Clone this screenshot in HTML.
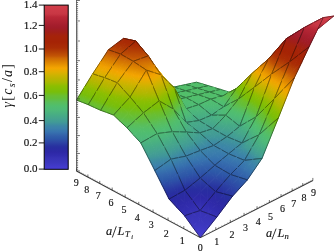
<!DOCTYPE html>
<html><head><meta charset="utf-8"><style>
html,body{margin:0;padding:0;background:#fff;}
body{width:335px;height:252px;overflow:hidden;position:relative;}
svg{position:absolute;left:0;top:0;}
.ax{stroke:#333;stroke-width:1.1;}
.zax{stroke:#444;stroke-width:0.75;}
.tk{stroke:#333;stroke-width:0.7;fill:none;}
.tk2{stroke:#888;stroke-width:0.5;fill:none;}
.m{stroke:#000;stroke-opacity:0.75;stroke-width:0.55;fill:none;}
#s path{stroke-width:1.0}
#s path.m{stroke-width:0.55}
text{font-family:"Liberation Serif",serif;fill:#111;}
.tx{opacity:0.999}
.tx text{stroke:#111;stroke-width:0.15}
.tl{font-size:10px;text-anchor:middle;}
.cl{font-size:11px;text-anchor:end;}
.it{font-style:italic;}
.ax1{font-size:12.3px}
.yl{font-size:14px;stroke:none!important}
</style></head><body>
<svg width="335" height="252" viewBox="0 0 335 252">
<defs><linearGradient id="cb" x1="0" y1="0" x2="0" y2="1"><stop offset="0.0024" stop-color="#d23e4a"/><stop offset="0.0542" stop-color="#c83744"/><stop offset="0.0725" stop-color="#b92837"/><stop offset="0.1212" stop-color="#a51e2d"/><stop offset="0.1395" stop-color="#a01c28"/><stop offset="0.1638" stop-color="#a01e19"/><stop offset="0.1882" stop-color="#a5230a"/><stop offset="0.2247" stop-color="#a52305"/><stop offset="0.2613" stop-color="#aa2d05"/><stop offset="0.2856" stop-color="#b44105"/><stop offset="0.3100" stop-color="#c35505"/><stop offset="0.3222" stop-color="#cd6905"/><stop offset="0.3465" stop-color="#dc8200"/><stop offset="0.3709" stop-color="#eb9b00"/><stop offset="0.3831" stop-color="#f5a500"/><stop offset="0.4074" stop-color="#e1af00"/><stop offset="0.4318" stop-color="#c8b400"/><stop offset="0.4440" stop-color="#beb400"/><stop offset="0.4683" stop-color="#aab900"/><stop offset="0.4927" stop-color="#8cbe00"/><stop offset="0.5292" stop-color="#78be0a"/><stop offset="0.5536" stop-color="#69be32"/><stop offset="0.5658" stop-color="#64be37"/><stop offset="0.5901" stop-color="#5abe5a"/><stop offset="0.6145" stop-color="#50be6e"/><stop offset="0.6389" stop-color="#4eb978"/><stop offset="0.6754" stop-color="#46aa87"/><stop offset="0.6876" stop-color="#46a58c"/><stop offset="0.7119" stop-color="#419b96"/><stop offset="0.7363" stop-color="#3c87a5"/><stop offset="0.7485" stop-color="#3c82aa"/><stop offset="0.7728" stop-color="#3773af"/><stop offset="0.7972" stop-color="#325faa"/><stop offset="0.8094" stop-color="#2d5aa8"/><stop offset="0.8337" stop-color="#2d46a5"/><stop offset="0.8581" stop-color="#2832a0"/><stop offset="0.8703" stop-color="#282da0"/><stop offset="0.8946" stop-color="#2d28a5"/><stop offset="0.9190" stop-color="#322daf"/><stop offset="0.9312" stop-color="#3732b4"/><stop offset="0.9616" stop-color="#3c37be"/><stop offset="0.9951" stop-color="#463cd2"/></linearGradient><linearGradient id="g0" gradientUnits="userSpaceOnUse" x1="233.1" y1="93.5" x2="232.9" y2="92.1"><stop offset="0" stop-color="#51be6c"/><stop offset="0.5" stop-color="#58be5e"/><stop offset="1" stop-color="#5fbe49"/></linearGradient>
<linearGradient id="g1" gradientUnits="userSpaceOnUse" x1="227.7" y1="94.8" x2="227.4" y2="93.7"><stop offset="0" stop-color="#51be6c"/><stop offset="0.5" stop-color="#58be5e"/><stop offset="1" stop-color="#5fbe49"/></linearGradient>
<linearGradient id="g2" gradientUnits="userSpaceOnUse" x1="240.0" y1="91.3" x2="239.8" y2="89.0"><stop offset="0" stop-color="#5dbe51"/><stop offset="0.333" stop-color="#62be3f"/><stop offset="0.667" stop-color="#67be34"/><stop offset="1" stop-color="#6ebe24"/></linearGradient>
<linearGradient id="g3" gradientUnits="userSpaceOnUse" x1="240.0" y1="91.3" x2="239.7" y2="89.2"><stop offset="0" stop-color="#5dbe51"/><stop offset="0.333" stop-color="#62be3f"/><stop offset="0.667" stop-color="#67be34"/><stop offset="1" stop-color="#6ebe24"/></linearGradient>
<linearGradient id="g4" gradientUnits="userSpaceOnUse" x1="222.2" y1="96.2" x2="221.7" y2="94.3"><stop offset="0" stop-color="#51be6c"/><stop offset="0.333" stop-color="#56be61"/><stop offset="0.667" stop-color="#5cbe54"/><stop offset="1" stop-color="#61be41"/></linearGradient>
<linearGradient id="g5" gradientUnits="userSpaceOnUse" x1="227.7" y1="94.8" x2="227.4" y2="92.7"><stop offset="0" stop-color="#51be6c"/><stop offset="0.333" stop-color="#56be61"/><stop offset="0.667" stop-color="#5cbe54"/><stop offset="1" stop-color="#61be41"/></linearGradient>
<linearGradient id="g6" gradientUnits="userSpaceOnUse" x1="216.5" y1="97.6" x2="216.9" y2="99.2"><stop offset="0" stop-color="#51be6c"/><stop offset="1" stop-color="#57be60"/></linearGradient>
<linearGradient id="g7" gradientUnits="userSpaceOnUse" x1="222.2" y1="96.2" x2="226.1" y2="98.3"><stop offset="0" stop-color="#51be6c"/><stop offset="0.333" stop-color="#56be61"/><stop offset="0.667" stop-color="#5cbe54"/><stop offset="1" stop-color="#61be41"/></linearGradient>
<linearGradient id="g8" gradientUnits="userSpaceOnUse" x1="247.0" y1="89.2" x2="246.0" y2="82.4"><stop offset="0" stop-color="#68be33"/><stop offset="0.25" stop-color="#72be1a"/><stop offset="0.5" stop-color="#7cbe08"/><stop offset="0.75" stop-color="#85be03"/><stop offset="1" stop-color="#92bd00"/></linearGradient>
<linearGradient id="g9" gradientUnits="userSpaceOnUse" x1="247.0" y1="89.2" x2="246.3" y2="82.3"><stop offset="0" stop-color="#68be33"/><stop offset="0.25" stop-color="#72be1a"/><stop offset="0.5" stop-color="#7cbe08"/><stop offset="0.75" stop-color="#85be03"/><stop offset="1" stop-color="#92bd00"/></linearGradient>
<linearGradient id="g10" gradientUnits="userSpaceOnUse" x1="234.7" y1="91.9" x2="234.4" y2="88.7"><stop offset="0" stop-color="#5fbe49"/><stop offset="0.333" stop-color="#65be36"/><stop offset="0.667" stop-color="#6cbe2a"/><stop offset="1" stop-color="#75be12"/></linearGradient>
<linearGradient id="g11" gradientUnits="userSpaceOnUse" x1="234.7" y1="91.9" x2="234.1" y2="88.9"><stop offset="0" stop-color="#5fbe49"/><stop offset="0.333" stop-color="#65be36"/><stop offset="0.667" stop-color="#6cbe2a"/><stop offset="1" stop-color="#75be12"/></linearGradient>
<linearGradient id="g12" gradientUnits="userSpaceOnUse" x1="198.3" y1="99.0" x2="199.1" y2="95.0"><stop offset="0" stop-color="#50be6e"/><stop offset="1" stop-color="#52be6a"/></linearGradient>
<linearGradient id="g13" gradientUnits="userSpaceOnUse" x1="198.3" y1="99.0" x2="197.3" y2="94.9"><stop offset="0" stop-color="#50be6e"/><stop offset="1" stop-color="#52be6a"/></linearGradient>
<linearGradient id="g14" gradientUnits="userSpaceOnUse" x1="149.1" y1="92.3" x2="152.4" y2="82.6"><stop offset="0" stop-color="#52be6a"/><stop offset="0.167" stop-color="#58be5d"/><stop offset="0.333" stop-color="#5fbe49"/><stop offset="0.5" stop-color="#65be36"/><stop offset="0.667" stop-color="#6dbe28"/><stop offset="0.833" stop-color="#76be0f"/><stop offset="1" stop-color="#7fbe07"/></linearGradient>
<linearGradient id="g15" gradientUnits="userSpaceOnUse" x1="149.1" y1="92.3" x2="152.3" y2="82.5"><stop offset="0" stop-color="#52be6a"/><stop offset="0.167" stop-color="#58be5d"/><stop offset="0.333" stop-color="#5fbe49"/><stop offset="0.5" stop-color="#65be36"/><stop offset="0.667" stop-color="#6dbe28"/><stop offset="0.833" stop-color="#76be0f"/><stop offset="1" stop-color="#7fbe07"/></linearGradient>
<linearGradient id="g16" gradientUnits="userSpaceOnUse" x1="217.2" y1="102.9" x2="222.4" y2="96.9"><stop offset="0" stop-color="#4fbc71"/><stop offset="0.5" stop-color="#52be6b"/><stop offset="1" stop-color="#57be60"/></linearGradient>
<linearGradient id="g17" gradientUnits="userSpaceOnUse" x1="217.2" y1="102.9" x2="215.9" y2="97.8"><stop offset="0" stop-color="#4fbc71"/><stop offset="1" stop-color="#51be6c"/></linearGradient>
<linearGradient id="g18" gradientUnits="userSpaceOnUse" x1="223.2" y1="97.6" x2="228.1" y2="91.5"><stop offset="0" stop-color="#57be60"/><stop offset="0.5" stop-color="#5cbe53"/><stop offset="1" stop-color="#61be41"/></linearGradient>
<linearGradient id="g19" gradientUnits="userSpaceOnUse" x1="204.7" y1="101.9" x2="205.9" y2="97.3"><stop offset="0" stop-color="#50bd70"/><stop offset="1" stop-color="#52be6b"/></linearGradient>
<linearGradient id="g20" gradientUnits="userSpaceOnUse" x1="230.1" y1="97.6" x2="238.5" y2="91.3"><stop offset="0" stop-color="#5dbe51"/><stop offset="0.333" stop-color="#63be39"/><stop offset="0.667" stop-color="#6bbe2d"/><stop offset="1" stop-color="#75be12"/></linearGradient>
<linearGradient id="g21" gradientUnits="userSpaceOnUse" x1="204.7" y1="101.9" x2="204.8" y2="96.9"><stop offset="0" stop-color="#50bd70"/><stop offset="1" stop-color="#52be6b"/></linearGradient>
<linearGradient id="g22" gradientUnits="userSpaceOnUse" x1="192.2" y1="101.1" x2="192.3" y2="96.1"><stop offset="0" stop-color="#50bd70"/><stop offset="1" stop-color="#52be6a"/></linearGradient>
<linearGradient id="g23" gradientUnits="userSpaceOnUse" x1="192.2" y1="101.1" x2="191.1" y2="96.3"><stop offset="0" stop-color="#50bd70"/><stop offset="1" stop-color="#52be6a"/></linearGradient>
<linearGradient id="g24" gradientUnits="userSpaceOnUse" x1="241.8" y1="88.8" x2="240.7" y2="81.6"><stop offset="0" stop-color="#6ebe24"/><stop offset="0.25" stop-color="#79be0a"/><stop offset="0.5" stop-color="#83be05"/><stop offset="0.75" stop-color="#8dbe00"/><stop offset="1" stop-color="#a3ba00"/></linearGradient>
<linearGradient id="g25" gradientUnits="userSpaceOnUse" x1="254.6" y1="82.7" x2="253.9" y2="75.1"><stop offset="0" stop-color="#87be02"/><stop offset="0.25" stop-color="#98bc00"/><stop offset="0.5" stop-color="#acb800"/><stop offset="0.75" stop-color="#bbb500"/><stop offset="1" stop-color="#cab400"/></linearGradient>
<linearGradient id="g26" gradientUnits="userSpaceOnUse" x1="241.8" y1="88.8" x2="240.9" y2="81.5"><stop offset="0" stop-color="#6ebe24"/><stop offset="0.25" stop-color="#79be0a"/><stop offset="0.5" stop-color="#83be05"/><stop offset="0.75" stop-color="#8dbe00"/><stop offset="1" stop-color="#a3ba00"/></linearGradient>
<linearGradient id="g27" gradientUnits="userSpaceOnUse" x1="254.6" y1="82.7" x2="253.7" y2="75.3"><stop offset="0" stop-color="#87be02"/><stop offset="0.25" stop-color="#98bc00"/><stop offset="0.5" stop-color="#acb800"/><stop offset="0.75" stop-color="#bbb500"/><stop offset="1" stop-color="#cab400"/></linearGradient>
<linearGradient id="g28" gradientUnits="userSpaceOnUse" x1="155.0" y1="94.3" x2="158.3" y2="84.5"><stop offset="0" stop-color="#52be6a"/><stop offset="0.167" stop-color="#58be5d"/><stop offset="0.333" stop-color="#5fbe49"/><stop offset="0.5" stop-color="#65be36"/><stop offset="0.667" stop-color="#6dbe28"/><stop offset="0.833" stop-color="#76be0f"/><stop offset="1" stop-color="#7fbe07"/></linearGradient>
<linearGradient id="g29" gradientUnits="userSpaceOnUse" x1="155.0" y1="94.3" x2="158.2" y2="84.4"><stop offset="0" stop-color="#52be6a"/><stop offset="0.167" stop-color="#58be5d"/><stop offset="0.333" stop-color="#5fbe49"/><stop offset="0.5" stop-color="#65be36"/><stop offset="0.667" stop-color="#6dbe28"/><stop offset="0.833" stop-color="#76be0f"/><stop offset="1" stop-color="#7fbe07"/></linearGradient>
<linearGradient id="g30" gradientUnits="userSpaceOnUse" x1="223.8" y1="106.8" x2="225.2" y2="97.9"><stop offset="0" stop-color="#4eba76"/><stop offset="0.5" stop-color="#50be6f"/><stop offset="1" stop-color="#57be60"/></linearGradient>
<linearGradient id="g31" gradientUnits="userSpaceOnUse" x1="223.8" y1="106.8" x2="228.6" y2="96.8"><stop offset="0" stop-color="#4eba76"/><stop offset="0.333" stop-color="#50bd6f"/><stop offset="0.667" stop-color="#56be63"/><stop offset="1" stop-color="#5dbe51"/></linearGradient>
<linearGradient id="g32" gradientUnits="userSpaceOnUse" x1="211.2" y1="106.4" x2="211.6" y2="99.2"><stop offset="0" stop-color="#4eba76"/><stop offset="0.5" stop-color="#4fbc72"/><stop offset="1" stop-color="#51be6c"/></linearGradient>
<linearGradient id="g33" gradientUnits="userSpaceOnUse" x1="211.2" y1="106.4" x2="210.9" y2="99.1"><stop offset="0" stop-color="#4eba76"/><stop offset="0.5" stop-color="#4fbc72"/><stop offset="1" stop-color="#51be6c"/></linearGradient>
<linearGradient id="g34" gradientUnits="userSpaceOnUse" x1="143.1" y1="79.5" x2="146.4" y2="69.2"><stop offset="0" stop-color="#7fbe07"/><stop offset="0.167" stop-color="#87be02"/><stop offset="0.333" stop-color="#95bd00"/><stop offset="0.5" stop-color="#a8b900"/><stop offset="0.667" stop-color="#b5b600"/><stop offset="0.833" stop-color="#c2b400"/><stop offset="1" stop-color="#d0b200"/></linearGradient>
<linearGradient id="g35" gradientUnits="userSpaceOnUse" x1="198.6" y1="104.7" x2="199.2" y2="99.1"><stop offset="0" stop-color="#4fbb74"/><stop offset="1" stop-color="#50be6e"/></linearGradient>
<linearGradient id="g36" gradientUnits="userSpaceOnUse" x1="198.6" y1="104.7" x2="198.2" y2="99.0"><stop offset="0" stop-color="#4fbb74"/><stop offset="1" stop-color="#50be6e"/></linearGradient>
<linearGradient id="g37" gradientUnits="userSpaceOnUse" x1="230.1" y1="97.6" x2="238.6" y2="94.4"><stop offset="0" stop-color="#5dbe51"/><stop offset="0.333" stop-color="#63be39"/><stop offset="0.667" stop-color="#6bbe2d"/><stop offset="1" stop-color="#75be12"/></linearGradient>
<linearGradient id="g38" gradientUnits="userSpaceOnUse" x1="186.0" y1="102.8" x2="185.1" y2="97.7"><stop offset="0" stop-color="#50bd70"/><stop offset="1" stop-color="#52be6a"/></linearGradient>
<linearGradient id="g39" gradientUnits="userSpaceOnUse" x1="143.1" y1="79.5" x2="146.2" y2="69.0"><stop offset="0" stop-color="#7fbe07"/><stop offset="0.167" stop-color="#87be02"/><stop offset="0.333" stop-color="#95bd00"/><stop offset="0.5" stop-color="#a8b900"/><stop offset="0.667" stop-color="#b5b600"/><stop offset="0.833" stop-color="#c2b400"/><stop offset="1" stop-color="#d0b200"/></linearGradient>
<linearGradient id="g40" gradientUnits="userSpaceOnUse" x1="186.0" y1="102.8" x2="184.8" y2="97.8"><stop offset="0" stop-color="#50bd70"/><stop offset="1" stop-color="#52be6a"/></linearGradient>
<linearGradient id="g41" gradientUnits="userSpaceOnUse" x1="237.6" y1="91.9" x2="246.8" y2="88.5"><stop offset="0" stop-color="#75be13"/><stop offset="0.25" stop-color="#7dbe07"/><stop offset="0.5" stop-color="#86be03"/><stop offset="0.75" stop-color="#90bd00"/><stop offset="1" stop-color="#a3ba00"/></linearGradient>
<linearGradient id="g42" gradientUnits="userSpaceOnUse" x1="262.4" y1="76.1" x2="261.8" y2="68.1"><stop offset="0" stop-color="#bdb400"/><stop offset="0.25" stop-color="#ccb300"/><stop offset="0.5" stop-color="#deb000"/><stop offset="0.75" stop-color="#eea900"/><stop offset="1" stop-color="#ee9e00"/></linearGradient>
<linearGradient id="g43" gradientUnits="userSpaceOnUse" x1="262.4" y1="76.1" x2="261.6" y2="68.2"><stop offset="0" stop-color="#bdb400"/><stop offset="0.25" stop-color="#ccb300"/><stop offset="0.5" stop-color="#deb000"/><stop offset="0.75" stop-color="#eea900"/><stop offset="1" stop-color="#ee9e00"/></linearGradient>
<linearGradient id="g44" gradientUnits="userSpaceOnUse" x1="161.0" y1="96.4" x2="164.1" y2="87.2"><stop offset="0" stop-color="#52be6a"/><stop offset="0.2" stop-color="#59be5c"/><stop offset="0.4" stop-color="#60be44"/><stop offset="0.6" stop-color="#68be33"/><stop offset="0.8" stop-color="#72be1b"/><stop offset="1" stop-color="#7cbe08"/></linearGradient>
<linearGradient id="g45" gradientUnits="userSpaceOnUse" x1="249.4" y1="81.9" x2="248.7" y2="73.8"><stop offset="0" stop-color="#92bd00"/><stop offset="0.2" stop-color="#a5ba00"/><stop offset="0.4" stop-color="#b3b700"/><stop offset="0.6" stop-color="#bfb400"/><stop offset="0.8" stop-color="#cbb300"/><stop offset="1" stop-color="#dbb000"/></linearGradient>
<linearGradient id="g46" gradientUnits="userSpaceOnUse" x1="249.4" y1="81.9" x2="248.4" y2="74.0"><stop offset="0" stop-color="#92bd00"/><stop offset="0.2" stop-color="#a5ba00"/><stop offset="0.4" stop-color="#b3b700"/><stop offset="0.6" stop-color="#bfb400"/><stop offset="0.8" stop-color="#cbb300"/><stop offset="1" stop-color="#dbb000"/></linearGradient>
<linearGradient id="g47" gradientUnits="userSpaceOnUse" x1="161.0" y1="96.4" x2="164.4" y2="86.7"><stop offset="0" stop-color="#52be6a"/><stop offset="0.167" stop-color="#58be5d"/><stop offset="0.333" stop-color="#5fbe49"/><stop offset="0.5" stop-color="#65be36"/><stop offset="0.667" stop-color="#6dbe28"/><stop offset="0.833" stop-color="#76be0f"/><stop offset="1" stop-color="#7fbe07"/></linearGradient>
<linearGradient id="g48" gradientUnits="userSpaceOnUse" x1="217.7" y1="110.9" x2="218.5" y2="103.0"><stop offset="0" stop-color="#4bb47d"/><stop offset="0.5" stop-color="#4eb977"/><stop offset="1" stop-color="#4fbc71"/></linearGradient>
<linearGradient id="g49" gradientUnits="userSpaceOnUse" x1="217.7" y1="110.9" x2="217.9" y2="102.9"><stop offset="0" stop-color="#4bb47d"/><stop offset="0.5" stop-color="#4eb977"/><stop offset="1" stop-color="#4fbc71"/></linearGradient>
<linearGradient id="g50" gradientUnits="userSpaceOnUse" x1="223.8" y1="106.8" x2="232.3" y2="100.6"><stop offset="0" stop-color="#4eba76"/><stop offset="0.333" stop-color="#50bd6f"/><stop offset="0.667" stop-color="#56be63"/><stop offset="1" stop-color="#5dbe51"/></linearGradient>
<linearGradient id="g51" gradientUnits="userSpaceOnUse" x1="205.0" y1="109.9" x2="205.1" y2="101.9"><stop offset="0" stop-color="#4cb57c"/><stop offset="0.5" stop-color="#4eba76"/><stop offset="1" stop-color="#50bd70"/></linearGradient>
<linearGradient id="g52" gradientUnits="userSpaceOnUse" x1="205.0" y1="109.9" x2="204.5" y2="101.9"><stop offset="0" stop-color="#4cb57c"/><stop offset="0.5" stop-color="#4eba76"/><stop offset="1" stop-color="#50bd70"/></linearGradient>
<linearGradient id="g53" gradientUnits="userSpaceOnUse" x1="231.1" y1="102.9" x2="240.7" y2="96.7"><stop offset="0" stop-color="#58be5e"/><stop offset="0.25" stop-color="#5ebe4b"/><stop offset="0.5" stop-color="#64be37"/><stop offset="0.75" stop-color="#6bbe2c"/><stop offset="1" stop-color="#75be13"/></linearGradient>
<linearGradient id="g54" gradientUnits="userSpaceOnUse" x1="192.4" y1="106.7" x2="191.7" y2="101.2"><stop offset="0" stop-color="#4fbb75"/><stop offset="1" stop-color="#50bd70"/></linearGradient>
<linearGradient id="g55" gradientUnits="userSpaceOnUse" x1="149.0" y1="81.4" x2="152.3" y2="70.9"><stop offset="0" stop-color="#7fbe07"/><stop offset="0.167" stop-color="#87be02"/><stop offset="0.333" stop-color="#95bd00"/><stop offset="0.5" stop-color="#a8b900"/><stop offset="0.667" stop-color="#b5b600"/><stop offset="0.833" stop-color="#c2b400"/><stop offset="1" stop-color="#d0b200"/></linearGradient>
<linearGradient id="g56" gradientUnits="userSpaceOnUse" x1="192.4" y1="106.7" x2="191.4" y2="101.2"><stop offset="0" stop-color="#4fbb75"/><stop offset="1" stop-color="#50bd70"/></linearGradient>
<linearGradient id="g57" gradientUnits="userSpaceOnUse" x1="179.6" y1="104.6" x2="178.6" y2="99.2"><stop offset="0" stop-color="#4fbd71"/><stop offset="1" stop-color="#52be6a"/></linearGradient>
<linearGradient id="g58" gradientUnits="userSpaceOnUse" x1="179.6" y1="104.6" x2="178.4" y2="99.4"><stop offset="0" stop-color="#4fbd71"/><stop offset="1" stop-color="#52be6a"/></linearGradient>
<linearGradient id="g59" gradientUnits="userSpaceOnUse" x1="149.0" y1="81.4" x2="152.2" y2="70.8"><stop offset="0" stop-color="#7fbe07"/><stop offset="0.167" stop-color="#87be02"/><stop offset="0.333" stop-color="#95bd00"/><stop offset="0.5" stop-color="#a8b900"/><stop offset="0.667" stop-color="#b5b600"/><stop offset="0.833" stop-color="#c2b400"/><stop offset="1" stop-color="#d0b200"/></linearGradient>
<linearGradient id="g60" gradientUnits="userSpaceOnUse" x1="237.6" y1="91.9" x2="246.8" y2="84.6"><stop offset="0" stop-color="#75be13"/><stop offset="0.25" stop-color="#7dbe07"/><stop offset="0.5" stop-color="#86be03"/><stop offset="0.75" stop-color="#90bd00"/><stop offset="1" stop-color="#a3ba00"/></linearGradient>
<linearGradient id="g61" gradientUnits="userSpaceOnUse" x1="167.1" y1="98.4" x2="170.0" y2="90.0"><stop offset="0" stop-color="#52be6a"/><stop offset="0.2" stop-color="#59be5c"/><stop offset="0.4" stop-color="#60be47"/><stop offset="0.6" stop-color="#66be35"/><stop offset="0.8" stop-color="#6fbe22"/><stop offset="1" stop-color="#79be0a"/></linearGradient>
<linearGradient id="g62" gradientUnits="userSpaceOnUse" x1="245.3" y1="86.2" x2="255.7" y2="78.5"><stop offset="0" stop-color="#95bc00"/><stop offset="0.25" stop-color="#abb900"/><stop offset="0.5" stop-color="#bab500"/><stop offset="0.75" stop-color="#c8b400"/><stop offset="1" stop-color="#dbb000"/></linearGradient>
<linearGradient id="g63" gradientUnits="userSpaceOnUse" x1="270.4" y1="69.3" x2="269.8" y2="60.9"><stop offset="0" stop-color="#efa800"/><stop offset="0.25" stop-color="#ec9c00"/><stop offset="0.5" stop-color="#e18a00"/><stop offset="0.75" stop-color="#d67802"/><stop offset="1" stop-color="#ca6305"/></linearGradient>
<linearGradient id="g64" gradientUnits="userSpaceOnUse" x1="136.8" y1="66.2" x2="140.1" y2="55.2"><stop offset="0" stop-color="#d0b200"/><stop offset="0.167" stop-color="#e0af00"/><stop offset="0.333" stop-color="#eda900"/><stop offset="0.5" stop-color="#f0a000"/><stop offset="0.667" stop-color="#e59200"/><stop offset="0.833" stop-color="#dc8200"/><stop offset="1" stop-color="#d27203"/></linearGradient>
<linearGradient id="g65" gradientUnits="userSpaceOnUse" x1="270.4" y1="69.3" x2="269.7" y2="61.0"><stop offset="0" stop-color="#efa800"/><stop offset="0.25" stop-color="#ec9c00"/><stop offset="0.5" stop-color="#e18a00"/><stop offset="0.75" stop-color="#d67802"/><stop offset="1" stop-color="#ca6305"/></linearGradient>
<linearGradient id="g66" gradientUnits="userSpaceOnUse" x1="211.5" y1="115.2" x2="212.0" y2="106.4"><stop offset="0" stop-color="#48ad84"/><stop offset="0.5" stop-color="#4bb47d"/><stop offset="1" stop-color="#4eba76"/></linearGradient>
<linearGradient id="g67" gradientUnits="userSpaceOnUse" x1="217.7" y1="110.9" x2="222.4" y2="113.5"><stop offset="0" stop-color="#4bb47d"/><stop offset="0.5" stop-color="#4eb977"/><stop offset="1" stop-color="#4fbc72"/></linearGradient>
<linearGradient id="g68" gradientUnits="userSpaceOnUse" x1="257.2" y1="74.8" x2="256.6" y2="66.6"><stop offset="0" stop-color="#cab400"/><stop offset="0.25" stop-color="#ddb000"/><stop offset="0.5" stop-color="#eca900"/><stop offset="0.75" stop-color="#ef9f00"/><stop offset="1" stop-color="#e38e00"/></linearGradient>
<linearGradient id="g69" gradientUnits="userSpaceOnUse" x1="167.1" y1="98.4" x2="170.3" y2="89.5"><stop offset="0" stop-color="#52be6a"/><stop offset="0.2" stop-color="#59be5c"/><stop offset="0.4" stop-color="#60be44"/><stop offset="0.6" stop-color="#68be33"/><stop offset="0.8" stop-color="#72be1b"/><stop offset="1" stop-color="#7cbe08"/></linearGradient>
<linearGradient id="g70" gradientUnits="userSpaceOnUse" x1="257.2" y1="74.8" x2="256.5" y2="66.7"><stop offset="0" stop-color="#cab400"/><stop offset="0.25" stop-color="#ddb000"/><stop offset="0.5" stop-color="#eca900"/><stop offset="0.75" stop-color="#ef9f00"/><stop offset="1" stop-color="#e38e00"/></linearGradient>
<linearGradient id="g71" gradientUnits="userSpaceOnUse" x1="136.8" y1="66.2" x2="139.9" y2="55.1"><stop offset="0" stop-color="#d0b200"/><stop offset="0.167" stop-color="#e0af00"/><stop offset="0.333" stop-color="#eda900"/><stop offset="0.5" stop-color="#f0a000"/><stop offset="0.667" stop-color="#e59200"/><stop offset="0.833" stop-color="#dc8200"/><stop offset="1" stop-color="#d27203"/></linearGradient>
<linearGradient id="g72" gradientUnits="userSpaceOnUse" x1="211.5" y1="115.2" x2="211.4" y2="106.4"><stop offset="0" stop-color="#48ad84"/><stop offset="0.5" stop-color="#4bb47d"/><stop offset="1" stop-color="#4eba76"/></linearGradient>
<linearGradient id="g73" gradientUnits="userSpaceOnUse" x1="223.8" y1="106.8" x2="229.7" y2="108.3"><stop offset="0" stop-color="#4eba76"/><stop offset="0.333" stop-color="#4fbd71"/><stop offset="0.667" stop-color="#53be69"/><stop offset="1" stop-color="#58be5e"/></linearGradient>
<linearGradient id="g74" gradientUnits="userSpaceOnUse" x1="198.8" y1="112.2" x2="197.6" y2="104.8"><stop offset="0" stop-color="#4bb47d"/><stop offset="0.5" stop-color="#4eb978"/><stop offset="1" stop-color="#4fbb74"/></linearGradient>
<linearGradient id="g75" gradientUnits="userSpaceOnUse" x1="198.8" y1="112.2" x2="197.4" y2="104.9"><stop offset="0" stop-color="#4bb47d"/><stop offset="0.5" stop-color="#4eb978"/><stop offset="1" stop-color="#4fbb74"/></linearGradient>
<linearGradient id="g76" gradientUnits="userSpaceOnUse" x1="231.1" y1="102.9" x2="239.5" y2="93.7"><stop offset="0" stop-color="#58be5e"/><stop offset="0.25" stop-color="#5ebe4b"/><stop offset="0.5" stop-color="#64be37"/><stop offset="0.75" stop-color="#6bbe2c"/><stop offset="1" stop-color="#75be13"/></linearGradient>
<linearGradient id="g77" gradientUnits="userSpaceOnUse" x1="186.0" y1="108.8" x2="185.2" y2="102.9"><stop offset="0" stop-color="#4eba76"/><stop offset="1" stop-color="#50bd70"/></linearGradient>
<linearGradient id="g78" gradientUnits="userSpaceOnUse" x1="161.2" y1="86.2" x2="164.5" y2="76.9"><stop offset="0" stop-color="#7cbe08"/><stop offset="0.2" stop-color="#85be03"/><stop offset="0.4" stop-color="#93bd00"/><stop offset="0.6" stop-color="#a8b900"/><stop offset="0.8" stop-color="#b7b600"/><stop offset="1" stop-color="#c6b400"/></linearGradient>
<linearGradient id="g79" gradientUnits="userSpaceOnUse" x1="186.0" y1="108.8" x2="184.9" y2="103.0"><stop offset="0" stop-color="#4eba76"/><stop offset="1" stop-color="#50bd70"/></linearGradient>
<linearGradient id="g80" gradientUnits="userSpaceOnUse" x1="238.6" y1="99.0" x2="248.4" y2="89.3"><stop offset="0" stop-color="#68be33"/><stop offset="0.25" stop-color="#72be19"/><stop offset="0.5" stop-color="#7dbe08"/><stop offset="0.75" stop-color="#86be03"/><stop offset="1" stop-color="#95bc00"/></linearGradient>
<linearGradient id="g81" gradientUnits="userSpaceOnUse" x1="155.0" y1="83.3" x2="158.8" y2="73.6"><stop offset="0" stop-color="#7fbe07"/><stop offset="0.167" stop-color="#87be02"/><stop offset="0.333" stop-color="#95bd00"/><stop offset="0.5" stop-color="#a8b900"/><stop offset="0.667" stop-color="#b5b600"/><stop offset="0.833" stop-color="#c2b400"/><stop offset="1" stop-color="#d0b200"/></linearGradient>
<linearGradient id="g82" gradientUnits="userSpaceOnUse" x1="179.6" y1="104.6" x2="182.7" y2="97.7"><stop offset="0" stop-color="#4fbd71"/><stop offset="0.2" stop-color="#54be67"/><stop offset="0.4" stop-color="#5abe5a"/><stop offset="0.6" stop-color="#60be44"/><stop offset="0.8" stop-color="#67be34"/><stop offset="1" stop-color="#6fbe21"/></linearGradient>
<linearGradient id="g83" gradientUnits="userSpaceOnUse" x1="245.3" y1="86.2" x2="254.8" y2="76.1"><stop offset="0" stop-color="#95bc00"/><stop offset="0.25" stop-color="#abb900"/><stop offset="0.5" stop-color="#bab500"/><stop offset="0.75" stop-color="#c8b400"/><stop offset="1" stop-color="#dbb000"/></linearGradient>
<linearGradient id="g84" gradientUnits="userSpaceOnUse" x1="211.5" y1="115.2" x2="218.3" y2="112.6"><stop offset="0" stop-color="#48ad84"/><stop offset="1" stop-color="#4bb47d"/></linearGradient>
<linearGradient id="g85" gradientUnits="userSpaceOnUse" x1="173.3" y1="100.6" x2="176.7" y2="93.4"><stop offset="0" stop-color="#52be6a"/><stop offset="0.2" stop-color="#59be5c"/><stop offset="0.4" stop-color="#60be47"/><stop offset="0.6" stop-color="#66be35"/><stop offset="0.8" stop-color="#6fbe22"/><stop offset="1" stop-color="#79be0a"/></linearGradient>
<linearGradient id="g86" gradientUnits="userSpaceOnUse" x1="205.3" y1="117.8" x2="204.2" y2="110.0"><stop offset="0" stop-color="#47ab86"/><stop offset="0.5" stop-color="#49b081"/><stop offset="1" stop-color="#4cb57c"/></linearGradient>
<linearGradient id="g87" gradientUnits="userSpaceOnUse" x1="218.5" y1="115.2" x2="226.1" y2="112.9"><stop offset="0" stop-color="#4bb47d"/><stop offset="0.5" stop-color="#4eb978"/><stop offset="1" stop-color="#4fbc72"/></linearGradient>
<linearGradient id="g88" gradientUnits="userSpaceOnUse" x1="142.8" y1="68.0" x2="146.1" y2="56.8"><stop offset="0" stop-color="#d0b200"/><stop offset="0.167" stop-color="#e0af00"/><stop offset="0.333" stop-color="#eda900"/><stop offset="0.5" stop-color="#f0a000"/><stop offset="0.667" stop-color="#e59100"/><stop offset="0.833" stop-color="#dc8100"/><stop offset="1" stop-color="#d27103"/></linearGradient>
<linearGradient id="g89" gradientUnits="userSpaceOnUse" x1="278.7" y1="62.3" x2="278.0" y2="51.4"><stop offset="0" stop-color="#d57602"/><stop offset="0.2" stop-color="#ca6205"/><stop offset="0.4" stop-color="#be4e05"/><stop offset="0.6" stop-color="#b34005"/><stop offset="0.8" stop-color="#ac3205"/><stop offset="1" stop-color="#a82a05"/></linearGradient>
<linearGradient id="g90" gradientUnits="userSpaceOnUse" x1="205.3" y1="117.8" x2="204.1" y2="110.1"><stop offset="0" stop-color="#47ab86"/><stop offset="0.5" stop-color="#49b081"/><stop offset="1" stop-color="#4cb57c"/></linearGradient>
<linearGradient id="g91" gradientUnits="userSpaceOnUse" x1="253.3" y1="79.7" x2="263.1" y2="69.3"><stop offset="0" stop-color="#c8b400"/><stop offset="0.2" stop-color="#d7b100"/><stop offset="0.4" stop-color="#e5ad00"/><stop offset="0.6" stop-color="#f1a700"/><stop offset="0.8" stop-color="#ec9c00"/><stop offset="1" stop-color="#e38e00"/></linearGradient>
<linearGradient id="g92" gradientUnits="userSpaceOnUse" x1="278.7" y1="62.3" x2="277.6" y2="51.6"><stop offset="0" stop-color="#d57602"/><stop offset="0.2" stop-color="#ca6205"/><stop offset="0.4" stop-color="#be4e05"/><stop offset="0.6" stop-color="#b34005"/><stop offset="0.8" stop-color="#ac3205"/><stop offset="1" stop-color="#a82a05"/></linearGradient>
<linearGradient id="g93" gradientUnits="userSpaceOnUse" x1="142.8" y1="68.0" x2="145.9" y2="56.6"><stop offset="0" stop-color="#d0b200"/><stop offset="0.167" stop-color="#e0af00"/><stop offset="0.333" stop-color="#eda900"/><stop offset="0.5" stop-color="#f0a000"/><stop offset="0.667" stop-color="#e59100"/><stop offset="0.833" stop-color="#dc8100"/><stop offset="1" stop-color="#d27103"/></linearGradient>
<linearGradient id="g94" gradientUnits="userSpaceOnUse" x1="224.9" y1="109.0" x2="232.3" y2="106.0"><stop offset="0" stop-color="#4fbc72"/><stop offset="0.5" stop-color="#52be6a"/><stop offset="1" stop-color="#58be5e"/></linearGradient>
<linearGradient id="g95" gradientUnits="userSpaceOnUse" x1="265.3" y1="67.9" x2="264.7" y2="59.3"><stop offset="0" stop-color="#ee9e00"/><stop offset="0.25" stop-color="#e28c00"/><stop offset="0.5" stop-color="#d77902"/><stop offset="0.75" stop-color="#cb6505"/><stop offset="1" stop-color="#be4e05"/></linearGradient>
<linearGradient id="g96" gradientUnits="userSpaceOnUse" x1="265.3" y1="67.9" x2="264.5" y2="59.4"><stop offset="0" stop-color="#ee9e00"/><stop offset="0.25" stop-color="#e28c00"/><stop offset="0.5" stop-color="#d77902"/><stop offset="0.75" stop-color="#cb6505"/><stop offset="1" stop-color="#be4e05"/></linearGradient>
<linearGradient id="g97" gradientUnits="userSpaceOnUse" x1="192.4" y1="114.6" x2="191.2" y2="106.9"><stop offset="0" stop-color="#4ab27f"/><stop offset="0.5" stop-color="#4db77a"/><stop offset="1" stop-color="#4fbb75"/></linearGradient>
<linearGradient id="g98" gradientUnits="userSpaceOnUse" x1="232.2" y1="107.0" x2="240.5" y2="103.9"><stop offset="0" stop-color="#57be5f"/><stop offset="0.333" stop-color="#5dbe50"/><stop offset="0.667" stop-color="#62be3d"/><stop offset="1" stop-color="#68be33"/></linearGradient>
<linearGradient id="g99" gradientUnits="userSpaceOnUse" x1="192.4" y1="114.6" x2="191.0" y2="107.0"><stop offset="0" stop-color="#4ab27f"/><stop offset="0.5" stop-color="#4db77a"/><stop offset="1" stop-color="#4fbb75"/></linearGradient>
<linearGradient id="g100" gradientUnits="userSpaceOnUse" x1="130.3" y1="52.5" x2="133.5" y2="40.7"><stop offset="0" stop-color="#d37303"/><stop offset="0.167" stop-color="#c85f05"/><stop offset="0.333" stop-color="#bd4d05"/><stop offset="0.5" stop-color="#b44105"/><stop offset="0.667" stop-color="#ad3405"/><stop offset="0.833" stop-color="#a92b05"/><stop offset="1" stop-color="#a72705"/></linearGradient>
<linearGradient id="g101" gradientUnits="userSpaceOnUse" x1="167.4" y1="89.1" x2="170.5" y2="80.6"><stop offset="0" stop-color="#79be0a"/><stop offset="0.2" stop-color="#82be05"/><stop offset="0.4" stop-color="#8bbe01"/><stop offset="0.6" stop-color="#9dbb00"/><stop offset="0.8" stop-color="#afb800"/><stop offset="1" stop-color="#bdb400"/></linearGradient>
<linearGradient id="g102" gradientUnits="userSpaceOnUse" x1="130.3" y1="52.5" x2="133.3" y2="40.6"><stop offset="0" stop-color="#d37303"/><stop offset="0.167" stop-color="#c85f05"/><stop offset="0.333" stop-color="#bd4d05"/><stop offset="0.5" stop-color="#b44105"/><stop offset="0.667" stop-color="#ad3405"/><stop offset="0.833" stop-color="#a92b05"/><stop offset="1" stop-color="#a72705"/></linearGradient>
<linearGradient id="g103" gradientUnits="userSpaceOnUse" x1="238.6" y1="99.0" x2="248.3" y2="89.0"><stop offset="0" stop-color="#68be33"/><stop offset="0.25" stop-color="#72be19"/><stop offset="0.5" stop-color="#7dbe08"/><stop offset="0.75" stop-color="#86be03"/><stop offset="1" stop-color="#95bc00"/></linearGradient>
<linearGradient id="g104" gradientUnits="userSpaceOnUse" x1="161.2" y1="86.2" x2="164.7" y2="77.3"><stop offset="0" stop-color="#7cbe08"/><stop offset="0.2" stop-color="#85be03"/><stop offset="0.4" stop-color="#93bd00"/><stop offset="0.6" stop-color="#a8b900"/><stop offset="0.8" stop-color="#b7b600"/><stop offset="1" stop-color="#c6b400"/></linearGradient>
<linearGradient id="g105" gradientUnits="userSpaceOnUse" x1="186.0" y1="108.8" x2="188.9" y2="102.4"><stop offset="0" stop-color="#4eba76"/><stop offset="0.2" stop-color="#50bd70"/><stop offset="0.4" stop-color="#54be65"/><stop offset="0.6" stop-color="#5abe58"/><stop offset="0.8" stop-color="#61be43"/><stop offset="1" stop-color="#67be34"/></linearGradient>
<linearGradient id="g106" gradientUnits="userSpaceOnUse" x1="246.5" y1="93.1" x2="256.6" y2="82.8"><stop offset="0" stop-color="#84be04"/><stop offset="0.2" stop-color="#8dbe00"/><stop offset="0.4" stop-color="#a0bb00"/><stop offset="0.6" stop-color="#afb800"/><stop offset="0.8" stop-color="#bbb500"/><stop offset="1" stop-color="#c8b400"/></linearGradient>
<linearGradient id="g107" gradientUnits="userSpaceOnUse" x1="179.6" y1="104.6" x2="182.8" y2="98.1"><stop offset="0" stop-color="#4fbd71"/><stop offset="0.2" stop-color="#54be67"/><stop offset="0.4" stop-color="#5abe5a"/><stop offset="0.6" stop-color="#60be44"/><stop offset="0.8" stop-color="#67be34"/><stop offset="1" stop-color="#6fbe21"/></linearGradient>
<linearGradient id="g108" gradientUnits="userSpaceOnUse" x1="205.3" y1="117.8" x2="208.9" y2="113.2"><stop offset="0" stop-color="#47ab86"/><stop offset="1" stop-color="#48ad84"/></linearGradient>
<linearGradient id="g109" gradientUnits="userSpaceOnUse" x1="212.2" y1="119.8" x2="219.2" y2="116.6"><stop offset="0" stop-color="#47ac85"/><stop offset="1" stop-color="#4bb47d"/></linearGradient>
<linearGradient id="g110" gradientUnits="userSpaceOnUse" x1="218.5" y1="115.2" x2="224.2" y2="108.4"><stop offset="0" stop-color="#4bb47d"/><stop offset="0.5" stop-color="#4eb978"/><stop offset="1" stop-color="#4fbc72"/></linearGradient>
<linearGradient id="g111" gradientUnits="userSpaceOnUse" x1="155.0" y1="73.5" x2="158.3" y2="64.9"><stop offset="0" stop-color="#c6b400"/><stop offset="0.2" stop-color="#d6b100"/><stop offset="0.4" stop-color="#e6ad00"/><stop offset="0.6" stop-color="#f3a600"/><stop offset="0.8" stop-color="#ea9900"/><stop offset="1" stop-color="#e08800"/></linearGradient>
<linearGradient id="g112" gradientUnits="userSpaceOnUse" x1="199.0" y1="120.5" x2="197.8" y2="112.4"><stop offset="0" stop-color="#46a988"/><stop offset="0.5" stop-color="#48ae83"/><stop offset="1" stop-color="#4bb47d"/></linearGradient>
<linearGradient id="g113" gradientUnits="userSpaceOnUse" x1="225.7" y1="115.2" x2="233.4" y2="108.4"><stop offset="0" stop-color="#4eb977"/><stop offset="0.333" stop-color="#4fbc72"/><stop offset="0.667" stop-color="#52be6a"/><stop offset="1" stop-color="#57be5f"/></linearGradient>
<linearGradient id="g114" gradientUnits="userSpaceOnUse" x1="199.0" y1="120.5" x2="197.6" y2="112.4"><stop offset="0" stop-color="#46a988"/><stop offset="0.5" stop-color="#48ae83"/><stop offset="1" stop-color="#4bb47d"/></linearGradient>
<linearGradient id="g115" gradientUnits="userSpaceOnUse" x1="253.3" y1="79.7" x2="262.4" y2="68.3"><stop offset="0" stop-color="#c8b400"/><stop offset="0.2" stop-color="#d7b100"/><stop offset="0.4" stop-color="#e5ad00"/><stop offset="0.6" stop-color="#f1a700"/><stop offset="0.8" stop-color="#ec9c00"/><stop offset="1" stop-color="#e38e00"/></linearGradient>
<linearGradient id="g116" gradientUnits="userSpaceOnUse" x1="148.9" y1="69.8" x2="153.1" y2="60.6"><stop offset="0" stop-color="#d0b200"/><stop offset="0.167" stop-color="#e0af00"/><stop offset="0.333" stop-color="#eda900"/><stop offset="0.5" stop-color="#f0a000"/><stop offset="0.667" stop-color="#e59100"/><stop offset="0.833" stop-color="#dc8100"/><stop offset="1" stop-color="#d27103"/></linearGradient>
<linearGradient id="g117" gradientUnits="userSpaceOnUse" x1="287.4" y1="53.2" x2="286.9" y2="41.5"><stop offset="0" stop-color="#ad3305"/><stop offset="0.2" stop-color="#a92a05"/><stop offset="0.4" stop-color="#a62605"/><stop offset="0.6" stop-color="#a52306"/><stop offset="0.8" stop-color="#a52308"/><stop offset="1" stop-color="#a4220e"/></linearGradient>
<linearGradient id="g118" gradientUnits="userSpaceOnUse" x1="232.2" y1="107.0" x2="237.3" y2="98.2"><stop offset="0" stop-color="#57be5f"/><stop offset="0.333" stop-color="#5dbe50"/><stop offset="0.667" stop-color="#62be3d"/><stop offset="1" stop-color="#68be33"/></linearGradient>
<linearGradient id="g119" gradientUnits="userSpaceOnUse" x1="287.4" y1="53.2" x2="286.4" y2="41.7"><stop offset="0" stop-color="#ad3305"/><stop offset="0.2" stop-color="#a92a05"/><stop offset="0.4" stop-color="#a62605"/><stop offset="0.6" stop-color="#a52306"/><stop offset="0.8" stop-color="#a52308"/><stop offset="1" stop-color="#a4220e"/></linearGradient>
<linearGradient id="g120" gradientUnits="userSpaceOnUse" x1="261.5" y1="73.0" x2="271.0" y2="61.2"><stop offset="0" stop-color="#f2a200"/><stop offset="0.2" stop-color="#e79400"/><stop offset="0.4" stop-color="#dd8400"/><stop offset="0.6" stop-color="#d47403"/><stop offset="0.8" stop-color="#c96105"/><stop offset="1" stop-color="#be4e05"/></linearGradient>
<linearGradient id="g121" gradientUnits="userSpaceOnUse" x1="173.7" y1="93.7" x2="177.0" y2="86.8"><stop offset="0" stop-color="#6fbe21"/><stop offset="0.2" stop-color="#79be0a"/><stop offset="0.4" stop-color="#81be05"/><stop offset="0.6" stop-color="#8abe01"/><stop offset="0.8" stop-color="#9bbc00"/><stop offset="1" stop-color="#adb800"/></linearGradient>
<linearGradient id="g122" gradientUnits="userSpaceOnUse" x1="273.6" y1="60.7" x2="272.9" y2="49.3"><stop offset="0" stop-color="#ca6305"/><stop offset="0.2" stop-color="#be4e05"/><stop offset="0.4" stop-color="#b34005"/><stop offset="0.6" stop-color="#ac3105"/><stop offset="0.8" stop-color="#a82a05"/><stop offset="1" stop-color="#a62505"/></linearGradient>
<linearGradient id="g123" gradientUnits="userSpaceOnUse" x1="192.4" y1="114.6" x2="191.6" y2="115.4"><stop offset="0" stop-color="#4ab27f"/><stop offset="0.333" stop-color="#4db77a"/><stop offset="0.667" stop-color="#4fbb74"/><stop offset="1" stop-color="#50be6f"/></linearGradient>
<linearGradient id="g124" gradientUnits="userSpaceOnUse" x1="239.6" y1="106.9" x2="249.9" y2="96.5"><stop offset="0" stop-color="#5ebe4e"/><stop offset="0.2" stop-color="#64be38"/><stop offset="0.4" stop-color="#6abe2f"/><stop offset="0.6" stop-color="#73be16"/><stop offset="0.8" stop-color="#7cbe08"/><stop offset="1" stop-color="#84be04"/></linearGradient>
<linearGradient id="g125" gradientUnits="userSpaceOnUse" x1="273.6" y1="60.7" x2="272.5" y2="49.5"><stop offset="0" stop-color="#ca6305"/><stop offset="0.2" stop-color="#be4e05"/><stop offset="0.4" stop-color="#b34005"/><stop offset="0.6" stop-color="#ac3105"/><stop offset="0.8" stop-color="#a82a05"/><stop offset="1" stop-color="#a62505"/></linearGradient>
<linearGradient id="g126" gradientUnits="userSpaceOnUse" x1="122.1" y1="45.7" x2="124.0" y2="38.5"><stop offset="0" stop-color="#ad3305"/><stop offset="0.5" stop-color="#a92b05"/><stop offset="1" stop-color="#a72705"/></linearGradient>
<linearGradient id="g127" gradientUnits="userSpaceOnUse" x1="136.3" y1="54.1" x2="139.6" y2="42.0"><stop offset="0" stop-color="#d27203"/><stop offset="0.167" stop-color="#c75e05"/><stop offset="0.333" stop-color="#bd4c05"/><stop offset="0.5" stop-color="#b34005"/><stop offset="0.667" stop-color="#ad3305"/><stop offset="0.833" stop-color="#a92b05"/><stop offset="1" stop-color="#a72605"/></linearGradient>
<linearGradient id="g128" gradientUnits="userSpaceOnUse" x1="167.4" y1="89.1" x2="170.9" y2="81.9"><stop offset="0" stop-color="#79be0a"/><stop offset="0.2" stop-color="#82be05"/><stop offset="0.4" stop-color="#8bbe01"/><stop offset="0.6" stop-color="#9dbb00"/><stop offset="0.8" stop-color="#afb800"/><stop offset="1" stop-color="#bdb400"/></linearGradient>
<linearGradient id="g129" gradientUnits="userSpaceOnUse" x1="122.1" y1="45.7" x2="124.3" y2="38.1"><stop offset="0" stop-color="#ad3305"/><stop offset="0.5" stop-color="#a92b05"/><stop offset="1" stop-color="#a72705"/></linearGradient>
<linearGradient id="g130" gradientUnits="userSpaceOnUse" x1="136.3" y1="54.1" x2="139.4" y2="41.9"><stop offset="0" stop-color="#d27203"/><stop offset="0.167" stop-color="#c75e05"/><stop offset="0.333" stop-color="#bd4c05"/><stop offset="0.5" stop-color="#b34005"/><stop offset="0.667" stop-color="#ad3305"/><stop offset="0.833" stop-color="#a92b05"/><stop offset="1" stop-color="#a72605"/></linearGradient>
<linearGradient id="g131" gradientUnits="userSpaceOnUse" x1="186.0" y1="108.8" x2="185.3" y2="109.1"><stop offset="0" stop-color="#4eba76"/><stop offset="0.2" stop-color="#50bd70"/><stop offset="0.4" stop-color="#54be65"/><stop offset="0.6" stop-color="#5abe58"/><stop offset="0.8" stop-color="#61be43"/><stop offset="1" stop-color="#67be34"/></linearGradient>
<linearGradient id="g132" gradientUnits="userSpaceOnUse" x1="246.5" y1="93.1" x2="255.9" y2="81.9"><stop offset="0" stop-color="#84be04"/><stop offset="0.2" stop-color="#8dbe00"/><stop offset="0.4" stop-color="#a0bb00"/><stop offset="0.6" stop-color="#afb800"/><stop offset="0.8" stop-color="#bbb500"/><stop offset="1" stop-color="#c8b400"/></linearGradient>
<linearGradient id="g133" gradientUnits="userSpaceOnUse" x1="205.7" y1="124.6" x2="208.5" y2="118.2"><stop offset="0" stop-color="#46a58c"/><stop offset="1" stop-color="#47ac85"/></linearGradient>
<linearGradient id="g134" gradientUnits="userSpaceOnUse" x1="212.2" y1="119.8" x2="214.9" y2="113.6"><stop offset="0" stop-color="#47ac85"/><stop offset="1" stop-color="#4bb47d"/></linearGradient>
<linearGradient id="g135" gradientUnits="userSpaceOnUse" x1="205.7" y1="124.6" x2="205.4" y2="117.8"><stop offset="0" stop-color="#46a58c"/><stop offset="1" stop-color="#47ab86"/></linearGradient>
<linearGradient id="g136" gradientUnits="userSpaceOnUse" x1="219.3" y1="121.9" x2="225.1" y2="114.7"><stop offset="0" stop-color="#48ad84"/><stop offset="0.5" stop-color="#4bb37e"/><stop offset="1" stop-color="#4eb977"/></linearGradient>
<linearGradient id="g137" gradientUnits="userSpaceOnUse" x1="232.7" y1="120.7" x2="234.8" y2="107.4"><stop offset="0" stop-color="#4ab27f"/><stop offset="0.25" stop-color="#4db879"/><stop offset="0.5" stop-color="#4fbc73"/><stop offset="0.75" stop-color="#51be6c"/><stop offset="1" stop-color="#57be5f"/></linearGradient>
<linearGradient id="g138" gradientUnits="userSpaceOnUse" x1="161.3" y1="77.3" x2="164.0" y2="70.5"><stop offset="0" stop-color="#bdb400"/><stop offset="0.25" stop-color="#ccb300"/><stop offset="0.5" stop-color="#deb000"/><stop offset="0.75" stop-color="#eda900"/><stop offset="1" stop-color="#ee9e00"/></linearGradient>
<linearGradient id="g139" gradientUnits="userSpaceOnUse" x1="254.6" y1="87.1" x2="264.5" y2="75.5"><stop offset="0" stop-color="#b3b700"/><stop offset="0.2" stop-color="#c0b400"/><stop offset="0.4" stop-color="#ceb300"/><stop offset="0.6" stop-color="#deb000"/><stop offset="0.8" stop-color="#ebaa00"/><stop offset="1" stop-color="#f2a200"/></linearGradient>
<linearGradient id="g140" gradientUnits="userSpaceOnUse" x1="232.7" y1="120.7" x2="238.9" y2="106.5"><stop offset="0" stop-color="#4ab27f"/><stop offset="0.2" stop-color="#4db879"/><stop offset="0.4" stop-color="#4fbc73"/><stop offset="0.6" stop-color="#51be6c"/><stop offset="0.8" stop-color="#57be5f"/><stop offset="1" stop-color="#5ebe4e"/></linearGradient>
<linearGradient id="g141" gradientUnits="userSpaceOnUse" x1="199.0" y1="120.5" x2="195.2" y2="113.2"><stop offset="0" stop-color="#46a988"/><stop offset="0.5" stop-color="#48ad84"/><stop offset="1" stop-color="#4ab27f"/></linearGradient>
<linearGradient id="g142" gradientUnits="userSpaceOnUse" x1="155.0" y1="73.5" x2="158.7" y2="66.2"><stop offset="0" stop-color="#c6b400"/><stop offset="0.2" stop-color="#d6b100"/><stop offset="0.4" stop-color="#e6ad00"/><stop offset="0.6" stop-color="#f3a600"/><stop offset="0.8" stop-color="#ea9900"/><stop offset="1" stop-color="#e08800"/></linearGradient>
<linearGradient id="g143" gradientUnits="userSpaceOnUse" x1="296.3" y1="43.9" x2="296.2" y2="35.7"><stop offset="0" stop-color="#a52308"/><stop offset="0.25" stop-color="#a5230b"/><stop offset="0.5" stop-color="#a11f15"/><stop offset="0.75" stop-color="#a01d1e"/><stop offset="1" stop-color="#a01c28"/></linearGradient>
<linearGradient id="g144" gradientUnits="userSpaceOnUse" x1="180.2" y1="98.4" x2="183.2" y2="92.1"><stop offset="0" stop-color="#67be34"/><stop offset="0.2" stop-color="#6fbe23"/><stop offset="0.4" stop-color="#78be0a"/><stop offset="0.6" stop-color="#80be06"/><stop offset="0.8" stop-color="#88be02"/><stop offset="1" stop-color="#96bc00"/></linearGradient>
<linearGradient id="g145" gradientUnits="userSpaceOnUse" x1="192.6" y1="121.5" x2="183.0" y2="116.8"><stop offset="0" stop-color="#47ab86"/><stop offset="0.25" stop-color="#4ab180"/><stop offset="0.5" stop-color="#4db77a"/><stop offset="0.75" stop-color="#4fbb74"/><stop offset="1" stop-color="#50be6f"/></linearGradient>
<linearGradient id="g146" gradientUnits="userSpaceOnUse" x1="114.5" y1="51.9" x2="116.4" y2="44.1"><stop offset="0" stop-color="#bd4d05"/><stop offset="0.5" stop-color="#b34005"/><stop offset="1" stop-color="#ad3305"/></linearGradient>
<linearGradient id="g147" gradientUnits="userSpaceOnUse" x1="261.5" y1="73.0" x2="271.3" y2="61.5"><stop offset="0" stop-color="#f2a200"/><stop offset="0.2" stop-color="#e79400"/><stop offset="0.4" stop-color="#dd8400"/><stop offset="0.6" stop-color="#d47403"/><stop offset="0.8" stop-color="#c96105"/><stop offset="1" stop-color="#be4e05"/></linearGradient>
<linearGradient id="g148" gradientUnits="userSpaceOnUse" x1="239.6" y1="106.9" x2="245.6" y2="92.8"><stop offset="0" stop-color="#5ebe4e"/><stop offset="0.2" stop-color="#64be38"/><stop offset="0.4" stop-color="#6abe2f"/><stop offset="0.6" stop-color="#73be16"/><stop offset="0.8" stop-color="#7cbe08"/><stop offset="1" stop-color="#84be04"/></linearGradient>
<linearGradient id="g149" gradientUnits="userSpaceOnUse" x1="296.3" y1="43.9" x2="296.2" y2="35.7"><stop offset="0" stop-color="#a52308"/><stop offset="0.25" stop-color="#a5230b"/><stop offset="0.5" stop-color="#a11f15"/><stop offset="0.75" stop-color="#a01d1e"/><stop offset="1" stop-color="#a01c28"/></linearGradient>
<linearGradient id="g150" gradientUnits="userSpaceOnUse" x1="114.5" y1="51.9" x2="116.5" y2="44.2"><stop offset="0" stop-color="#bd4d05"/><stop offset="0.5" stop-color="#b34005"/><stop offset="1" stop-color="#ad3305"/></linearGradient>
<linearGradient id="g151" gradientUnits="userSpaceOnUse" x1="173.7" y1="93.7" x2="177.0" y2="87.2"><stop offset="0" stop-color="#6fbe21"/><stop offset="0.2" stop-color="#79be0a"/><stop offset="0.4" stop-color="#81be05"/><stop offset="0.6" stop-color="#8abe01"/><stop offset="0.8" stop-color="#9bbc00"/><stop offset="1" stop-color="#adb800"/></linearGradient>
<linearGradient id="g152" gradientUnits="userSpaceOnUse" x1="270.2" y1="64.8" x2="281.0" y2="52.4"><stop offset="0" stop-color="#ca6305"/><stop offset="0.2" stop-color="#be4e05"/><stop offset="0.4" stop-color="#b34005"/><stop offset="0.6" stop-color="#ac3105"/><stop offset="0.8" stop-color="#a82a05"/><stop offset="1" stop-color="#a62505"/></linearGradient>
<linearGradient id="g153" gradientUnits="userSpaceOnUse" x1="148.6" y1="61.2" x2="152.3" y2="53.2"><stop offset="0" stop-color="#e08800"/><stop offset="0.2" stop-color="#d67702"/><stop offset="0.4" stop-color="#cb6505"/><stop offset="0.6" stop-color="#bf4f05"/><stop offset="0.8" stop-color="#b54205"/><stop offset="1" stop-color="#ae3505"/></linearGradient>
<linearGradient id="g154" gradientUnits="userSpaceOnUse" x1="282.4" y1="51.2" x2="281.8" y2="38.9"><stop offset="0" stop-color="#a82a05"/><stop offset="0.2" stop-color="#a62505"/><stop offset="0.4" stop-color="#a52306"/><stop offset="0.6" stop-color="#a52309"/><stop offset="0.8" stop-color="#a32110"/><stop offset="1" stop-color="#a01e1a"/></linearGradient>
<linearGradient id="g155" gradientUnits="userSpaceOnUse" x1="247.2" y1="106.7" x2="257.9" y2="89.1"><stop offset="0" stop-color="#64be38"/><stop offset="0.167" stop-color="#6cbe29"/><stop offset="0.333" stop-color="#78be0b"/><stop offset="0.5" stop-color="#82be05"/><stop offset="0.667" stop-color="#8cbe00"/><stop offset="0.833" stop-color="#a2ba00"/><stop offset="1" stop-color="#b3b700"/></linearGradient>
<linearGradient id="g156" gradientUnits="userSpaceOnUse" x1="282.4" y1="51.2" x2="281.4" y2="39.1"><stop offset="0" stop-color="#a82a05"/><stop offset="0.2" stop-color="#a62505"/><stop offset="0.4" stop-color="#a52306"/><stop offset="0.6" stop-color="#a52309"/><stop offset="0.8" stop-color="#a32110"/><stop offset="1" stop-color="#a01e1a"/></linearGradient>
<linearGradient id="g157" gradientUnits="userSpaceOnUse" x1="128.3" y1="47.5" x2="130.3" y2="39.9"><stop offset="0" stop-color="#ad3405"/><stop offset="0.5" stop-color="#a92b05"/><stop offset="1" stop-color="#a72705"/></linearGradient>
<linearGradient id="g158" gradientUnits="userSpaceOnUse" x1="142.5" y1="55.7" x2="147.1" y2="47.4"><stop offset="0" stop-color="#d27103"/><stop offset="0.167" stop-color="#c75d05"/><stop offset="0.333" stop-color="#bc4c05"/><stop offset="0.5" stop-color="#b33f05"/><stop offset="0.667" stop-color="#ad3205"/><stop offset="0.833" stop-color="#a92b05"/><stop offset="1" stop-color="#a72605"/></linearGradient>
<linearGradient id="g159" gradientUnits="userSpaceOnUse" x1="128.3" y1="47.5" x2="130.5" y2="39.5"><stop offset="0" stop-color="#ad3405"/><stop offset="0.5" stop-color="#a92b05"/><stop offset="1" stop-color="#a72605"/></linearGradient>
<linearGradient id="g160" gradientUnits="userSpaceOnUse" x1="226.3" y1="126.6" x2="227.1" y2="115.3"><stop offset="0" stop-color="#46a889"/><stop offset="0.333" stop-color="#48ae83"/><stop offset="0.667" stop-color="#4bb47d"/><stop offset="1" stop-color="#4eb977"/></linearGradient>
<linearGradient id="g161" gradientUnits="userSpaceOnUse" x1="212.6" y1="128.7" x2="213.9" y2="120.1"><stop offset="0" stop-color="#44a190"/><stop offset="0.5" stop-color="#46a68b"/><stop offset="1" stop-color="#47ac85"/></linearGradient>
<linearGradient id="g162" gradientUnits="userSpaceOnUse" x1="239.7" y1="126.3" x2="244.0" y2="107.9"><stop offset="0" stop-color="#46aa87"/><stop offset="0.167" stop-color="#49b081"/><stop offset="0.333" stop-color="#4db77a"/><stop offset="0.5" stop-color="#4fbb74"/><stop offset="0.667" stop-color="#51be6d"/><stop offset="0.833" stop-color="#57be60"/><stop offset="1" stop-color="#5ebe4e"/></linearGradient>
<linearGradient id="g163" gradientUnits="userSpaceOnUse" x1="212.6" y1="128.7" x2="215.9" y2="120.5"><stop offset="0" stop-color="#44a190"/><stop offset="0.5" stop-color="#46a78a"/><stop offset="1" stop-color="#48ad84"/></linearGradient>
<linearGradient id="g164" gradientUnits="userSpaceOnUse" x1="226.3" y1="126.6" x2="228.1" y2="115.6"><stop offset="0" stop-color="#46a889"/><stop offset="0.333" stop-color="#48ae83"/><stop offset="0.667" stop-color="#4bb47d"/><stop offset="1" stop-color="#4eb977"/></linearGradient>
<linearGradient id="g165" gradientUnits="userSpaceOnUse" x1="186.3" y1="109.9" x2="176.7" y2="104.2"><stop offset="0" stop-color="#50be6f"/><stop offset="0.25" stop-color="#55be63"/><stop offset="0.5" stop-color="#5bbe56"/><stop offset="0.75" stop-color="#61be42"/><stop offset="1" stop-color="#67be34"/></linearGradient>
<linearGradient id="g166" gradientUnits="userSpaceOnUse" x1="205.7" y1="124.6" x2="202.5" y2="118.6"><stop offset="0" stop-color="#46a58c"/><stop offset="1" stop-color="#46a988"/></linearGradient>
<linearGradient id="g167" gradientUnits="userSpaceOnUse" x1="167.6" y1="82.4" x2="169.7" y2="78.9"><stop offset="0" stop-color="#adb800"/><stop offset="0.25" stop-color="#b9b500"/><stop offset="0.5" stop-color="#c5b400"/><stop offset="0.75" stop-color="#d3b200"/><stop offset="1" stop-color="#e2af00"/></linearGradient>
<linearGradient id="g168" gradientUnits="userSpaceOnUse" x1="106.6" y1="63.8" x2="110.7" y2="50.5"><stop offset="0" stop-color="#e69200"/><stop offset="0.25" stop-color="#dc8200"/><stop offset="0.5" stop-color="#d27103"/><stop offset="0.75" stop-color="#c65b05"/><stop offset="1" stop-color="#bb4b05"/></linearGradient>
<linearGradient id="g169" gradientUnits="userSpaceOnUse" x1="239.7" y1="126.3" x2="247.4" y2="106.8"><stop offset="0" stop-color="#46aa87"/><stop offset="0.167" stop-color="#4ab180"/><stop offset="0.333" stop-color="#4eb978"/><stop offset="0.5" stop-color="#4fbd71"/><stop offset="0.667" stop-color="#55be64"/><stop offset="0.833" stop-color="#5cbe52"/><stop offset="1" stop-color="#64be38"/></linearGradient>
<linearGradient id="g170" gradientUnits="userSpaceOnUse" x1="199.3" y1="126.1" x2="194.3" y2="120.0"><stop offset="0" stop-color="#46a68b"/><stop offset="1" stop-color="#47ab86"/></linearGradient>
<linearGradient id="g171" gradientUnits="userSpaceOnUse" x1="254.6" y1="87.1" x2="264.0" y2="74.9"><stop offset="0" stop-color="#b3b700"/><stop offset="0.2" stop-color="#c0b400"/><stop offset="0.4" stop-color="#ceb300"/><stop offset="0.6" stop-color="#deb000"/><stop offset="0.8" stop-color="#ebaa00"/><stop offset="1" stop-color="#f2a200"/></linearGradient>
<linearGradient id="g172" gradientUnits="userSpaceOnUse" x1="161.3" y1="77.3" x2="164.0" y2="73.6"><stop offset="0" stop-color="#bdb400"/><stop offset="0.25" stop-color="#ccb300"/><stop offset="0.5" stop-color="#deb000"/><stop offset="0.75" stop-color="#eda900"/><stop offset="1" stop-color="#ee9e00"/></linearGradient>
<linearGradient id="g173" gradientUnits="userSpaceOnUse" x1="106.6" y1="63.8" x2="110.2" y2="50.3"><stop offset="0" stop-color="#e69200"/><stop offset="0.25" stop-color="#dc8200"/><stop offset="0.5" stop-color="#d27103"/><stop offset="0.75" stop-color="#c65b05"/><stop offset="1" stop-color="#bb4b05"/></linearGradient>
<linearGradient id="g174" gradientUnits="userSpaceOnUse" x1="180.0" y1="105.0" x2="169.3" y2="101.3"><stop offset="0" stop-color="#60be45"/><stop offset="0.2" stop-color="#67be34"/><stop offset="0.4" stop-color="#72be1a"/><stop offset="0.6" stop-color="#7dbe08"/><stop offset="0.8" stop-color="#87be03"/><stop offset="1" stop-color="#96bc00"/></linearGradient>
<linearGradient id="g175" gradientUnits="userSpaceOnUse" x1="263.0" y1="80.7" x2="273.6" y2="67.5"><stop offset="0" stop-color="#e3ae00"/><stop offset="0.2" stop-color="#f1a700"/><stop offset="0.4" stop-color="#eb9b00"/><stop offset="0.6" stop-color="#e08900"/><stop offset="0.8" stop-color="#d57702"/><stop offset="1" stop-color="#ca6305"/></linearGradient>
<linearGradient id="g176" gradientUnits="userSpaceOnUse" x1="305.2" y1="38.0" x2="305.1" y2="29.8"><stop offset="0" stop-color="#a01e1c"/><stop offset="0.25" stop-color="#a01c26"/><stop offset="0.5" stop-color="#a31d2b"/><stop offset="0.75" stop-color="#a9202f"/><stop offset="1" stop-color="#af2332"/></linearGradient>
<linearGradient id="g177" gradientUnits="userSpaceOnUse" x1="192.6" y1="121.5" x2="188.2" y2="109.2"><stop offset="0" stop-color="#47ab86"/><stop offset="0.25" stop-color="#4ab180"/><stop offset="0.5" stop-color="#4db77a"/><stop offset="0.75" stop-color="#4fbb74"/><stop offset="1" stop-color="#50be6f"/></linearGradient>
<linearGradient id="g178" gradientUnits="userSpaceOnUse" x1="305.2" y1="38.0" x2="305.0" y2="29.9"><stop offset="0" stop-color="#a01e1c"/><stop offset="0.25" stop-color="#a01c26"/><stop offset="0.5" stop-color="#a31d2b"/><stop offset="0.75" stop-color="#a9202f"/><stop offset="1" stop-color="#af2332"/></linearGradient>
<linearGradient id="g179" gradientUnits="userSpaceOnUse" x1="92.7" y1="73.8" x2="97.3" y2="60.6"><stop offset="0" stop-color="#ceb300"/><stop offset="0.25" stop-color="#dfaf00"/><stop offset="0.5" stop-color="#eca900"/><stop offset="0.75" stop-color="#f1a100"/><stop offset="1" stop-color="#e59200"/></linearGradient>
<linearGradient id="g180" gradientUnits="userSpaceOnUse" x1="120.6" y1="54.1" x2="122.7" y2="45.9"><stop offset="0" stop-color="#be4e05"/><stop offset="0.5" stop-color="#b44105"/><stop offset="1" stop-color="#ad3305"/></linearGradient>
<linearGradient id="g181" gradientUnits="userSpaceOnUse" x1="154.9" y1="66.8" x2="157.9" y2="61.0"><stop offset="0" stop-color="#ee9e00"/><stop offset="0.25" stop-color="#e38d00"/><stop offset="0.5" stop-color="#d87b01"/><stop offset="0.75" stop-color="#cd6905"/><stop offset="1" stop-color="#bf5005"/></linearGradient>
<linearGradient id="g182" gradientUnits="userSpaceOnUse" x1="247.2" y1="106.7" x2="257.7" y2="88.9"><stop offset="0" stop-color="#64be38"/><stop offset="0.167" stop-color="#6cbe29"/><stop offset="0.333" stop-color="#78be0b"/><stop offset="0.5" stop-color="#82be05"/><stop offset="0.667" stop-color="#8cbe00"/><stop offset="0.833" stop-color="#a2ba00"/><stop offset="1" stop-color="#b3b700"/></linearGradient>
<linearGradient id="g183" gradientUnits="userSpaceOnUse" x1="233.4" y1="131.5" x2="233.8" y2="120.8"><stop offset="0" stop-color="#44a28f"/><stop offset="0.333" stop-color="#46a78a"/><stop offset="0.667" stop-color="#47ac85"/><stop offset="1" stop-color="#4ab27f"/></linearGradient>
<linearGradient id="g184" gradientUnits="userSpaceOnUse" x1="270.2" y1="64.8" x2="279.3" y2="50.4"><stop offset="0" stop-color="#ca6305"/><stop offset="0.2" stop-color="#be4e05"/><stop offset="0.4" stop-color="#b34005"/><stop offset="0.6" stop-color="#ac3105"/><stop offset="0.8" stop-color="#a82a05"/><stop offset="1" stop-color="#a62505"/></linearGradient>
<linearGradient id="g185" gradientUnits="userSpaceOnUse" x1="120.6" y1="54.1" x2="122.8" y2="45.9"><stop offset="0" stop-color="#be4e05"/><stop offset="0.5" stop-color="#b44105"/><stop offset="1" stop-color="#ad3305"/></linearGradient>
<linearGradient id="g186" gradientUnits="userSpaceOnUse" x1="186.0" y1="122.4" x2="175.4" y2="108.5"><stop offset="0" stop-color="#48ad84"/><stop offset="0.2" stop-color="#4cb57c"/><stop offset="0.4" stop-color="#4fbb75"/><stop offset="0.6" stop-color="#51be6c"/><stop offset="0.8" stop-color="#58be5d"/><stop offset="1" stop-color="#60be45"/></linearGradient>
<linearGradient id="g187" gradientUnits="userSpaceOnUse" x1="233.4" y1="131.5" x2="234.9" y2="121.0"><stop offset="0" stop-color="#44a28f"/><stop offset="0.333" stop-color="#46a78a"/><stop offset="0.667" stop-color="#47ac85"/><stop offset="1" stop-color="#4ab27f"/></linearGradient>
<linearGradient id="g188" gradientUnits="userSpaceOnUse" x1="291.4" y1="41.3" x2="291.4" y2="33.2"><stop offset="0" stop-color="#a4220e"/><stop offset="0.25" stop-color="#a11f17"/><stop offset="0.5" stop-color="#a01d21"/><stop offset="0.75" stop-color="#a11c29"/><stop offset="1" stop-color="#a51e2d"/></linearGradient>
<linearGradient id="g189" gradientUnits="userSpaceOnUse" x1="148.6" y1="61.2" x2="152.5" y2="55.2"><stop offset="0" stop-color="#e08800"/><stop offset="0.2" stop-color="#d67702"/><stop offset="0.4" stop-color="#cb6505"/><stop offset="0.6" stop-color="#bf4f05"/><stop offset="0.8" stop-color="#b54205"/><stop offset="1" stop-color="#ae3505"/></linearGradient>
<linearGradient id="g190" gradientUnits="userSpaceOnUse" x1="98.6" y1="75.8" x2="102.7" y2="62.4"><stop offset="0" stop-color="#cfb300"/><stop offset="0.25" stop-color="#dfaf00"/><stop offset="0.5" stop-color="#eca900"/><stop offset="0.75" stop-color="#f0a000"/><stop offset="1" stop-color="#e59200"/></linearGradient>
<linearGradient id="g191" gradientUnits="userSpaceOnUse" x1="219.7" y1="132.7" x2="221.1" y2="122.1"><stop offset="0" stop-color="#429d94"/><stop offset="0.333" stop-color="#45a38e"/><stop offset="0.667" stop-color="#46a889"/><stop offset="1" stop-color="#48ad84"/></linearGradient>
<linearGradient id="g192" gradientUnits="userSpaceOnUse" x1="219.7" y1="132.7" x2="222.1" y2="122.6"><stop offset="0" stop-color="#429d94"/><stop offset="0.333" stop-color="#45a38e"/><stop offset="0.667" stop-color="#46a889"/><stop offset="1" stop-color="#48ad84"/></linearGradient>
<linearGradient id="g193" gradientUnits="userSpaceOnUse" x1="279.1" y1="56.3" x2="289.3" y2="40.6"><stop offset="0" stop-color="#aa2c05"/><stop offset="0.167" stop-color="#a72805"/><stop offset="0.333" stop-color="#a52305"/><stop offset="0.5" stop-color="#a52307"/><stop offset="0.667" stop-color="#a52309"/><stop offset="0.833" stop-color="#a32111"/><stop offset="1" stop-color="#a01e1a"/></linearGradient>
<linearGradient id="g194" gradientUnits="userSpaceOnUse" x1="291.4" y1="41.3" x2="291.3" y2="33.3"><stop offset="0" stop-color="#a4220e"/><stop offset="0.25" stop-color="#a11f17"/><stop offset="0.5" stop-color="#a01d21"/><stop offset="0.75" stop-color="#a11c29"/><stop offset="1" stop-color="#a51e2d"/></linearGradient>
<linearGradient id="g195" gradientUnits="userSpaceOnUse" x1="206.2" y1="130.8" x2="204.6" y2="124.9"><stop offset="0" stop-color="#44a190"/><stop offset="1" stop-color="#46a58c"/></linearGradient>
<linearGradient id="g196" gradientUnits="userSpaceOnUse" x1="134.5" y1="53.0" x2="135.7" y2="41.0"><stop offset="0" stop-color="#b74605"/><stop offset="0.333" stop-color="#af3705"/><stop offset="0.667" stop-color="#a92b05"/><stop offset="1" stop-color="#a72605"/></linearGradient>
<linearGradient id="g197" gradientUnits="userSpaceOnUse" x1="239.7" y1="126.3" x2="250.8" y2="108.9"><stop offset="0" stop-color="#46aa87"/><stop offset="0.167" stop-color="#4ab180"/><stop offset="0.333" stop-color="#4eb978"/><stop offset="0.5" stop-color="#4fbd71"/><stop offset="0.667" stop-color="#55be64"/><stop offset="0.833" stop-color="#5cbe52"/><stop offset="1" stop-color="#64be38"/></linearGradient>
<linearGradient id="g198" gradientUnits="userSpaceOnUse" x1="174.1" y1="87.7" x2="174.9" y2="86.6"><stop offset="0" stop-color="#96bc00"/><stop offset="0.333" stop-color="#a9b900"/><stop offset="0.667" stop-color="#b6b600"/><stop offset="1" stop-color="#c3b400"/></linearGradient>
<linearGradient id="g199" gradientUnits="userSpaceOnUse" x1="255.5" y1="101.1" x2="266.1" y2="82.4"><stop offset="0" stop-color="#7ebe07"/><stop offset="0.143" stop-color="#87be03"/><stop offset="0.286" stop-color="#94bd00"/><stop offset="0.429" stop-color="#a8b900"/><stop offset="0.571" stop-color="#b6b600"/><stop offset="0.714" stop-color="#c3b400"/><stop offset="0.857" stop-color="#d3b200"/><stop offset="1" stop-color="#e3ae00"/></linearGradient>
<linearGradient id="g200" gradientUnits="userSpaceOnUse" x1="134.5" y1="53.0" x2="134.5" y2="41.0"><stop offset="0" stop-color="#b74605"/><stop offset="0.333" stop-color="#af3705"/><stop offset="0.667" stop-color="#a92b05"/><stop offset="1" stop-color="#a72605"/></linearGradient>
<linearGradient id="g201" gradientUnits="userSpaceOnUse" x1="206.2" y1="130.8" x2="203.1" y2="124.3"><stop offset="0" stop-color="#44a190"/><stop offset="1" stop-color="#46a68b"/></linearGradient>
<linearGradient id="g202" gradientUnits="userSpaceOnUse" x1="84.7" y1="86.8" x2="89.9" y2="72.8"><stop offset="0" stop-color="#8bbe00"/><stop offset="0.25" stop-color="#9fbb00"/><stop offset="0.5" stop-color="#b1b700"/><stop offset="0.75" stop-color="#bfb400"/><stop offset="1" stop-color="#ceb300"/></linearGradient>
<linearGradient id="g203" gradientUnits="userSpaceOnUse" x1="167.6" y1="82.4" x2="168.7" y2="81.3"><stop offset="0" stop-color="#adb800"/><stop offset="0.25" stop-color="#b9b500"/><stop offset="0.5" stop-color="#c5b400"/><stop offset="0.75" stop-color="#d3b200"/><stop offset="1" stop-color="#e2af00"/></linearGradient>
<linearGradient id="g204" gradientUnits="userSpaceOnUse" x1="199.3" y1="126.1" x2="196.4" y2="119.7"><stop offset="0" stop-color="#46a68b"/><stop offset="1" stop-color="#47ab86"/></linearGradient>
<linearGradient id="g205" gradientUnits="userSpaceOnUse" x1="112.7" y1="65.8" x2="116.8" y2="52.7"><stop offset="0" stop-color="#e69300"/><stop offset="0.25" stop-color="#dd8300"/><stop offset="0.5" stop-color="#d37303"/><stop offset="0.75" stop-color="#c85e05"/><stop offset="1" stop-color="#bd4d05"/></linearGradient>
<linearGradient id="g206" gradientUnits="userSpaceOnUse" x1="192.8" y1="127.6" x2="188.4" y2="120.9"><stop offset="0" stop-color="#46a78a"/><stop offset="1" stop-color="#48ad84"/></linearGradient>
<linearGradient id="g207" gradientUnits="userSpaceOnUse" x1="90.5" y1="89.0" x2="95.5" y2="74.7"><stop offset="0" stop-color="#8bbe00"/><stop offset="0.25" stop-color="#9fbb00"/><stop offset="0.5" stop-color="#b1b700"/><stop offset="0.75" stop-color="#bfb400"/><stop offset="1" stop-color="#cfb300"/></linearGradient>
<linearGradient id="g208" gradientUnits="userSpaceOnUse" x1="247.8" y1="121.6" x2="259.1" y2="103.3"><stop offset="0" stop-color="#4fba75"/><stop offset="0.143" stop-color="#50be6e"/><stop offset="0.286" stop-color="#56be61"/><stop offset="0.429" stop-color="#5dbe50"/><stop offset="0.571" stop-color="#64be39"/><stop offset="0.714" stop-color="#6bbe2d"/><stop offset="0.857" stop-color="#75be13"/><stop offset="1" stop-color="#7ebe07"/></linearGradient>
<linearGradient id="g209" gradientUnits="userSpaceOnUse" x1="82.4" y1="102.3" x2="88.0" y2="88.2"><stop offset="0" stop-color="#65be36"/><stop offset="0.25" stop-color="#6ebe25"/><stop offset="0.5" stop-color="#78be0a"/><stop offset="0.75" stop-color="#82be05"/><stop offset="1" stop-color="#8bbe00"/></linearGradient>
<linearGradient id="g210" gradientUnits="userSpaceOnUse" x1="314.3" y1="32.0" x2="313.7" y2="23.7"><stop offset="0" stop-color="#a81f2e"/><stop offset="0.25" stop-color="#ae2332"/><stop offset="0.5" stop-color="#b52635"/><stop offset="0.75" stop-color="#bd2c3a"/><stop offset="1" stop-color="#c83744"/></linearGradient>
<linearGradient id="g211" gradientUnits="userSpaceOnUse" x1="263.0" y1="80.7" x2="272.1" y2="66.0"><stop offset="0" stop-color="#e3ae00"/><stop offset="0.2" stop-color="#f1a700"/><stop offset="0.4" stop-color="#eb9b00"/><stop offset="0.6" stop-color="#e08900"/><stop offset="0.8" stop-color="#d57702"/><stop offset="1" stop-color="#ca6305"/></linearGradient>
<linearGradient id="g212" gradientUnits="userSpaceOnUse" x1="112.7" y1="65.8" x2="116.3" y2="52.5"><stop offset="0" stop-color="#e69300"/><stop offset="0.25" stop-color="#dd8300"/><stop offset="0.5" stop-color="#d37303"/><stop offset="0.75" stop-color="#c85e05"/><stop offset="1" stop-color="#bd4d05"/></linearGradient>
<linearGradient id="g213" gradientUnits="userSpaceOnUse" x1="314.3" y1="32.0" x2="314.1" y2="23.5"><stop offset="0" stop-color="#a81f2e"/><stop offset="0.25" stop-color="#ae2332"/><stop offset="0.5" stop-color="#b52635"/><stop offset="0.75" stop-color="#bd2c3a"/><stop offset="1" stop-color="#c83744"/></linearGradient>
<linearGradient id="g214" gradientUnits="userSpaceOnUse" x1="180.0" y1="105.0" x2="169.0" y2="92.2"><stop offset="0" stop-color="#60be45"/><stop offset="0.2" stop-color="#67be34"/><stop offset="0.4" stop-color="#72be1a"/><stop offset="0.6" stop-color="#7dbe08"/><stop offset="0.8" stop-color="#87be03"/><stop offset="1" stop-color="#96bc00"/></linearGradient>
<linearGradient id="g215" gradientUnits="userSpaceOnUse" x1="161.2" y1="74.0" x2="162.4" y2="72.8"><stop offset="0" stop-color="#e2af00"/><stop offset="0.25" stop-color="#eea900"/><stop offset="0.5" stop-color="#f0a000"/><stop offset="0.75" stop-color="#e69200"/><stop offset="1" stop-color="#dd8300"/></linearGradient>
<linearGradient id="g216" gradientUnits="userSpaceOnUse" x1="271.7" y1="74.0" x2="281.8" y2="58.1"><stop offset="0" stop-color="#e18a00"/><stop offset="0.167" stop-color="#d77902"/><stop offset="0.333" stop-color="#cd6905"/><stop offset="0.5" stop-color="#c05205"/><stop offset="0.667" stop-color="#b74405"/><stop offset="0.833" stop-color="#af3705"/><stop offset="1" stop-color="#aa2c05"/></linearGradient>
<linearGradient id="g217" gradientUnits="userSpaceOnUse" x1="233.4" y1="131.5" x2="241.0" y2="130.0"><stop offset="0" stop-color="#44a28f"/><stop offset="0.5" stop-color="#46a68b"/><stop offset="1" stop-color="#46ab86"/></linearGradient>
<linearGradient id="g218" gradientUnits="userSpaceOnUse" x1="226.9" y1="136.7" x2="227.9" y2="126.8"><stop offset="0" stop-color="#409998"/><stop offset="0.5" stop-color="#44a190"/><stop offset="1" stop-color="#46a889"/></linearGradient>
<linearGradient id="g219" gradientUnits="userSpaceOnUse" x1="82.4" y1="102.3" x2="87.7" y2="87.9"><stop offset="0" stop-color="#65be36"/><stop offset="0.25" stop-color="#6ebe25"/><stop offset="0.5" stop-color="#78be0a"/><stop offset="0.75" stop-color="#82be05"/><stop offset="1" stop-color="#8bbe00"/></linearGradient>
<linearGradient id="g220" gradientUnits="userSpaceOnUse" x1="226.9" y1="136.7" x2="229.0" y2="127.2"><stop offset="0" stop-color="#409998"/><stop offset="0.5" stop-color="#44a190"/><stop offset="1" stop-color="#46a889"/></linearGradient>
<linearGradient id="g221" gradientUnits="userSpaceOnUse" x1="239.7" y1="126.3" x2="248.5" y2="124.1"><stop offset="0" stop-color="#46aa87"/><stop offset="0.333" stop-color="#49b081"/><stop offset="0.667" stop-color="#4cb67b"/><stop offset="1" stop-color="#4fba75"/></linearGradient>
<linearGradient id="g222" gradientUnits="userSpaceOnUse" x1="154.9" y1="66.8" x2="156.1" y2="65.8"><stop offset="0" stop-color="#ee9e00"/><stop offset="0.25" stop-color="#e38d00"/><stop offset="0.5" stop-color="#d87b01"/><stop offset="0.75" stop-color="#cd6905"/><stop offset="1" stop-color="#bf5005"/></linearGradient>
<linearGradient id="g223" gradientUnits="userSpaceOnUse" x1="126.9" y1="57.7" x2="128.7" y2="47.5"><stop offset="0" stop-color="#c55805"/><stop offset="0.333" stop-color="#bb4b05"/><stop offset="0.667" stop-color="#b33f05"/><stop offset="1" stop-color="#ad3405"/></linearGradient>
<linearGradient id="g224" gradientUnits="userSpaceOnUse" x1="213.2" y1="135.9" x2="213.3" y2="128.7"><stop offset="0" stop-color="#419a97"/><stop offset="1" stop-color="#44a190"/></linearGradient>
<linearGradient id="g225" gradientUnits="userSpaceOnUse" x1="98.6" y1="75.8" x2="103.2" y2="62.6"><stop offset="0" stop-color="#cfb300"/><stop offset="0.25" stop-color="#dfaf00"/><stop offset="0.5" stop-color="#eca900"/><stop offset="0.75" stop-color="#f1a100"/><stop offset="1" stop-color="#e69200"/></linearGradient>
<linearGradient id="g226" gradientUnits="userSpaceOnUse" x1="300.3" y1="35.6" x2="300.2" y2="27.5"><stop offset="0" stop-color="#a01c28"/><stop offset="0.25" stop-color="#a41e2c"/><stop offset="0.5" stop-color="#aa202f"/><stop offset="0.75" stop-color="#b02332"/><stop offset="1" stop-color="#b62736"/></linearGradient>
<linearGradient id="g227" gradientUnits="userSpaceOnUse" x1="186.0" y1="122.4" x2="174.1" y2="111.4"><stop offset="0" stop-color="#48ad84"/><stop offset="0.2" stop-color="#4cb57c"/><stop offset="0.4" stop-color="#4fbb75"/><stop offset="0.6" stop-color="#51be6c"/><stop offset="0.8" stop-color="#58be5d"/><stop offset="1" stop-color="#60be45"/></linearGradient>
<linearGradient id="g228" gradientUnits="userSpaceOnUse" x1="126.9" y1="57.7" x2="127.3" y2="47.4"><stop offset="0" stop-color="#c55805"/><stop offset="0.333" stop-color="#bb4b05"/><stop offset="0.667" stop-color="#b33f05"/><stop offset="1" stop-color="#ad3405"/></linearGradient>
<linearGradient id="g229" gradientUnits="userSpaceOnUse" x1="213.2" y1="135.9" x2="211.3" y2="129.1"><stop offset="0" stop-color="#419a97"/><stop offset="1" stop-color="#44a190"/></linearGradient>
<linearGradient id="g230" gradientUnits="userSpaceOnUse" x1="173.6" y1="98.5" x2="163.0" y2="85.0"><stop offset="0" stop-color="#79be09"/><stop offset="0.2" stop-color="#83be04"/><stop offset="0.4" stop-color="#8ebe00"/><stop offset="0.6" stop-color="#a4ba00"/><stop offset="0.8" stop-color="#b4b600"/><stop offset="1" stop-color="#c3b400"/></linearGradient>
<linearGradient id="g231" gradientUnits="userSpaceOnUse" x1="279.1" y1="56.3" x2="286.1" y2="38.6"><stop offset="0" stop-color="#aa2c05"/><stop offset="0.167" stop-color="#a72805"/><stop offset="0.333" stop-color="#a52305"/><stop offset="0.5" stop-color="#a52307"/><stop offset="0.667" stop-color="#a52309"/><stop offset="0.833" stop-color="#a32111"/><stop offset="1" stop-color="#a01e1a"/></linearGradient>
<linearGradient id="g232" gradientUnits="userSpaceOnUse" x1="300.3" y1="35.6" x2="300.1" y2="27.6"><stop offset="0" stop-color="#a01c28"/><stop offset="0.25" stop-color="#a41e2c"/><stop offset="0.5" stop-color="#aa202f"/><stop offset="0.75" stop-color="#b02332"/><stop offset="1" stop-color="#b62736"/></linearGradient>
<linearGradient id="g233" gradientUnits="userSpaceOnUse" x1="140.8" y1="58.6" x2="141.4" y2="48.4"><stop offset="0" stop-color="#c55a05"/><stop offset="0.333" stop-color="#bc4c05"/><stop offset="0.667" stop-color="#b44005"/><stop offset="1" stop-color="#ae3505"/></linearGradient>
<linearGradient id="g234" gradientUnits="userSpaceOnUse" x1="255.5" y1="101.1" x2="265.8" y2="82.1"><stop offset="0" stop-color="#7ebe07"/><stop offset="0.143" stop-color="#87be03"/><stop offset="0.286" stop-color="#94bd00"/><stop offset="0.429" stop-color="#a8b900"/><stop offset="0.571" stop-color="#b6b600"/><stop offset="0.714" stop-color="#c3b400"/><stop offset="0.857" stop-color="#d3b200"/><stop offset="1" stop-color="#e3ae00"/></linearGradient>
<linearGradient id="g235" gradientUnits="userSpaceOnUse" x1="140.8" y1="58.6" x2="140.1" y2="48.5"><stop offset="0" stop-color="#c55a05"/><stop offset="0.333" stop-color="#bc4c05"/><stop offset="0.667" stop-color="#b44005"/><stop offset="1" stop-color="#ae3505"/></linearGradient>
<linearGradient id="g236" gradientUnits="userSpaceOnUse" x1="287.9" y1="50.5" x2="294.3" y2="32.9"><stop offset="0" stop-color="#a52306"/><stop offset="0.167" stop-color="#a52309"/><stop offset="0.333" stop-color="#a4220d"/><stop offset="0.5" stop-color="#a11f17"/><stop offset="0.667" stop-color="#a01d20"/><stop offset="0.833" stop-color="#a11c29"/><stop offset="1" stop-color="#a51e2d"/></linearGradient>
<linearGradient id="g237" gradientUnits="userSpaceOnUse" x1="104.7" y1="77.7" x2="108.8" y2="64.4"><stop offset="0" stop-color="#cfb300"/><stop offset="0.25" stop-color="#dfaf00"/><stop offset="0.5" stop-color="#eca900"/><stop offset="0.75" stop-color="#f1a100"/><stop offset="1" stop-color="#e69200"/></linearGradient>
<linearGradient id="g238" gradientUnits="userSpaceOnUse" x1="199.7" y1="132.9" x2="197.9" y2="126.5"><stop offset="0" stop-color="#44a091"/><stop offset="1" stop-color="#46a68b"/></linearGradient>
<linearGradient id="g239" gradientUnits="userSpaceOnUse" x1="199.7" y1="132.9" x2="196.7" y2="125.9"><stop offset="0" stop-color="#44a091"/><stop offset="1" stop-color="#46a78a"/></linearGradient>
<linearGradient id="g240" gradientUnits="userSpaceOnUse" x1="179.7" y1="115.8" x2="168.1" y2="104.0"><stop offset="0" stop-color="#50be6e"/><stop offset="0.2" stop-color="#57be60"/><stop offset="0.4" stop-color="#5ebe4b"/><stop offset="0.6" stop-color="#65be36"/><stop offset="0.8" stop-color="#6fbe23"/><stop offset="1" stop-color="#79be09"/></linearGradient>
<linearGradient id="g241" gradientUnits="userSpaceOnUse" x1="264.0" y1="95.3" x2="274.4" y2="75.4"><stop offset="0" stop-color="#a7b900"/><stop offset="0.143" stop-color="#b6b600"/><stop offset="0.286" stop-color="#c3b400"/><stop offset="0.429" stop-color="#d3b200"/><stop offset="0.571" stop-color="#e4ae00"/><stop offset="0.714" stop-color="#f2a700"/><stop offset="0.857" stop-color="#eb9b00"/><stop offset="1" stop-color="#e18a00"/></linearGradient>
<linearGradient id="g242" gradientUnits="userSpaceOnUse" x1="90.5" y1="89.0" x2="95.9" y2="74.7"><stop offset="0" stop-color="#8bbe00"/><stop offset="0.25" stop-color="#9fbb00"/><stop offset="0.5" stop-color="#b1b700"/><stop offset="0.75" stop-color="#bfb400"/><stop offset="1" stop-color="#cfb300"/></linearGradient>
<linearGradient id="g243" gradientUnits="userSpaceOnUse" x1="247.8" y1="121.6" x2="258.8" y2="103.1"><stop offset="0" stop-color="#4fba75"/><stop offset="0.143" stop-color="#50be6e"/><stop offset="0.286" stop-color="#56be61"/><stop offset="0.429" stop-color="#5dbe50"/><stop offset="0.571" stop-color="#64be39"/><stop offset="0.714" stop-color="#6bbe2d"/><stop offset="0.857" stop-color="#75be13"/><stop offset="1" stop-color="#7ebe07"/></linearGradient>
<linearGradient id="g244" gradientUnits="userSpaceOnUse" x1="323.9" y1="24.1" x2="323.0" y2="17.4"><stop offset="0" stop-color="#c33240"/><stop offset="0.333" stop-color="#ca3945"/><stop offset="0.667" stop-color="#ce3b47"/><stop offset="1" stop-color="#d13d4a"/></linearGradient>
<linearGradient id="g245" gradientUnits="userSpaceOnUse" x1="167.6" y1="81.4" x2="165.7" y2="82.5"><stop offset="0" stop-color="#c3b400"/><stop offset="0.333" stop-color="#d2b200"/><stop offset="0.667" stop-color="#e1af00"/><stop offset="1" stop-color="#eea800"/></linearGradient>
<linearGradient id="g246" gradientUnits="userSpaceOnUse" x1="192.8" y1="127.6" x2="191.5" y2="129.0"><stop offset="0" stop-color="#46a78a"/><stop offset="0.5" stop-color="#48ae83"/><stop offset="1" stop-color="#4cb57c"/></linearGradient>
<linearGradient id="g247" gradientUnits="userSpaceOnUse" x1="118.9" y1="68.9" x2="122.7" y2="54.7"><stop offset="0" stop-color="#ea9a00"/><stop offset="0.25" stop-color="#e08800"/><stop offset="0.5" stop-color="#d57702"/><stop offset="0.75" stop-color="#ca6405"/><stop offset="1" stop-color="#be4e05"/></linearGradient>
<linearGradient id="g248" gradientUnits="userSpaceOnUse" x1="323.9" y1="24.1" x2="323.4" y2="17.1"><stop offset="0" stop-color="#c33240"/><stop offset="0.333" stop-color="#ca3945"/><stop offset="0.667" stop-color="#ce3b47"/><stop offset="1" stop-color="#d13d49"/></linearGradient>
<linearGradient id="g249" gradientUnits="userSpaceOnUse" x1="96.6" y1="91.1" x2="101.6" y2="76.6"><stop offset="0" stop-color="#8bbe00"/><stop offset="0.25" stop-color="#a0bb00"/><stop offset="0.5" stop-color="#b1b700"/><stop offset="0.75" stop-color="#c0b400"/><stop offset="1" stop-color="#cfb300"/></linearGradient>
<linearGradient id="g250" gradientUnits="userSpaceOnUse" x1="234.4" y1="139.8" x2="236.6" y2="132.5"><stop offset="0" stop-color="#409799"/><stop offset="0.5" stop-color="#429d94"/><stop offset="1" stop-color="#44a28f"/></linearGradient>
<linearGradient id="g251" gradientUnits="userSpaceOnUse" x1="88.3" y1="104.7" x2="94.1" y2="90.4"><stop offset="0" stop-color="#65be36"/><stop offset="0.25" stop-color="#6ebe25"/><stop offset="0.5" stop-color="#78be0a"/><stop offset="0.75" stop-color="#82be05"/><stop offset="1" stop-color="#8bbe00"/></linearGradient>
<linearGradient id="g252" gradientUnits="userSpaceOnUse" x1="256.2" y1="116.8" x2="267.3" y2="97.2"><stop offset="0" stop-color="#5bbe56"/><stop offset="0.143" stop-color="#62be3e"/><stop offset="0.286" stop-color="#69be32"/><stop offset="0.429" stop-color="#73be17"/><stop offset="0.571" stop-color="#7dbe08"/><stop offset="0.714" stop-color="#86be03"/><stop offset="0.857" stop-color="#93bd00"/><stop offset="1" stop-color="#a7b900"/></linearGradient>
<linearGradient id="g253" gradientUnits="userSpaceOnUse" x1="234.4" y1="139.8" x2="241.7" y2="131.1"><stop offset="0" stop-color="#409799"/><stop offset="0.333" stop-color="#439f92"/><stop offset="0.667" stop-color="#46a58c"/><stop offset="1" stop-color="#46ab86"/></linearGradient>
<linearGradient id="g254" gradientUnits="userSpaceOnUse" x1="161.2" y1="74.0" x2="158.9" y2="75.0"><stop offset="0" stop-color="#e2af00"/><stop offset="0.25" stop-color="#eea900"/><stop offset="0.5" stop-color="#f0a000"/><stop offset="0.75" stop-color="#e69200"/><stop offset="1" stop-color="#dd8300"/></linearGradient>
<linearGradient id="g255" gradientUnits="userSpaceOnUse" x1="118.9" y1="68.9" x2="122.0" y2="54.4"><stop offset="0" stop-color="#ea9a00"/><stop offset="0.25" stop-color="#e08800"/><stop offset="0.5" stop-color="#d57702"/><stop offset="0.75" stop-color="#ca6405"/><stop offset="1" stop-color="#be4e05"/></linearGradient>
<linearGradient id="g256" gradientUnits="userSpaceOnUse" x1="220.4" y1="141.0" x2="221.4" y2="132.9"><stop offset="0" stop-color="#3e8ea0"/><stop offset="0.5" stop-color="#409799"/><stop offset="1" stop-color="#429d94"/></linearGradient>
<linearGradient id="g257" gradientUnits="userSpaceOnUse" x1="186.0" y1="122.4" x2="184.5" y2="123.4"><stop offset="0" stop-color="#48ad84"/><stop offset="0.333" stop-color="#4cb57c"/><stop offset="0.667" stop-color="#4fba75"/><stop offset="1" stop-color="#50be6e"/></linearGradient>
<linearGradient id="g258" gradientUnits="userSpaceOnUse" x1="271.7" y1="74.0" x2="280.0" y2="56.7"><stop offset="0" stop-color="#e18a00"/><stop offset="0.167" stop-color="#d77902"/><stop offset="0.333" stop-color="#cd6905"/><stop offset="0.5" stop-color="#c05205"/><stop offset="0.667" stop-color="#b74405"/><stop offset="0.833" stop-color="#af3705"/><stop offset="1" stop-color="#aa2c05"/></linearGradient>
<linearGradient id="g259" gradientUnits="userSpaceOnUse" x1="220.4" y1="141.0" x2="219.8" y2="132.7"><stop offset="0" stop-color="#3e8ea0"/><stop offset="0.5" stop-color="#409799"/><stop offset="1" stop-color="#429d94"/></linearGradient>
<linearGradient id="g260" gradientUnits="userSpaceOnUse" x1="309.4" y1="29.8" x2="309.0" y2="22.9"><stop offset="0" stop-color="#af2332"/><stop offset="0.333" stop-color="#b62736"/><stop offset="0.667" stop-color="#c2313f"/><stop offset="1" stop-color="#ca3845"/></linearGradient>
<linearGradient id="g261" gradientUnits="userSpaceOnUse" x1="280.5" y1="68.0" x2="288.2" y2="50.6"><stop offset="0" stop-color="#c15305"/><stop offset="0.167" stop-color="#b84605"/><stop offset="0.333" stop-color="#b03905"/><stop offset="0.5" stop-color="#aa2d05"/><stop offset="0.667" stop-color="#a82905"/><stop offset="0.833" stop-color="#a62405"/><stop offset="1" stop-color="#a52306"/></linearGradient>
<linearGradient id="g262" gradientUnits="userSpaceOnUse" x1="241.2" y1="130.6" x2="248.0" y2="121.8"><stop offset="0" stop-color="#46ab86"/><stop offset="0.333" stop-color="#49b081"/><stop offset="0.667" stop-color="#4cb67b"/><stop offset="1" stop-color="#4fba75"/></linearGradient>
<linearGradient id="g263" gradientUnits="userSpaceOnUse" x1="133.2" y1="61.3" x2="134.4" y2="53.0"><stop offset="0" stop-color="#cd6905"/><stop offset="0.5" stop-color="#c15205"/><stop offset="1" stop-color="#b74605"/></linearGradient>
<linearGradient id="g264" gradientUnits="userSpaceOnUse" x1="206.6" y1="139.1" x2="205.9" y2="130.8"><stop offset="0" stop-color="#3f949b"/><stop offset="0.5" stop-color="#429c95"/><stop offset="1" stop-color="#44a190"/></linearGradient>
<linearGradient id="g265" gradientUnits="userSpaceOnUse" x1="154.5" y1="65.3" x2="152.1" y2="55.0"><stop offset="0" stop-color="#dd8300"/><stop offset="0.333" stop-color="#d47403"/><stop offset="0.667" stop-color="#ca6305"/><stop offset="1" stop-color="#bf5005"/></linearGradient>
<linearGradient id="g266" gradientUnits="userSpaceOnUse" x1="88.3" y1="104.7" x2="93.8" y2="90.1"><stop offset="0" stop-color="#65be36"/><stop offset="0.25" stop-color="#6ebe25"/><stop offset="0.5" stop-color="#78be0a"/><stop offset="0.75" stop-color="#82be05"/><stop offset="1" stop-color="#8bbe00"/></linearGradient>
<linearGradient id="g267" gradientUnits="userSpaceOnUse" x1="133.2" y1="61.3" x2="132.9" y2="53.0"><stop offset="0" stop-color="#cd6905"/><stop offset="0.5" stop-color="#c15205"/><stop offset="1" stop-color="#b74605"/></linearGradient>
<linearGradient id="g268" gradientUnits="userSpaceOnUse" x1="309.4" y1="29.8" x2="309.4" y2="22.7"><stop offset="0" stop-color="#af2332"/><stop offset="0.333" stop-color="#b62736"/><stop offset="0.667" stop-color="#c2313f"/><stop offset="1" stop-color="#ca3845"/></linearGradient>
<linearGradient id="g269" gradientUnits="userSpaceOnUse" x1="147.2" y1="65.5" x2="146.7" y2="56.0"><stop offset="0" stop-color="#d97d01"/><stop offset="0.333" stop-color="#d17004"/><stop offset="0.667" stop-color="#c96005"/><stop offset="1" stop-color="#bf5005"/></linearGradient>
<linearGradient id="g270" gradientUnits="userSpaceOnUse" x1="206.6" y1="139.1" x2="204.4" y2="131.3"><stop offset="0" stop-color="#3f949b"/><stop offset="0.5" stop-color="#429c95"/><stop offset="1" stop-color="#44a190"/></linearGradient>
<linearGradient id="g271" gradientUnits="userSpaceOnUse" x1="249.1" y1="129.8" x2="259.4" y2="120.3"><stop offset="0" stop-color="#4bb37e"/><stop offset="0.25" stop-color="#4eb977"/><stop offset="0.5" stop-color="#50bd70"/><stop offset="0.75" stop-color="#54be65"/><stop offset="1" stop-color="#5bbe56"/></linearGradient>
<linearGradient id="g272" gradientUnits="userSpaceOnUse" x1="173.6" y1="98.5" x2="162.7" y2="85.4"><stop offset="0" stop-color="#79be09"/><stop offset="0.2" stop-color="#83be04"/><stop offset="0.4" stop-color="#8ebe00"/><stop offset="0.6" stop-color="#a4ba00"/><stop offset="0.8" stop-color="#b4b600"/><stop offset="1" stop-color="#c3b400"/></linearGradient>
<linearGradient id="g273" gradientUnits="userSpaceOnUse" x1="287.9" y1="50.5" x2="294.5" y2="32.9"><stop offset="0" stop-color="#a52306"/><stop offset="0.167" stop-color="#a52309"/><stop offset="0.333" stop-color="#a4220d"/><stop offset="0.5" stop-color="#a11f17"/><stop offset="0.667" stop-color="#a01d20"/><stop offset="0.833" stop-color="#a11c29"/><stop offset="1" stop-color="#a51e2d"/></linearGradient>
<linearGradient id="g274" gradientUnits="userSpaceOnUse" x1="110.9" y1="80.2" x2="115.2" y2="66.6"><stop offset="0" stop-color="#cdb300"/><stop offset="0.25" stop-color="#ddb000"/><stop offset="0.5" stop-color="#ebaa00"/><stop offset="0.75" stop-color="#f2a200"/><stop offset="1" stop-color="#e69300"/></linearGradient>
<linearGradient id="g275" gradientUnits="userSpaceOnUse" x1="297.1" y1="44.6" x2="303.1" y2="27.0"><stop offset="0" stop-color="#a11f15"/><stop offset="0.2" stop-color="#a01d20"/><stop offset="0.4" stop-color="#a11d29"/><stop offset="0.6" stop-color="#a71f2e"/><stop offset="0.8" stop-color="#af2332"/><stop offset="1" stop-color="#b62736"/></linearGradient>
<linearGradient id="g276" gradientUnits="userSpaceOnUse" x1="110.9" y1="80.2" x2="114.5" y2="66.3"><stop offset="0" stop-color="#cdb300"/><stop offset="0.25" stop-color="#ddb000"/><stop offset="0.5" stop-color="#ebaa00"/><stop offset="0.75" stop-color="#f2a200"/><stop offset="1" stop-color="#e69300"/></linearGradient>
<linearGradient id="g277" gradientUnits="userSpaceOnUse" x1="199.7" y1="132.9" x2="192.6" y2="132.7"><stop offset="0" stop-color="#44a091"/><stop offset="1" stop-color="#46a78a"/></linearGradient>
<linearGradient id="g278" gradientUnits="userSpaceOnUse" x1="264.0" y1="95.3" x2="274.9" y2="75.8"><stop offset="0" stop-color="#a7b900"/><stop offset="0.143" stop-color="#b6b600"/><stop offset="0.286" stop-color="#c3b400"/><stop offset="0.429" stop-color="#d3b200"/><stop offset="0.571" stop-color="#e4ae00"/><stop offset="0.714" stop-color="#f2a700"/><stop offset="0.857" stop-color="#eb9b00"/><stop offset="1" stop-color="#e18a00"/></linearGradient>
<linearGradient id="g279" gradientUnits="userSpaceOnUse" x1="167.0" y1="91.8" x2="156.6" y2="78.0"><stop offset="0" stop-color="#9ebb00"/><stop offset="0.2" stop-color="#b0b700"/><stop offset="0.4" stop-color="#bfb400"/><stop offset="0.6" stop-color="#ceb300"/><stop offset="0.8" stop-color="#e0af00"/><stop offset="1" stop-color="#eea800"/></linearGradient>
<linearGradient id="g280" gradientUnits="userSpaceOnUse" x1="179.7" y1="115.8" x2="167.9" y2="104.5"><stop offset="0" stop-color="#50be6e"/><stop offset="0.2" stop-color="#57be60"/><stop offset="0.4" stop-color="#5ebe4b"/><stop offset="0.6" stop-color="#65be36"/><stop offset="0.8" stop-color="#6fbe23"/><stop offset="1" stop-color="#79be09"/></linearGradient>
<linearGradient id="g281" gradientUnits="userSpaceOnUse" x1="193.1" y1="132.5" x2="186.5" y2="132.6"><stop offset="0" stop-color="#46a68b"/><stop offset="0.5" stop-color="#48ad84"/><stop offset="1" stop-color="#4cb57c"/></linearGradient>
<linearGradient id="g282" gradientUnits="userSpaceOnUse" x1="102.7" y1="93.8" x2="107.9" y2="78.9"><stop offset="0" stop-color="#8abe01"/><stop offset="0.25" stop-color="#9ebb00"/><stop offset="0.5" stop-color="#b1b700"/><stop offset="0.75" stop-color="#bfb400"/><stop offset="1" stop-color="#cfb300"/></linearGradient>
<linearGradient id="g283" gradientUnits="userSpaceOnUse" x1="272.9" y1="87.8" x2="282.1" y2="68.8"><stop offset="0" stop-color="#dbb000"/><stop offset="0.167" stop-color="#eaaa00"/><stop offset="0.333" stop-color="#f1a100"/><stop offset="0.5" stop-color="#e59000"/><stop offset="0.667" stop-color="#da7e01"/><stop offset="0.833" stop-color="#cf6c04"/><stop offset="1" stop-color="#c15305"/></linearGradient>
<linearGradient id="g284" gradientUnits="userSpaceOnUse" x1="227.8" y1="144.7" x2="229.9" y2="137.6"><stop offset="0" stop-color="#3d8aa3"/><stop offset="1" stop-color="#409998"/></linearGradient>
<linearGradient id="g285" gradientUnits="userSpaceOnUse" x1="242.0" y1="143.0" x2="245.7" y2="132.2"><stop offset="0" stop-color="#40959a"/><stop offset="0.333" stop-color="#439e93"/><stop offset="0.667" stop-color="#46a48d"/><stop offset="1" stop-color="#46ab86"/></linearGradient>
<linearGradient id="g286" gradientUnits="userSpaceOnUse" x1="227.8" y1="144.7" x2="229.4" y2="137.2"><stop offset="0" stop-color="#3d8aa3"/><stop offset="1" stop-color="#409998"/></linearGradient>
<linearGradient id="g287" gradientUnits="userSpaceOnUse" x1="125.3" y1="71.9" x2="128.9" y2="58.2"><stop offset="0" stop-color="#ef9f00"/><stop offset="0.25" stop-color="#e48f00"/><stop offset="0.5" stop-color="#da7f01"/><stop offset="0.75" stop-color="#d06f04"/><stop offset="1" stop-color="#c55805"/></linearGradient>
<linearGradient id="g288" gradientUnits="userSpaceOnUse" x1="256.2" y1="116.8" x2="269.3" y2="99.4"><stop offset="0" stop-color="#5bbe56"/><stop offset="0.143" stop-color="#62be3e"/><stop offset="0.286" stop-color="#69be32"/><stop offset="0.429" stop-color="#73be17"/><stop offset="0.571" stop-color="#7dbe08"/><stop offset="0.714" stop-color="#86be03"/><stop offset="0.857" stop-color="#93bd00"/><stop offset="1" stop-color="#a7b900"/></linearGradient>
<linearGradient id="g289" gradientUnits="userSpaceOnUse" x1="242.0" y1="143.0" x2="249.6" y2="130.1"><stop offset="0" stop-color="#40959a"/><stop offset="0.25" stop-color="#439f92"/><stop offset="0.5" stop-color="#46a68b"/><stop offset="0.75" stop-color="#47ac85"/><stop offset="1" stop-color="#4bb37e"/></linearGradient>
<linearGradient id="g290" gradientUnits="userSpaceOnUse" x1="213.7" y1="145.5" x2="213.9" y2="135.9"><stop offset="0" stop-color="#3c85a7"/><stop offset="0.5" stop-color="#3e8f9f"/><stop offset="1" stop-color="#419a97"/></linearGradient>
<linearGradient id="g291" gradientUnits="userSpaceOnUse" x1="102.7" y1="93.8" x2="107.5" y2="78.6"><stop offset="0" stop-color="#8abe01"/><stop offset="0.25" stop-color="#9ebb00"/><stop offset="0.5" stop-color="#b1b700"/><stop offset="0.75" stop-color="#bfb400"/><stop offset="1" stop-color="#cfb300"/></linearGradient>
<linearGradient id="g292" gradientUnits="userSpaceOnUse" x1="173.2" y1="108.9" x2="161.7" y2="96.9"><stop offset="0" stop-color="#65be36"/><stop offset="0.2" stop-color="#6dbe27"/><stop offset="0.4" stop-color="#78be0b"/><stop offset="0.6" stop-color="#81be05"/><stop offset="0.8" stop-color="#8bbe01"/><stop offset="1" stop-color="#9ebb00"/></linearGradient>
<linearGradient id="g293" gradientUnits="userSpaceOnUse" x1="318.9" y1="23.4" x2="318.2" y2="18.2"><stop offset="0" stop-color="#c83744"/><stop offset="0.333" stop-color="#cb3946"/><stop offset="0.667" stop-color="#ce3b48"/><stop offset="1" stop-color="#d13d49"/></linearGradient>
<linearGradient id="g294" gradientUnits="userSpaceOnUse" x1="125.3" y1="71.9" x2="128.2" y2="57.9"><stop offset="0" stop-color="#ef9f00"/><stop offset="0.25" stop-color="#e48f00"/><stop offset="0.5" stop-color="#da7f01"/><stop offset="0.75" stop-color="#d06f04"/><stop offset="1" stop-color="#c55805"/></linearGradient>
<linearGradient id="g295" gradientUnits="userSpaceOnUse" x1="213.7" y1="145.5" x2="212.5" y2="136.0"><stop offset="0" stop-color="#3c85a7"/><stop offset="0.5" stop-color="#3e8f9f"/><stop offset="1" stop-color="#419a97"/></linearGradient>
<linearGradient id="g296" gradientUnits="userSpaceOnUse" x1="160.9" y1="74.8" x2="155.3" y2="64.9"><stop offset="0" stop-color="#eea800"/><stop offset="0.333" stop-color="#f0a000"/><stop offset="0.667" stop-color="#e69200"/><stop offset="1" stop-color="#dd8300"/></linearGradient>
<linearGradient id="g297" gradientUnits="userSpaceOnUse" x1="280.5" y1="68.0" x2="288.4" y2="50.7"><stop offset="0" stop-color="#c15305"/><stop offset="0.167" stop-color="#b84605"/><stop offset="0.333" stop-color="#b03905"/><stop offset="0.5" stop-color="#aa2d05"/><stop offset="0.667" stop-color="#a82905"/><stop offset="0.833" stop-color="#a62405"/><stop offset="1" stop-color="#a52306"/></linearGradient>
<linearGradient id="g298" gradientUnits="userSpaceOnUse" x1="94.4" y1="107.5" x2="100.1" y2="92.5"><stop offset="0" stop-color="#64be37"/><stop offset="0.25" stop-color="#6dbe27"/><stop offset="0.5" stop-color="#78be0a"/><stop offset="0.75" stop-color="#82be05"/><stop offset="1" stop-color="#8bbe00"/></linearGradient>
<linearGradient id="g299" gradientUnits="userSpaceOnUse" x1="153.7" y1="72.5" x2="151.4" y2="64.3"><stop offset="0" stop-color="#eb9b00"/><stop offset="0.5" stop-color="#e28c00"/><stop offset="1" stop-color="#d97d01"/></linearGradient>
<linearGradient id="g300" gradientUnits="userSpaceOnUse" x1="186.3" y1="124.1" x2="179.3" y2="123.7"><stop offset="0" stop-color="#4cb57c"/><stop offset="0.5" stop-color="#4fba75"/><stop offset="1" stop-color="#50be6e"/></linearGradient>
<linearGradient id="g301" gradientUnits="userSpaceOnUse" x1="318.9" y1="23.4" x2="318.6" y2="17.9"><stop offset="0" stop-color="#c83744"/><stop offset="0.333" stop-color="#cb3946"/><stop offset="0.667" stop-color="#ce3b48"/><stop offset="1" stop-color="#d13d49"/></linearGradient>
<linearGradient id="g302" gradientUnits="userSpaceOnUse" x1="289.7" y1="61.8" x2="296.9" y2="44.5"><stop offset="0" stop-color="#aa2d05"/><stop offset="0.2" stop-color="#a72805"/><stop offset="0.4" stop-color="#a52305"/><stop offset="0.6" stop-color="#a52307"/><stop offset="0.8" stop-color="#a5230a"/><stop offset="1" stop-color="#a11f15"/></linearGradient>
<linearGradient id="g303" gradientUnits="userSpaceOnUse" x1="265.2" y1="107.8" x2="276.8" y2="90.4"><stop offset="0" stop-color="#7dbe07"/><stop offset="0.167" stop-color="#87be03"/><stop offset="0.333" stop-color="#96bc00"/><stop offset="0.5" stop-color="#abb900"/><stop offset="0.667" stop-color="#bab500"/><stop offset="0.833" stop-color="#c8b400"/><stop offset="1" stop-color="#dbb000"/></linearGradient>
<linearGradient id="g304" gradientUnits="userSpaceOnUse" x1="139.7" y1="65.7" x2="139.8" y2="58.6"><stop offset="0" stop-color="#d57702"/><stop offset="0.5" stop-color="#ce6b05"/><stop offset="1" stop-color="#c55a05"/></linearGradient>
<linearGradient id="g305" gradientUnits="userSpaceOnUse" x1="147.2" y1="65.5" x2="145.1" y2="57.4"><stop offset="0" stop-color="#d97d01"/><stop offset="0.5" stop-color="#d06e04"/><stop offset="1" stop-color="#c55a05"/></linearGradient>
<linearGradient id="g306" gradientUnits="userSpaceOnUse" x1="206.6" y1="139.1" x2="201.4" y2="131.7"><stop offset="0" stop-color="#3f949b"/><stop offset="0.5" stop-color="#419c95"/><stop offset="1" stop-color="#44a091"/></linearGradient>
<linearGradient id="g307" gradientUnits="userSpaceOnUse" x1="297.1" y1="44.6" x2="303.2" y2="27.1"><stop offset="0" stop-color="#a11f15"/><stop offset="0.2" stop-color="#a01d20"/><stop offset="0.4" stop-color="#a11d29"/><stop offset="0.6" stop-color="#a71f2e"/><stop offset="0.8" stop-color="#af2332"/><stop offset="1" stop-color="#b62736"/></linearGradient>
<linearGradient id="g308" gradientUnits="userSpaceOnUse" x1="306.5" y1="38.5" x2="311.6" y2="22.0"><stop offset="0" stop-color="#a31d2b"/><stop offset="0.2" stop-color="#a9202f"/><stop offset="0.4" stop-color="#b02433"/><stop offset="0.6" stop-color="#b72736"/><stop offset="0.8" stop-color="#c3323f"/><stop offset="1" stop-color="#ca3845"/></linearGradient>
<linearGradient id="g309" gradientUnits="userSpaceOnUse" x1="249.1" y1="129.8" x2="260.0" y2="122.2"><stop offset="0" stop-color="#4bb37e"/><stop offset="0.25" stop-color="#4eb977"/><stop offset="0.5" stop-color="#50bd70"/><stop offset="0.75" stop-color="#54be65"/><stop offset="1" stop-color="#5bbe56"/></linearGradient>
<linearGradient id="g310" gradientUnits="userSpaceOnUse" x1="94.4" y1="107.5" x2="99.7" y2="92.2"><stop offset="0" stop-color="#64be37"/><stop offset="0.25" stop-color="#6dbe27"/><stop offset="0.5" stop-color="#78be0a"/><stop offset="0.75" stop-color="#82be05"/><stop offset="1" stop-color="#8bbe00"/></linearGradient>
<linearGradient id="g311" gradientUnits="userSpaceOnUse" x1="179.7" y1="120.4" x2="172.8" y2="120.2"><stop offset="0" stop-color="#50be6f"/><stop offset="0.333" stop-color="#56be61"/><stop offset="0.667" stop-color="#5dbe4e"/><stop offset="1" stop-color="#65be36"/></linearGradient>
<linearGradient id="g312" gradientUnits="userSpaceOnUse" x1="200.0" y1="140.2" x2="192.2" y2="133.5"><stop offset="0" stop-color="#419a97"/><stop offset="0.5" stop-color="#44a091"/><stop offset="1" stop-color="#46a68b"/></linearGradient>
<linearGradient id="g313" gradientUnits="userSpaceOnUse" x1="117.3" y1="82.8" x2="121.4" y2="69.6"><stop offset="0" stop-color="#cbb300"/><stop offset="0.25" stop-color="#dab000"/><stop offset="0.5" stop-color="#e8ac00"/><stop offset="0.75" stop-color="#f4a600"/><stop offset="1" stop-color="#ea9a00"/></linearGradient>
<linearGradient id="g314" gradientUnits="userSpaceOnUse" x1="257.9" y1="123.2" x2="270.1" y2="115.3"><stop offset="0" stop-color="#56be61"/><stop offset="0.2" stop-color="#5dbe50"/><stop offset="0.4" stop-color="#63be39"/><stop offset="0.6" stop-color="#6abe2f"/><stop offset="0.8" stop-color="#74be15"/><stop offset="1" stop-color="#7dbe07"/></linearGradient>
<linearGradient id="g315" gradientUnits="userSpaceOnUse" x1="117.3" y1="82.8" x2="120.7" y2="69.3"><stop offset="0" stop-color="#cbb300"/><stop offset="0.25" stop-color="#dab000"/><stop offset="0.5" stop-color="#e8ac00"/><stop offset="0.75" stop-color="#f4a600"/><stop offset="1" stop-color="#ea9a00"/></linearGradient>
<linearGradient id="g316" gradientUnits="userSpaceOnUse" x1="167.0" y1="91.8" x2="159.8" y2="75.3"><stop offset="0" stop-color="#9ebb00"/><stop offset="0.2" stop-color="#b0b700"/><stop offset="0.4" stop-color="#bfb400"/><stop offset="0.6" stop-color="#ceb300"/><stop offset="0.8" stop-color="#e0af00"/><stop offset="1" stop-color="#eea800"/></linearGradient>
<linearGradient id="g317" gradientUnits="userSpaceOnUse" x1="235.4" y1="148.3" x2="237.7" y2="140.8"><stop offset="0" stop-color="#3c87a5"/><stop offset="0.5" stop-color="#3e8f9f"/><stop offset="1" stop-color="#409799"/></linearGradient>
<linearGradient id="g318" gradientUnits="userSpaceOnUse" x1="235.4" y1="148.3" x2="237.3" y2="140.5"><stop offset="0" stop-color="#3c87a5"/><stop offset="0.5" stop-color="#3e8f9f"/><stop offset="1" stop-color="#409799"/></linearGradient>
<linearGradient id="g319" gradientUnits="userSpaceOnUse" x1="272.9" y1="87.8" x2="283.2" y2="69.5"><stop offset="0" stop-color="#dbb000"/><stop offset="0.167" stop-color="#eaaa00"/><stop offset="0.333" stop-color="#f1a100"/><stop offset="0.5" stop-color="#e59000"/><stop offset="0.667" stop-color="#da7e01"/><stop offset="0.833" stop-color="#cf6c04"/><stop offset="1" stop-color="#c15305"/></linearGradient>
<linearGradient id="g320" gradientUnits="userSpaceOnUse" x1="193.1" y1="132.5" x2="186.1" y2="124.2"><stop offset="0" stop-color="#46a68b"/><stop offset="0.5" stop-color="#48ad84"/><stop offset="1" stop-color="#4cb57c"/></linearGradient>
<linearGradient id="g321" gradientUnits="userSpaceOnUse" x1="221.1" y1="149.6" x2="222.9" y2="141.6"><stop offset="0" stop-color="#3c82aa"/><stop offset="0.5" stop-color="#3c86a6"/><stop offset="1" stop-color="#3e8ea0"/></linearGradient>
<linearGradient id="g322" gradientUnits="userSpaceOnUse" x1="221.1" y1="149.6" x2="222.4" y2="141.4"><stop offset="0" stop-color="#3c82aa"/><stop offset="0.5" stop-color="#3c86a6"/><stop offset="1" stop-color="#3e8ea0"/></linearGradient>
<linearGradient id="g323" gradientUnits="userSpaceOnUse" x1="242.0" y1="143.0" x2="252.2" y2="133.0"><stop offset="0" stop-color="#40959a"/><stop offset="0.25" stop-color="#439f92"/><stop offset="0.5" stop-color="#46a68b"/><stop offset="0.75" stop-color="#47ac85"/><stop offset="1" stop-color="#4bb37e"/></linearGradient>
<linearGradient id="g324" gradientUnits="userSpaceOnUse" x1="160.0" y1="88.7" x2="154.2" y2="72.3"><stop offset="0" stop-color="#b8b500"/><stop offset="0.2" stop-color="#c6b400"/><stop offset="0.4" stop-color="#d5b100"/><stop offset="0.6" stop-color="#e5ad00"/><stop offset="0.8" stop-color="#f2a600"/><stop offset="1" stop-color="#eb9b00"/></linearGradient>
<linearGradient id="g325" gradientUnits="userSpaceOnUse" x1="109.0" y1="96.4" x2="114.3" y2="81.4"><stop offset="0" stop-color="#89be01"/><stop offset="0.25" stop-color="#9cbb00"/><stop offset="0.5" stop-color="#afb800"/><stop offset="0.75" stop-color="#bdb400"/><stop offset="1" stop-color="#cdb300"/></linearGradient>
<linearGradient id="g326" gradientUnits="userSpaceOnUse" x1="282.1" y1="80.1" x2="290.8" y2="62.3"><stop offset="0" stop-color="#e28c00"/><stop offset="0.167" stop-color="#d87c01"/><stop offset="0.333" stop-color="#cf6c04"/><stop offset="0.5" stop-color="#c25405"/><stop offset="0.667" stop-color="#b84705"/><stop offset="0.833" stop-color="#b03a05"/><stop offset="1" stop-color="#aa2d05"/></linearGradient>
<linearGradient id="g327" gradientUnits="userSpaceOnUse" x1="131.7" y1="77.6" x2="134.5" y2="61.5"><stop offset="0" stop-color="#eaaa00"/><stop offset="0.2" stop-color="#f3a300"/><stop offset="0.4" stop-color="#e89600"/><stop offset="0.6" stop-color="#df8700"/><stop offset="0.8" stop-color="#d67802"/><stop offset="1" stop-color="#cd6905"/></linearGradient>
<linearGradient id="g328" gradientUnits="userSpaceOnUse" x1="207.0" y1="148.0" x2="204.5" y2="139.8"><stop offset="0" stop-color="#3c85a7"/><stop offset="0.5" stop-color="#3d8ba2"/><stop offset="1" stop-color="#3f949b"/></linearGradient>
<linearGradient id="g329" gradientUnits="userSpaceOnUse" x1="186.3" y1="132.1" x2="176.4" y2="125.4"><stop offset="0" stop-color="#47ad84"/><stop offset="0.333" stop-color="#4bb47d"/><stop offset="0.667" stop-color="#4eba76"/><stop offset="1" stop-color="#50be6f"/></linearGradient>
<linearGradient id="g330" gradientUnits="userSpaceOnUse" x1="173.2" y1="108.9" x2="164.2" y2="93.5"><stop offset="0" stop-color="#65be36"/><stop offset="0.2" stop-color="#6dbe27"/><stop offset="0.4" stop-color="#78be0b"/><stop offset="0.6" stop-color="#81be05"/><stop offset="0.8" stop-color="#8bbe01"/><stop offset="1" stop-color="#9ebb00"/></linearGradient>
<linearGradient id="g331" gradientUnits="userSpaceOnUse" x1="131.7" y1="77.6" x2="134.9" y2="61.6"><stop offset="0" stop-color="#eaaa00"/><stop offset="0.2" stop-color="#f3a300"/><stop offset="0.4" stop-color="#e89600"/><stop offset="0.6" stop-color="#df8700"/><stop offset="0.8" stop-color="#d67802"/><stop offset="1" stop-color="#cd6905"/></linearGradient>
<linearGradient id="g332" gradientUnits="userSpaceOnUse" x1="207.0" y1="148.0" x2="201.9" y2="139.1"><stop offset="0" stop-color="#3c85a7"/><stop offset="0.5" stop-color="#3e8ea0"/><stop offset="1" stop-color="#419a97"/></linearGradient>
<linearGradient id="g333" gradientUnits="userSpaceOnUse" x1="109.0" y1="96.4" x2="113.9" y2="81.2"><stop offset="0" stop-color="#89be01"/><stop offset="0.25" stop-color="#9cbb00"/><stop offset="0.5" stop-color="#afb800"/><stop offset="0.75" stop-color="#bdb400"/><stop offset="1" stop-color="#cdb300"/></linearGradient>
<linearGradient id="g334" gradientUnits="userSpaceOnUse" x1="250.4" y1="138.9" x2="262.4" y2="128.5"><stop offset="0" stop-color="#46a988"/><stop offset="0.2" stop-color="#49af82"/><stop offset="0.4" stop-color="#4cb67b"/><stop offset="0.6" stop-color="#4fbb75"/><stop offset="0.8" stop-color="#50be6e"/><stop offset="1" stop-color="#56be61"/></linearGradient>
<linearGradient id="g335" gradientUnits="userSpaceOnUse" x1="289.7" y1="61.8" x2="297.6" y2="44.8"><stop offset="0" stop-color="#aa2d05"/><stop offset="0.2" stop-color="#a72805"/><stop offset="0.4" stop-color="#a52305"/><stop offset="0.6" stop-color="#a52307"/><stop offset="0.8" stop-color="#a5230a"/><stop offset="1" stop-color="#a11f15"/></linearGradient>
<linearGradient id="g336" gradientUnits="userSpaceOnUse" x1="153.7" y1="72.5" x2="146.8" y2="66.0"><stop offset="0" stop-color="#eb9b00"/><stop offset="0.5" stop-color="#e28c00"/><stop offset="1" stop-color="#d97d01"/></linearGradient>
<linearGradient id="g337" gradientUnits="userSpaceOnUse" x1="146.4" y1="70.1" x2="143.4" y2="63.9"><stop offset="0" stop-color="#de8500"/><stop offset="1" stop-color="#d57702"/></linearGradient>
<linearGradient id="g338" gradientUnits="userSpaceOnUse" x1="265.2" y1="107.8" x2="277.7" y2="91.5"><stop offset="0" stop-color="#7dbe07"/><stop offset="0.167" stop-color="#87be03"/><stop offset="0.333" stop-color="#96bc00"/><stop offset="0.5" stop-color="#abb900"/><stop offset="0.667" stop-color="#bab500"/><stop offset="0.833" stop-color="#c8b400"/><stop offset="1" stop-color="#dbb000"/></linearGradient>
<linearGradient id="g339" gradientUnits="userSpaceOnUse" x1="299.2" y1="54.5" x2="305.9" y2="38.2"><stop offset="0" stop-color="#a52307"/><stop offset="0.2" stop-color="#a52309"/><stop offset="0.4" stop-color="#a32111"/><stop offset="0.6" stop-color="#a01e1b"/><stop offset="0.8" stop-color="#a01c26"/><stop offset="1" stop-color="#a31d2b"/></linearGradient>
<linearGradient id="g340" gradientUnits="userSpaceOnUse" x1="100.7" y1="110.3" x2="106.4" y2="95.2"><stop offset="0" stop-color="#64be38"/><stop offset="0.25" stop-color="#6cbe2a"/><stop offset="0.5" stop-color="#77be0d"/><stop offset="0.75" stop-color="#81be06"/><stop offset="1" stop-color="#8abe01"/></linearGradient>
<linearGradient id="g341" gradientUnits="userSpaceOnUse" x1="316.2" y1="32.2" x2="320.9" y2="16.9"><stop offset="0" stop-color="#b42635"/><stop offset="0.2" stop-color="#bc2b3a"/><stop offset="0.4" stop-color="#c83744"/><stop offset="0.6" stop-color="#cb3946"/><stop offset="0.8" stop-color="#ce3b48"/><stop offset="1" stop-color="#d13d49"/></linearGradient>
<linearGradient id="g342" gradientUnits="userSpaceOnUse" x1="306.5" y1="38.5" x2="312.1" y2="22.1"><stop offset="0" stop-color="#a31d2b"/><stop offset="0.2" stop-color="#a9202f"/><stop offset="0.4" stop-color="#b02433"/><stop offset="0.6" stop-color="#b72736"/><stop offset="0.8" stop-color="#c3323f"/><stop offset="1" stop-color="#ca3845"/></linearGradient>
<linearGradient id="g343" gradientUnits="userSpaceOnUse" x1="166.3" y1="105.0" x2="158.7" y2="89.3"><stop offset="0" stop-color="#77be0d"/><stop offset="0.2" stop-color="#80be06"/><stop offset="0.4" stop-color="#89be02"/><stop offset="0.6" stop-color="#98bc00"/><stop offset="0.8" stop-color="#abb900"/><stop offset="1" stop-color="#b8b500"/></linearGradient>
<linearGradient id="g344" gradientUnits="userSpaceOnUse" x1="200.0" y1="140.2" x2="195.1" y2="131.4"><stop offset="0" stop-color="#419a97"/><stop offset="0.5" stop-color="#44a091"/><stop offset="1" stop-color="#46a68b"/></linearGradient>
<linearGradient id="g345" gradientUnits="userSpaceOnUse" x1="274.5" y1="98.5" x2="285.5" y2="82.4"><stop offset="0" stop-color="#b7b600"/><stop offset="0.167" stop-color="#c4b400"/><stop offset="0.333" stop-color="#d4b200"/><stop offset="0.5" stop-color="#e3ae00"/><stop offset="0.667" stop-color="#f0a700"/><stop offset="0.833" stop-color="#ec9c00"/><stop offset="1" stop-color="#e28c00"/></linearGradient>
<linearGradient id="g346" gradientUnits="userSpaceOnUse" x1="123.6" y1="89.8" x2="126.3" y2="72.1"><stop offset="0" stop-color="#b4b700"/><stop offset="0.2" stop-color="#c1b400"/><stop offset="0.4" stop-color="#d0b200"/><stop offset="0.6" stop-color="#e1af00"/><stop offset="0.8" stop-color="#eea900"/><stop offset="1" stop-color="#ef9f00"/></linearGradient>
<linearGradient id="g347" gradientUnits="userSpaceOnUse" x1="179.7" y1="120.4" x2="171.8" y2="109.9"><stop offset="0" stop-color="#50be6f"/><stop offset="0.333" stop-color="#56be61"/><stop offset="0.667" stop-color="#5dbe4e"/><stop offset="1" stop-color="#65be36"/></linearGradient>
<linearGradient id="g348" gradientUnits="userSpaceOnUse" x1="100.7" y1="110.3" x2="106.0" y2="94.9"><stop offset="0" stop-color="#64be38"/><stop offset="0.25" stop-color="#6cbe2a"/><stop offset="0.5" stop-color="#77be0d"/><stop offset="0.75" stop-color="#81be06"/><stop offset="1" stop-color="#8abe01"/></linearGradient>
<linearGradient id="g349" gradientUnits="userSpaceOnUse" x1="193.2" y1="141.2" x2="186.0" y2="132.3"><stop offset="0" stop-color="#429d94"/><stop offset="0.333" stop-color="#45a28f"/><stop offset="0.667" stop-color="#46a78a"/><stop offset="1" stop-color="#47ad84"/></linearGradient>
<linearGradient id="g350" gradientUnits="userSpaceOnUse" x1="228.7" y1="153.8" x2="230.8" y2="145.4"><stop offset="0" stop-color="#3b7eab"/><stop offset="0.5" stop-color="#3c84a8"/><stop offset="1" stop-color="#3d8aa3"/></linearGradient>
<linearGradient id="g351" gradientUnits="userSpaceOnUse" x1="235.4" y1="148.3" x2="243.4" y2="146.9"><stop offset="0" stop-color="#3c87a5"/><stop offset="0.5" stop-color="#3e8e9f"/><stop offset="1" stop-color="#409799"/></linearGradient>
<linearGradient id="g352" gradientUnits="userSpaceOnUse" x1="123.6" y1="89.8" x2="126.6" y2="72.2"><stop offset="0" stop-color="#b4b700"/><stop offset="0.2" stop-color="#c1b400"/><stop offset="0.4" stop-color="#d0b200"/><stop offset="0.6" stop-color="#e1af00"/><stop offset="0.8" stop-color="#eea900"/><stop offset="1" stop-color="#ef9f00"/></linearGradient>
<linearGradient id="g353" gradientUnits="userSpaceOnUse" x1="228.7" y1="153.8" x2="230.3" y2="145.1"><stop offset="0" stop-color="#3b7eab"/><stop offset="0.5" stop-color="#3c84a8"/><stop offset="1" stop-color="#3d8aa3"/></linearGradient>
<linearGradient id="g354" gradientUnits="userSpaceOnUse" x1="257.9" y1="123.2" x2="269.1" y2="111.5"><stop offset="0" stop-color="#56be61"/><stop offset="0.2" stop-color="#5dbe50"/><stop offset="0.4" stop-color="#63be39"/><stop offset="0.6" stop-color="#6abe2f"/><stop offset="0.8" stop-color="#74be15"/><stop offset="1" stop-color="#7dbe07"/></linearGradient>
<linearGradient id="g355" gradientUnits="userSpaceOnUse" x1="242.0" y1="143.0" x2="250.9" y2="140.8"><stop offset="0" stop-color="#40959a"/><stop offset="0.333" stop-color="#429e93"/><stop offset="0.667" stop-color="#45a38e"/><stop offset="1" stop-color="#46a988"/></linearGradient>
<linearGradient id="g356" gradientUnits="userSpaceOnUse" x1="214.4" y1="153.7" x2="215.1" y2="145.6"><stop offset="0" stop-color="#3a7cac"/><stop offset="1" stop-color="#3c85a7"/></linearGradient>
<linearGradient id="g357" gradientUnits="userSpaceOnUse" x1="172.8" y1="118.4" x2="163.1" y2="107.8"><stop offset="0" stop-color="#59be5d"/><stop offset="0.25" stop-color="#5fbe48"/><stop offset="0.5" stop-color="#65be36"/><stop offset="0.75" stop-color="#6dbe26"/><stop offset="1" stop-color="#77be0d"/></linearGradient>
<linearGradient id="g358" gradientUnits="userSpaceOnUse" x1="214.4" y1="153.7" x2="212.1" y2="145.9"><stop offset="0" stop-color="#3a7cac"/><stop offset="1" stop-color="#3c85a7"/></linearGradient>
<linearGradient id="g359" gradientUnits="userSpaceOnUse" x1="160.0" y1="88.7" x2="153.1" y2="72.8"><stop offset="0" stop-color="#b8b500"/><stop offset="0.2" stop-color="#c6b400"/><stop offset="0.4" stop-color="#d5b100"/><stop offset="0.6" stop-color="#e5ad00"/><stop offset="0.8" stop-color="#f2a600"/><stop offset="1" stop-color="#eb9b00"/></linearGradient>
<linearGradient id="g360" gradientUnits="userSpaceOnUse" x1="282.1" y1="80.1" x2="292.1" y2="63.3"><stop offset="0" stop-color="#e28c00"/><stop offset="0.167" stop-color="#d87c01"/><stop offset="0.333" stop-color="#cf6c04"/><stop offset="0.5" stop-color="#c25405"/><stop offset="0.667" stop-color="#b84705"/><stop offset="0.833" stop-color="#b03a05"/><stop offset="1" stop-color="#aa2d05"/></linearGradient>
<linearGradient id="g361" gradientUnits="userSpaceOnUse" x1="138.3" y1="83.5" x2="141.6" y2="66.0"><stop offset="0" stop-color="#d8b100"/><stop offset="0.2" stop-color="#e7ac00"/><stop offset="0.4" stop-color="#f4a500"/><stop offset="0.6" stop-color="#e99800"/><stop offset="0.8" stop-color="#df8700"/><stop offset="1" stop-color="#d57702"/></linearGradient>
<linearGradient id="g362" gradientUnits="userSpaceOnUse" x1="266.9" y1="116.5" x2="279.8" y2="103.9"><stop offset="0" stop-color="#6ebe23"/><stop offset="0.167" stop-color="#78be0a"/><stop offset="0.333" stop-color="#80be06"/><stop offset="0.5" stop-color="#89be02"/><stop offset="0.667" stop-color="#98bc00"/><stop offset="0.833" stop-color="#aab900"/><stop offset="1" stop-color="#b7b600"/></linearGradient>
<linearGradient id="g363" gradientUnits="userSpaceOnUse" x1="115.4" y1="101.1" x2="120.1" y2="83.5"><stop offset="0" stop-color="#82be05"/><stop offset="0.2" stop-color="#8bbe00"/><stop offset="0.4" stop-color="#9ebb00"/><stop offset="0.6" stop-color="#afb800"/><stop offset="0.8" stop-color="#bdb400"/><stop offset="1" stop-color="#cbb300"/></linearGradient>
<linearGradient id="g364" gradientUnits="userSpaceOnUse" x1="186.3" y1="132.1" x2="180.1" y2="120.2"><stop offset="0" stop-color="#47ad84"/><stop offset="0.333" stop-color="#4bb47d"/><stop offset="0.667" stop-color="#4eba76"/><stop offset="1" stop-color="#50be6f"/></linearGradient>
<linearGradient id="g365" gradientUnits="userSpaceOnUse" x1="291.7" y1="71.4" x2="300.5" y2="55.2"><stop offset="0" stop-color="#ba4a05"/><stop offset="0.2" stop-color="#b13b05"/><stop offset="0.4" stop-color="#aa2d05"/><stop offset="0.6" stop-color="#a82805"/><stop offset="0.8" stop-color="#a52405"/><stop offset="1" stop-color="#a52307"/></linearGradient>
<linearGradient id="g366" gradientUnits="userSpaceOnUse" x1="152.7" y1="85.5" x2="147.2" y2="69.8"><stop offset="0" stop-color="#d0b200"/><stop offset="0.2" stop-color="#e0af00"/><stop offset="0.4" stop-color="#eca900"/><stop offset="0.6" stop-color="#f2a200"/><stop offset="0.8" stop-color="#e79400"/><stop offset="1" stop-color="#de8500"/></linearGradient>
<linearGradient id="g367" gradientUnits="userSpaceOnUse" x1="200.2" y1="150.5" x2="197.2" y2="141.0"><stop offset="0" stop-color="#3c84a8"/><stop offset="0.5" stop-color="#3e8ea0"/><stop offset="1" stop-color="#419a97"/></linearGradient>
<linearGradient id="g368" gradientUnits="userSpaceOnUse" x1="138.3" y1="83.5" x2="141.9" y2="66.1"><stop offset="0" stop-color="#d8b100"/><stop offset="0.2" stop-color="#e7ac00"/><stop offset="0.4" stop-color="#f4a500"/><stop offset="0.6" stop-color="#e99800"/><stop offset="0.8" stop-color="#df8700"/><stop offset="1" stop-color="#d57702"/></linearGradient>
<linearGradient id="g369" gradientUnits="userSpaceOnUse" x1="250.4" y1="138.9" x2="260.9" y2="125.7"><stop offset="0" stop-color="#46a988"/><stop offset="0.2" stop-color="#49af82"/><stop offset="0.4" stop-color="#4cb67b"/><stop offset="0.6" stop-color="#4fbb75"/><stop offset="0.8" stop-color="#50be6e"/><stop offset="1" stop-color="#56be61"/></linearGradient>
<linearGradient id="g370" gradientUnits="userSpaceOnUse" x1="115.4" y1="101.1" x2="117.8" y2="82.9"><stop offset="0" stop-color="#82be05"/><stop offset="0.2" stop-color="#8bbe00"/><stop offset="0.4" stop-color="#9ebb00"/><stop offset="0.6" stop-color="#afb800"/><stop offset="0.8" stop-color="#bdb400"/><stop offset="1" stop-color="#cbb300"/></linearGradient>
<linearGradient id="g371" gradientUnits="userSpaceOnUse" x1="299.2" y1="54.5" x2="306.5" y2="38.5"><stop offset="0" stop-color="#a52307"/><stop offset="0.2" stop-color="#a52309"/><stop offset="0.4" stop-color="#a32111"/><stop offset="0.6" stop-color="#a01e1b"/><stop offset="0.8" stop-color="#a01c26"/><stop offset="1" stop-color="#a31d2b"/></linearGradient>
<linearGradient id="g372" gradientUnits="userSpaceOnUse" x1="309.0" y1="46.9" x2="315.3" y2="31.8"><stop offset="0" stop-color="#a01e1c"/><stop offset="0.2" stop-color="#a01c26"/><stop offset="0.4" stop-color="#a31d2b"/><stop offset="0.6" stop-color="#a8202f"/><stop offset="0.8" stop-color="#ae2332"/><stop offset="1" stop-color="#b42635"/></linearGradient>
<linearGradient id="g373" gradientUnits="userSpaceOnUse" x1="200.2" y1="150.5" x2="195.0" y2="140.3"><stop offset="0" stop-color="#3c84a8"/><stop offset="0.333" stop-color="#3d8ba2"/><stop offset="0.667" stop-color="#40969a"/><stop offset="1" stop-color="#429d94"/></linearGradient>
<linearGradient id="g374" gradientUnits="userSpaceOnUse" x1="179.3" y1="131.9" x2="171.1" y2="119.5"><stop offset="0" stop-color="#4ab27f"/><stop offset="0.25" stop-color="#4eb879"/><stop offset="0.5" stop-color="#4fbc72"/><stop offset="0.75" stop-color="#52be6a"/><stop offset="1" stop-color="#59be5d"/></linearGradient>
<linearGradient id="g375" gradientUnits="userSpaceOnUse" x1="166.3" y1="105.0" x2="157.5" y2="90.2"><stop offset="0" stop-color="#77be0d"/><stop offset="0.2" stop-color="#80be06"/><stop offset="0.4" stop-color="#89be02"/><stop offset="0.6" stop-color="#98bc00"/><stop offset="0.8" stop-color="#abb900"/><stop offset="1" stop-color="#b8b500"/></linearGradient>
<linearGradient id="g376" gradientUnits="userSpaceOnUse" x1="100.7" y1="110.3" x2="106.8" y2="95.5"><stop offset="0" stop-color="#64be38"/><stop offset="0.25" stop-color="#6cbe2b"/><stop offset="0.5" stop-color="#76be0f"/><stop offset="0.75" stop-color="#80be06"/><stop offset="1" stop-color="#89be01"/></linearGradient>
<linearGradient id="g377" gradientUnits="userSpaceOnUse" x1="259.2" y1="134.7" x2="271.5" y2="120.5"><stop offset="0" stop-color="#4eb977"/><stop offset="0.167" stop-color="#4fbd71"/><stop offset="0.333" stop-color="#53be67"/><stop offset="0.5" stop-color="#5abe5b"/><stop offset="0.667" stop-color="#60be45"/><stop offset="0.833" stop-color="#66be35"/><stop offset="1" stop-color="#6ebe23"/></linearGradient>
<linearGradient id="g378" gradientUnits="userSpaceOnUse" x1="130.1" y1="97.0" x2="133.3" y2="77.9"><stop offset="0" stop-color="#98bc00"/><stop offset="0.2" stop-color="#acb800"/><stop offset="0.4" stop-color="#bab500"/><stop offset="0.6" stop-color="#c9b400"/><stop offset="0.8" stop-color="#dbb000"/><stop offset="1" stop-color="#eaaa00"/></linearGradient>
<linearGradient id="g379" gradientUnits="userSpaceOnUse" x1="236.5" y1="157.1" x2="239.2" y2="149.7"><stop offset="0" stop-color="#3a7dac"/><stop offset="0.5" stop-color="#3c83a9"/><stop offset="1" stop-color="#3c87a5"/></linearGradient>
<linearGradient id="g380" gradientUnits="userSpaceOnUse" x1="274.5" y1="98.5" x2="286.6" y2="83.7"><stop offset="0" stop-color="#b7b600"/><stop offset="0.167" stop-color="#c4b400"/><stop offset="0.333" stop-color="#d4b200"/><stop offset="0.5" stop-color="#e3ae00"/><stop offset="0.667" stop-color="#f0a700"/><stop offset="0.833" stop-color="#ec9c00"/><stop offset="1" stop-color="#e28c00"/></linearGradient>
<linearGradient id="g381" gradientUnits="userSpaceOnUse" x1="236.5" y1="157.1" x2="244.3" y2="148.6"><stop offset="0" stop-color="#3a7dac"/><stop offset="0.333" stop-color="#3c84a8"/><stop offset="0.667" stop-color="#3d8ca1"/><stop offset="1" stop-color="#409799"/></linearGradient>
<linearGradient id="g382" gradientUnits="userSpaceOnUse" x1="221.8" y1="159.5" x2="223.7" y2="150.1"><stop offset="0" stop-color="#3772af"/><stop offset="0.5" stop-color="#397aad"/><stop offset="1" stop-color="#3c82aa"/></linearGradient>
<linearGradient id="g383" gradientUnits="userSpaceOnUse" x1="159.1" y1="100.9" x2="151.7" y2="86.0"><stop offset="0" stop-color="#89be01"/><stop offset="0.2" stop-color="#98bc00"/><stop offset="0.4" stop-color="#aab900"/><stop offset="0.6" stop-color="#b6b600"/><stop offset="0.8" stop-color="#c3b400"/><stop offset="1" stop-color="#d0b200"/></linearGradient>
<linearGradient id="g384" gradientUnits="userSpaceOnUse" x1="193.2" y1="141.2" x2="188.6" y2="131.0"><stop offset="0" stop-color="#429d94"/><stop offset="0.333" stop-color="#45a28f"/><stop offset="0.667" stop-color="#46a78a"/><stop offset="1" stop-color="#47ad84"/></linearGradient>
<linearGradient id="g385" gradientUnits="userSpaceOnUse" x1="130.1" y1="97.0" x2="133.6" y2="78.0"><stop offset="0" stop-color="#98bc00"/><stop offset="0.2" stop-color="#acb800"/><stop offset="0.4" stop-color="#bab500"/><stop offset="0.6" stop-color="#c9b400"/><stop offset="0.8" stop-color="#dbb000"/><stop offset="1" stop-color="#eaaa00"/></linearGradient>
<linearGradient id="g386" gradientUnits="userSpaceOnUse" x1="221.8" y1="159.5" x2="221.4" y2="149.6"><stop offset="0" stop-color="#3772af"/><stop offset="0.5" stop-color="#397aad"/><stop offset="1" stop-color="#3c82aa"/></linearGradient>
<linearGradient id="g387" gradientUnits="userSpaceOnUse" x1="107.1" y1="112.6" x2="110.7" y2="96.8"><stop offset="0" stop-color="#64be37"/><stop offset="0.25" stop-color="#6cbe29"/><stop offset="0.5" stop-color="#77be0e"/><stop offset="0.75" stop-color="#80be06"/><stop offset="1" stop-color="#89be01"/></linearGradient>
<linearGradient id="g388" gradientUnits="userSpaceOnUse" x1="284.2" y1="88.4" x2="295.1" y2="73.9"><stop offset="0" stop-color="#f5a500"/><stop offset="0.2" stop-color="#e89500"/><stop offset="0.4" stop-color="#dd8400"/><stop offset="0.6" stop-color="#d27203"/><stop offset="0.8" stop-color="#c65b05"/><stop offset="1" stop-color="#ba4a05"/></linearGradient>
<linearGradient id="g389" gradientUnits="userSpaceOnUse" x1="243.6" y1="147.9" x2="250.9" y2="139.2"><stop offset="0" stop-color="#409799"/><stop offset="0.333" stop-color="#439e93"/><stop offset="0.667" stop-color="#45a48d"/><stop offset="1" stop-color="#46a988"/></linearGradient>
<linearGradient id="g390" gradientUnits="userSpaceOnUse" x1="186.2" y1="142.5" x2="179.6" y2="131.7"><stop offset="0" stop-color="#43a091"/><stop offset="0.333" stop-color="#46a68b"/><stop offset="0.667" stop-color="#47ac85"/><stop offset="1" stop-color="#4ab27f"/></linearGradient>
<linearGradient id="g391" gradientUnits="userSpaceOnUse" x1="172.8" y1="118.4" x2="165.1" y2="105.7"><stop offset="0" stop-color="#59be5d"/><stop offset="0.25" stop-color="#5fbe48"/><stop offset="0.5" stop-color="#65be36"/><stop offset="0.75" stop-color="#6dbe26"/><stop offset="1" stop-color="#77be0d"/></linearGradient>
<linearGradient id="g392" gradientUnits="userSpaceOnUse" x1="207.4" y1="157.9" x2="206.9" y2="148.0"><stop offset="0" stop-color="#3876ae"/><stop offset="0.5" stop-color="#3b7eab"/><stop offset="1" stop-color="#3c85a7"/></linearGradient>
<linearGradient id="g393" gradientUnits="userSpaceOnUse" x1="144.8" y1="95.1" x2="147.1" y2="70.2"><stop offset="0" stop-color="#aab900"/><stop offset="0.143" stop-color="#b8b600"/><stop offset="0.286" stop-color="#c6b400"/><stop offset="0.429" stop-color="#d7b100"/><stop offset="0.571" stop-color="#e7ac00"/><stop offset="0.714" stop-color="#f5a500"/><stop offset="0.857" stop-color="#e89700"/><stop offset="1" stop-color="#de8500"/></linearGradient>
<linearGradient id="g394" gradientUnits="userSpaceOnUse" x1="144.8" y1="95.1" x2="144.2" y2="70.2"><stop offset="0" stop-color="#aab900"/><stop offset="0.143" stop-color="#b8b600"/><stop offset="0.286" stop-color="#c6b400"/><stop offset="0.429" stop-color="#d7b100"/><stop offset="0.571" stop-color="#e7ac00"/><stop offset="0.714" stop-color="#f5a500"/><stop offset="0.857" stop-color="#e89700"/><stop offset="1" stop-color="#de8500"/></linearGradient>
<linearGradient id="g395" gradientUnits="userSpaceOnUse" x1="207.4" y1="157.9" x2="204.6" y2="148.7"><stop offset="0" stop-color="#3876ae"/><stop offset="0.5" stop-color="#3b7eab"/><stop offset="1" stop-color="#3c85a7"/></linearGradient>
<linearGradient id="g396" gradientUnits="userSpaceOnUse" x1="251.9" y1="147.4" x2="262.4" y2="138.5"><stop offset="0" stop-color="#44a190"/><stop offset="0.25" stop-color="#46a78a"/><stop offset="0.5" stop-color="#48ad84"/><stop offset="0.75" stop-color="#4bb47d"/><stop offset="1" stop-color="#4eb977"/></linearGradient>
<linearGradient id="g397" gradientUnits="userSpaceOnUse" x1="121.9" y1="105.9" x2="125.8" y2="90.3"><stop offset="0" stop-color="#7bbe08"/><stop offset="0.25" stop-color="#84be04"/><stop offset="0.5" stop-color="#8fbd00"/><stop offset="0.75" stop-color="#a4ba00"/><stop offset="1" stop-color="#b4b700"/></linearGradient>
<linearGradient id="g398" gradientUnits="userSpaceOnUse" x1="165.6" y1="116.2" x2="156.2" y2="103.0"><stop offset="0" stop-color="#62be3d"/><stop offset="0.25" stop-color="#6abe2f"/><stop offset="0.5" stop-color="#75be12"/><stop offset="0.75" stop-color="#7fbe06"/><stop offset="1" stop-color="#89be01"/></linearGradient>
<linearGradient id="g399" gradientUnits="userSpaceOnUse" x1="266.9" y1="116.5" x2="279.4" y2="103.0"><stop offset="0" stop-color="#6ebe23"/><stop offset="0.167" stop-color="#78be0a"/><stop offset="0.333" stop-color="#80be06"/><stop offset="0.5" stop-color="#89be02"/><stop offset="0.667" stop-color="#98bc00"/><stop offset="0.833" stop-color="#aab900"/><stop offset="1" stop-color="#b7b600"/></linearGradient>
<linearGradient id="g400" gradientUnits="userSpaceOnUse" x1="291.7" y1="71.4" x2="301.1" y2="55.7"><stop offset="0" stop-color="#ba4a05"/><stop offset="0.2" stop-color="#b13b05"/><stop offset="0.4" stop-color="#aa2d05"/><stop offset="0.6" stop-color="#a82805"/><stop offset="0.8" stop-color="#a52405"/><stop offset="1" stop-color="#a52307"/></linearGradient>
<linearGradient id="g401" gradientUnits="userSpaceOnUse" x1="121.9" y1="105.9" x2="123.5" y2="89.8"><stop offset="0" stop-color="#7bbe08"/><stop offset="0.25" stop-color="#84be04"/><stop offset="0.5" stop-color="#8fbd00"/><stop offset="0.75" stop-color="#a4ba00"/><stop offset="1" stop-color="#b4b700"/></linearGradient>
<linearGradient id="g402" gradientUnits="userSpaceOnUse" x1="301.7" y1="62.4" x2="309.9" y2="47.4"><stop offset="0" stop-color="#a62605"/><stop offset="0.2" stop-color="#a52306"/><stop offset="0.4" stop-color="#a52308"/><stop offset="0.6" stop-color="#a5230a"/><stop offset="0.8" stop-color="#a22013"/><stop offset="1" stop-color="#a01e1c"/></linearGradient>
<linearGradient id="g403" gradientUnits="userSpaceOnUse" x1="193.1" y1="153.3" x2="189.8" y2="142.2"><stop offset="0" stop-color="#3c83a9"/><stop offset="0.333" stop-color="#3d8aa3"/><stop offset="0.667" stop-color="#3f959b"/><stop offset="1" stop-color="#429d94"/></linearGradient>
<linearGradient id="g404" gradientUnits="userSpaceOnUse" x1="179.3" y1="131.9" x2="173.0" y2="118.3"><stop offset="0" stop-color="#4ab27f"/><stop offset="0.25" stop-color="#4eb879"/><stop offset="0.5" stop-color="#4fbc72"/><stop offset="0.75" stop-color="#52be6a"/><stop offset="1" stop-color="#59be5d"/></linearGradient>
<linearGradient id="g405" gradientUnits="userSpaceOnUse" x1="276.4" y1="107.4" x2="289.4" y2="93.2"><stop offset="0" stop-color="#9dbb00"/><stop offset="0.167" stop-color="#afb800"/><stop offset="0.333" stop-color="#bcb500"/><stop offset="0.5" stop-color="#c9b400"/><stop offset="0.667" stop-color="#dab000"/><stop offset="0.833" stop-color="#e8ab00"/><stop offset="1" stop-color="#f5a500"/></linearGradient>
<linearGradient id="g406" gradientUnits="userSpaceOnUse" x1="193.1" y1="153.3" x2="188.1" y2="141.7"><stop offset="0" stop-color="#3c83a9"/><stop offset="0.333" stop-color="#3d8ca1"/><stop offset="0.667" stop-color="#409898"/><stop offset="1" stop-color="#43a091"/></linearGradient>
<linearGradient id="g407" gradientUnits="userSpaceOnUse" x1="136.7" y1="104.9" x2="140.3" y2="83.8"><stop offset="0" stop-color="#80be06"/><stop offset="0.167" stop-color="#89be01"/><stop offset="0.333" stop-color="#9abc00"/><stop offset="0.5" stop-color="#adb800"/><stop offset="0.667" stop-color="#bab500"/><stop offset="0.833" stop-color="#c7b400"/><stop offset="1" stop-color="#d8b100"/></linearGradient>
<linearGradient id="g408" gradientUnits="userSpaceOnUse" x1="229.6" y1="163.4" x2="232.6" y2="155.2"><stop offset="0" stop-color="#366eae"/><stop offset="0.5" stop-color="#3877ae"/><stop offset="1" stop-color="#3b7eab"/></linearGradient>
<linearGradient id="g409" gradientUnits="userSpaceOnUse" x1="229.6" y1="163.4" x2="232.1" y2="154.8"><stop offset="0" stop-color="#366eae"/><stop offset="0.5" stop-color="#3877ae"/><stop offset="1" stop-color="#3b7eab"/></linearGradient>
<linearGradient id="g410" gradientUnits="userSpaceOnUse" x1="244.5" y1="160.4" x2="248.5" y2="149.8"><stop offset="0" stop-color="#3a7cac"/><stop offset="0.333" stop-color="#3c84a8"/><stop offset="0.667" stop-color="#3d8ca2"/><stop offset="1" stop-color="#409799"/></linearGradient>
<linearGradient id="g411" gradientUnits="userSpaceOnUse" x1="151.4" y1="106.8" x2="149.1" y2="85.8"><stop offset="0" stop-color="#7dbe08"/><stop offset="0.167" stop-color="#85be03"/><stop offset="0.333" stop-color="#91bd00"/><stop offset="0.5" stop-color="#a5ba00"/><stop offset="0.667" stop-color="#b4b600"/><stop offset="0.833" stop-color="#c1b400"/><stop offset="1" stop-color="#d0b200"/></linearGradient>
<linearGradient id="g412" gradientUnits="userSpaceOnUse" x1="136.7" y1="104.9" x2="137.1" y2="83.4"><stop offset="0" stop-color="#80be06"/><stop offset="0.167" stop-color="#89be01"/><stop offset="0.333" stop-color="#9abc00"/><stop offset="0.5" stop-color="#adb800"/><stop offset="0.667" stop-color="#bab500"/><stop offset="0.833" stop-color="#c7b400"/><stop offset="1" stop-color="#d8b100"/></linearGradient>
<linearGradient id="g413" gradientUnits="userSpaceOnUse" x1="259.2" y1="134.7" x2="272.1" y2="121.6"><stop offset="0" stop-color="#4eb977"/><stop offset="0.167" stop-color="#4fbd71"/><stop offset="0.333" stop-color="#53be67"/><stop offset="0.5" stop-color="#5abe5b"/><stop offset="0.667" stop-color="#60be45"/><stop offset="0.833" stop-color="#66be35"/><stop offset="1" stop-color="#6ebe23"/></linearGradient>
<linearGradient id="g414" gradientUnits="userSpaceOnUse" x1="172.2" y1="131.7" x2="164.0" y2="117.2"><stop offset="0" stop-color="#4db77a"/><stop offset="0.25" stop-color="#4fbc72"/><stop offset="0.5" stop-color="#53be67"/><stop offset="0.75" stop-color="#5bbe57"/><stop offset="1" stop-color="#62be3d"/></linearGradient>
<linearGradient id="g415" gradientUnits="userSpaceOnUse" x1="151.4" y1="106.8" x2="152.2" y2="85.4"><stop offset="0" stop-color="#7dbe08"/><stop offset="0.167" stop-color="#85be03"/><stop offset="0.333" stop-color="#91bd00"/><stop offset="0.5" stop-color="#a5ba00"/><stop offset="0.667" stop-color="#b4b600"/><stop offset="0.833" stop-color="#c1b400"/><stop offset="1" stop-color="#d0b200"/></linearGradient>
<linearGradient id="g416" gradientUnits="userSpaceOnUse" x1="214.8" y1="165.3" x2="215.5" y2="153.8"><stop offset="0" stop-color="#3362ab"/><stop offset="0.5" stop-color="#3671ae"/><stop offset="1" stop-color="#3a7cac"/></linearGradient>
<linearGradient id="g417" gradientUnits="userSpaceOnUse" x1="107.1" y1="112.6" x2="112.4" y2="99.9"><stop offset="0" stop-color="#64be37"/><stop offset="0.333" stop-color="#6dbe27"/><stop offset="0.667" stop-color="#78be0a"/><stop offset="1" stop-color="#82be05"/></linearGradient>
<linearGradient id="g418" gradientUnits="userSpaceOnUse" x1="244.5" y1="160.4" x2="252.6" y2="147.9"><stop offset="0" stop-color="#3a7cac"/><stop offset="0.25" stop-color="#3c84a8"/><stop offset="0.5" stop-color="#3e8ea0"/><stop offset="0.75" stop-color="#419b96"/><stop offset="1" stop-color="#44a190"/></linearGradient>
<linearGradient id="g419" gradientUnits="userSpaceOnUse" x1="214.8" y1="165.3" x2="213.4" y2="153.8"><stop offset="0" stop-color="#3362ab"/><stop offset="0.5" stop-color="#3671ae"/><stop offset="1" stop-color="#3a7cac"/></linearGradient>
<linearGradient id="g420" gradientUnits="userSpaceOnUse" x1="113.6" y1="115.1" x2="116.4" y2="101.3"><stop offset="0" stop-color="#65be36"/><stop offset="0.333" stop-color="#6dbe26"/><stop offset="0.667" stop-color="#78be0a"/><stop offset="1" stop-color="#82be05"/></linearGradient>
<linearGradient id="g421" gradientUnits="userSpaceOnUse" x1="186.2" y1="142.5" x2="181.4" y2="131.0"><stop offset="0" stop-color="#43a091"/><stop offset="0.333" stop-color="#46a68b"/><stop offset="0.667" stop-color="#47ac85"/><stop offset="1" stop-color="#4ab27f"/></linearGradient>
<linearGradient id="g422" gradientUnits="userSpaceOnUse" x1="200.3" y1="162.4" x2="199.0" y2="150.6"><stop offset="0" stop-color="#366eae"/><stop offset="0.5" stop-color="#397aad"/><stop offset="1" stop-color="#3c84a8"/></linearGradient>
<linearGradient id="g423" gradientUnits="userSpaceOnUse" x1="268.5" y1="126.5" x2="281.9" y2="112.8"><stop offset="0" stop-color="#60be44"/><stop offset="0.167" stop-color="#67be34"/><stop offset="0.333" stop-color="#70be20"/><stop offset="0.5" stop-color="#79be09"/><stop offset="0.667" stop-color="#82be05"/><stop offset="0.833" stop-color="#8bbe01"/><stop offset="1" stop-color="#9dbb00"/></linearGradient>
<linearGradient id="g424" gradientUnits="userSpaceOnUse" x1="284.2" y1="88.4" x2="295.7" y2="74.7"><stop offset="0" stop-color="#f5a500"/><stop offset="0.2" stop-color="#e89500"/><stop offset="0.4" stop-color="#dd8400"/><stop offset="0.6" stop-color="#d27203"/><stop offset="0.8" stop-color="#c65b05"/><stop offset="1" stop-color="#ba4a05"/></linearGradient>
<linearGradient id="g425" gradientUnits="userSpaceOnUse" x1="200.3" y1="162.4" x2="197.1" y2="151.4"><stop offset="0" stop-color="#366eae"/><stop offset="0.5" stop-color="#397aad"/><stop offset="1" stop-color="#3c84a8"/></linearGradient>
<linearGradient id="g426" gradientUnits="userSpaceOnUse" x1="179.0" y1="143.9" x2="172.4" y2="131.6"><stop offset="0" stop-color="#44a28f"/><stop offset="0.333" stop-color="#46a988"/><stop offset="0.667" stop-color="#49b081"/><stop offset="1" stop-color="#4db77a"/></linearGradient>
<linearGradient id="g427" gradientUnits="userSpaceOnUse" x1="251.9" y1="147.4" x2="262.5" y2="138.6"><stop offset="0" stop-color="#44a190"/><stop offset="0.25" stop-color="#46a78a"/><stop offset="0.5" stop-color="#48ad84"/><stop offset="0.75" stop-color="#4bb47d"/><stop offset="1" stop-color="#4eb977"/></linearGradient>
<linearGradient id="g428" gradientUnits="userSpaceOnUse" x1="158.0" y1="119.7" x2="154.4" y2="101.9"><stop offset="0" stop-color="#5fbe49"/><stop offset="0.2" stop-color="#66be35"/><stop offset="0.4" stop-color="#6ebe26"/><stop offset="0.6" stop-color="#78be0b"/><stop offset="0.8" stop-color="#80be06"/><stop offset="1" stop-color="#89be01"/></linearGradient>
<linearGradient id="g429" gradientUnits="userSpaceOnUse" x1="128.6" y1="113.0" x2="130.6" y2="97.0"><stop offset="0" stop-color="#6cbe2a"/><stop offset="0.25" stop-color="#76be0f"/><stop offset="0.5" stop-color="#7fbe06"/><stop offset="0.75" stop-color="#88be02"/><stop offset="1" stop-color="#98bc00"/></linearGradient>
<linearGradient id="g430" gradientUnits="userSpaceOnUse" x1="294.2" y1="78.0" x2="304.7" y2="64.8"><stop offset="0" stop-color="#c55a05"/><stop offset="0.2" stop-color="#bb4b05"/><stop offset="0.4" stop-color="#b33e05"/><stop offset="0.6" stop-color="#ac3105"/><stop offset="0.8" stop-color="#a92a05"/><stop offset="1" stop-color="#a62605"/></linearGradient>
<linearGradient id="g431" gradientUnits="userSpaceOnUse" x1="128.6" y1="113.0" x2="129.5" y2="96.9"><stop offset="0" stop-color="#6cbe2a"/><stop offset="0.25" stop-color="#76be0f"/><stop offset="0.5" stop-color="#7fbe06"/><stop offset="0.75" stop-color="#88be02"/><stop offset="1" stop-color="#98bc00"/></linearGradient>
<linearGradient id="g432" gradientUnits="userSpaceOnUse" x1="158.0" y1="119.7" x2="156.7" y2="101.1"><stop offset="0" stop-color="#5fbe49"/><stop offset="0.2" stop-color="#66be35"/><stop offset="0.4" stop-color="#6ebe26"/><stop offset="0.6" stop-color="#78be0b"/><stop offset="0.8" stop-color="#80be06"/><stop offset="1" stop-color="#89be01"/></linearGradient>
<linearGradient id="g433" gradientUnits="userSpaceOnUse" x1="143.4" y1="112.9" x2="145.5" y2="95.1"><stop offset="0" stop-color="#6fbe23"/><stop offset="0.2" stop-color="#78be0a"/><stop offset="0.4" stop-color="#80be06"/><stop offset="0.6" stop-color="#89be02"/><stop offset="0.8" stop-color="#97bc00"/><stop offset="1" stop-color="#aab900"/></linearGradient>
<linearGradient id="g434" gradientUnits="userSpaceOnUse" x1="143.4" y1="112.9" x2="142.1" y2="95.3"><stop offset="0" stop-color="#6fbe23"/><stop offset="0.2" stop-color="#78be0a"/><stop offset="0.4" stop-color="#80be06"/><stop offset="0.6" stop-color="#89be02"/><stop offset="0.8" stop-color="#97bc00"/><stop offset="1" stop-color="#aab900"/></linearGradient>
<linearGradient id="g435" gradientUnits="userSpaceOnUse" x1="260.9" y1="142.9" x2="273.7" y2="133.6"><stop offset="0" stop-color="#4bb37e"/><stop offset="0.2" stop-color="#4eb978"/><stop offset="0.4" stop-color="#4fbc71"/><stop offset="0.6" stop-color="#53be67"/><stop offset="0.8" stop-color="#5abe5a"/><stop offset="1" stop-color="#60be44"/></linearGradient>
<linearGradient id="g436" gradientUnits="userSpaceOnUse" x1="185.9" y1="156.2" x2="182.0" y2="143.8"><stop offset="0" stop-color="#3c82aa"/><stop offset="0.333" stop-color="#3d8aa2"/><stop offset="0.667" stop-color="#409799"/><stop offset="1" stop-color="#43a091"/></linearGradient>
<linearGradient id="g437" gradientUnits="userSpaceOnUse" x1="237.6" y1="167.4" x2="240.8" y2="158.6"><stop offset="0" stop-color="#356bad"/><stop offset="0.5" stop-color="#3875ae"/><stop offset="1" stop-color="#3a7dac"/></linearGradient>
<linearGradient id="g438" gradientUnits="userSpaceOnUse" x1="237.6" y1="167.4" x2="240.3" y2="158.2"><stop offset="0" stop-color="#356bad"/><stop offset="0.5" stop-color="#3875ae"/><stop offset="1" stop-color="#3a7dac"/></linearGradient>
<linearGradient id="g439" gradientUnits="userSpaceOnUse" x1="222.6" y1="169.9" x2="225.3" y2="160.5"><stop offset="0" stop-color="#315eaa"/><stop offset="0.5" stop-color="#3467ac"/><stop offset="1" stop-color="#3772af"/></linearGradient>
<linearGradient id="g440" gradientUnits="userSpaceOnUse" x1="222.6" y1="169.9" x2="224.7" y2="160.1"><stop offset="0" stop-color="#315eaa"/><stop offset="0.5" stop-color="#3467ac"/><stop offset="1" stop-color="#3772af"/></linearGradient>
<linearGradient id="g441" gradientUnits="userSpaceOnUse" x1="172.2" y1="131.7" x2="166.5" y2="115.9"><stop offset="0" stop-color="#4db77a"/><stop offset="0.25" stop-color="#4fbc72"/><stop offset="0.5" stop-color="#53be67"/><stop offset="0.75" stop-color="#5bbe57"/><stop offset="1" stop-color="#62be3d"/></linearGradient>
<linearGradient id="g442" gradientUnits="userSpaceOnUse" x1="276.4" y1="107.4" x2="288.6" y2="92.0"><stop offset="0" stop-color="#9dbb00"/><stop offset="0.167" stop-color="#afb800"/><stop offset="0.333" stop-color="#bcb500"/><stop offset="0.5" stop-color="#c9b400"/><stop offset="0.667" stop-color="#dab000"/><stop offset="0.833" stop-color="#e8ab00"/><stop offset="1" stop-color="#f5a500"/></linearGradient>
<linearGradient id="g443" gradientUnits="userSpaceOnUse" x1="207.6" y1="171.6" x2="207.5" y2="157.9"><stop offset="0" stop-color="#2d57a7"/><stop offset="0.333" stop-color="#325faa"/><stop offset="0.667" stop-color="#356aad"/><stop offset="1" stop-color="#3876ae"/></linearGradient>
<linearGradient id="g444" gradientUnits="userSpaceOnUse" x1="185.9" y1="156.2" x2="180.6" y2="143.2"><stop offset="0" stop-color="#3c82aa"/><stop offset="0.333" stop-color="#3d8ca1"/><stop offset="0.667" stop-color="#419a96"/><stop offset="1" stop-color="#44a28f"/></linearGradient>
<linearGradient id="g445" gradientUnits="userSpaceOnUse" x1="244.5" y1="160.4" x2="253.2" y2="148.4"><stop offset="0" stop-color="#3a7cac"/><stop offset="0.25" stop-color="#3c84a8"/><stop offset="0.5" stop-color="#3e8ea0"/><stop offset="0.75" stop-color="#419b96"/><stop offset="1" stop-color="#44a190"/></linearGradient>
<linearGradient id="g446" gradientUnits="userSpaceOnUse" x1="207.6" y1="171.6" x2="205.5" y2="158.1"><stop offset="0" stop-color="#2d57a7"/><stop offset="0.333" stop-color="#325faa"/><stop offset="0.667" stop-color="#356aad"/><stop offset="1" stop-color="#3876ae"/></linearGradient>
<linearGradient id="g447" gradientUnits="userSpaceOnUse" x1="120.2" y1="121.4" x2="122.8" y2="106.1"><stop offset="0" stop-color="#5dbe51"/><stop offset="0.25" stop-color="#63be3c"/><stop offset="0.5" stop-color="#69be32"/><stop offset="0.75" stop-color="#72be1a"/><stop offset="1" stop-color="#7bbe08"/></linearGradient>
<linearGradient id="g448" gradientUnits="userSpaceOnUse" x1="164.7" y1="132.6" x2="161.8" y2="117.0"><stop offset="0" stop-color="#4eba77"/><stop offset="0.25" stop-color="#50bd70"/><stop offset="0.5" stop-color="#55be64"/><stop offset="0.75" stop-color="#5bbe55"/><stop offset="1" stop-color="#62be3d"/></linearGradient>
<linearGradient id="g449" gradientUnits="userSpaceOnUse" x1="286.3" y1="97.9" x2="299.0" y2="81.8"><stop offset="0" stop-color="#dcb000"/><stop offset="0.167" stop-color="#eaaa00"/><stop offset="0.333" stop-color="#f2a200"/><stop offset="0.5" stop-color="#e69300"/><stop offset="0.667" stop-color="#dc8200"/><stop offset="0.833" stop-color="#d27103"/><stop offset="1" stop-color="#c55a05"/></linearGradient>
<linearGradient id="g450" gradientUnits="userSpaceOnUse" x1="120.2" y1="121.4" x2="121.6" y2="105.9"><stop offset="0" stop-color="#5dbe51"/><stop offset="0.25" stop-color="#63be3c"/><stop offset="0.5" stop-color="#69be32"/><stop offset="0.75" stop-color="#72be1a"/><stop offset="1" stop-color="#7bbe08"/></linearGradient>
<linearGradient id="g451" gradientUnits="userSpaceOnUse" x1="253.2" y1="159.4" x2="264.9" y2="146.6"><stop offset="0" stop-color="#3c89a4"/><stop offset="0.2" stop-color="#40969a"/><stop offset="0.4" stop-color="#439f92"/><stop offset="0.6" stop-color="#46a68b"/><stop offset="0.8" stop-color="#47ac85"/><stop offset="1" stop-color="#4bb37e"/></linearGradient>
<linearGradient id="g452" gradientUnits="userSpaceOnUse" x1="193.0" y1="167.0" x2="190.8" y2="153.7"><stop offset="0" stop-color="#3364ab"/><stop offset="0.333" stop-color="#3671ae"/><stop offset="0.667" stop-color="#3a7bac"/><stop offset="1" stop-color="#3c83a9"/></linearGradient>
<linearGradient id="g453" gradientUnits="userSpaceOnUse" x1="179.0" y1="143.9" x2="173.6" y2="131.1"><stop offset="0" stop-color="#44a28f"/><stop offset="0.333" stop-color="#46a988"/><stop offset="0.667" stop-color="#49b081"/><stop offset="1" stop-color="#4db77a"/></linearGradient>
<linearGradient id="g454" gradientUnits="userSpaceOnUse" x1="150.2" y1="123.1" x2="147.2" y2="107.6"><stop offset="0" stop-color="#5cbe54"/><stop offset="0.25" stop-color="#62be3d"/><stop offset="0.5" stop-color="#69be32"/><stop offset="0.75" stop-color="#73be17"/><stop offset="1" stop-color="#7dbe08"/></linearGradient>
<linearGradient id="g455" gradientUnits="userSpaceOnUse" x1="135.3" y1="120.3" x2="137.0" y2="104.9"><stop offset="0" stop-color="#61be43"/><stop offset="0.25" stop-color="#67be34"/><stop offset="0.5" stop-color="#6fbe22"/><stop offset="0.75" stop-color="#78be0a"/><stop offset="1" stop-color="#80be06"/></linearGradient>
<linearGradient id="g456" gradientUnits="userSpaceOnUse" x1="268.5" y1="126.5" x2="281.3" y2="111.6"><stop offset="0" stop-color="#60be44"/><stop offset="0.167" stop-color="#67be34"/><stop offset="0.333" stop-color="#70be20"/><stop offset="0.5" stop-color="#79be09"/><stop offset="0.667" stop-color="#82be05"/><stop offset="0.833" stop-color="#8bbe01"/><stop offset="1" stop-color="#9dbb00"/></linearGradient>
<linearGradient id="g457" gradientUnits="userSpaceOnUse" x1="135.3" y1="120.3" x2="135.8" y2="104.8"><stop offset="0" stop-color="#61be43"/><stop offset="0.25" stop-color="#67be34"/><stop offset="0.5" stop-color="#6fbe22"/><stop offset="0.75" stop-color="#78be0a"/><stop offset="1" stop-color="#80be06"/></linearGradient>
<linearGradient id="g458" gradientUnits="userSpaceOnUse" x1="193.0" y1="167.0" x2="189.2" y2="154.5"><stop offset="0" stop-color="#3364ab"/><stop offset="0.333" stop-color="#3671ae"/><stop offset="0.667" stop-color="#3a7bac"/><stop offset="1" stop-color="#3c83a9"/></linearGradient>
<linearGradient id="g459" gradientUnits="userSpaceOnUse" x1="150.2" y1="123.1" x2="149.7" y2="106.9"><stop offset="0" stop-color="#5cbe54"/><stop offset="0.25" stop-color="#62be3d"/><stop offset="0.5" stop-color="#69be32"/><stop offset="0.75" stop-color="#73be17"/><stop offset="1" stop-color="#7dbe08"/></linearGradient>
<linearGradient id="g460" gradientUnits="userSpaceOnUse" x1="171.6" y1="145.1" x2="166.4" y2="132.0"><stop offset="0" stop-color="#46a58c"/><stop offset="0.333" stop-color="#47ac85"/><stop offset="0.667" stop-color="#4bb37e"/><stop offset="1" stop-color="#4eba77"/></linearGradient>
<linearGradient id="g461" gradientUnits="userSpaceOnUse" x1="230.5" y1="174.5" x2="233.5" y2="164.6"><stop offset="0" stop-color="#2e5ba8"/><stop offset="0.5" stop-color="#3363ab"/><stop offset="1" stop-color="#366eae"/></linearGradient>
<linearGradient id="g462" gradientUnits="userSpaceOnUse" x1="230.5" y1="174.5" x2="233.0" y2="164.2"><stop offset="0" stop-color="#2e5ba8"/><stop offset="0.5" stop-color="#3363ab"/><stop offset="1" stop-color="#366eae"/></linearGradient>
<linearGradient id="g463" gradientUnits="userSpaceOnUse" x1="278.3" y1="118.0" x2="291.5" y2="102.4"><stop offset="0" stop-color="#81be05"/><stop offset="0.167" stop-color="#8abe01"/><stop offset="0.333" stop-color="#9dbb00"/><stop offset="0.5" stop-color="#afb800"/><stop offset="0.667" stop-color="#bdb400"/><stop offset="0.833" stop-color="#cbb300"/><stop offset="1" stop-color="#dcb000"/></linearGradient>
<linearGradient id="g464" gradientUnits="userSpaceOnUse" x1="215.3" y1="177.2" x2="218.1" y2="166.2"><stop offset="0" stop-color="#2d4ca6"/><stop offset="0.5" stop-color="#2d5aa8"/><stop offset="1" stop-color="#3362ab"/></linearGradient>
<linearGradient id="g465" gradientUnits="userSpaceOnUse" x1="237.6" y1="167.4" x2="244.8" y2="160.6"><stop offset="0" stop-color="#356bad"/><stop offset="0.5" stop-color="#3875ae"/><stop offset="1" stop-color="#3a7cac"/></linearGradient>
<linearGradient id="g466" gradientUnits="userSpaceOnUse" x1="215.3" y1="177.2" x2="216.9" y2="165.6"><stop offset="0" stop-color="#2d4ca6"/><stop offset="0.5" stop-color="#2d5aa8"/><stop offset="1" stop-color="#3362ab"/></linearGradient>
<linearGradient id="g467" gradientUnits="userSpaceOnUse" x1="246.1" y1="168.2" x2="254.9" y2="161.7"><stop offset="0" stop-color="#3876ae"/><stop offset="0.5" stop-color="#3b80ab"/><stop offset="1" stop-color="#3c89a4"/></linearGradient>
<linearGradient id="g468" gradientUnits="userSpaceOnUse" x1="260.9" y1="142.9" x2="271.9" y2="129.2"><stop offset="0" stop-color="#4bb37e"/><stop offset="0.2" stop-color="#4eb978"/><stop offset="0.4" stop-color="#4fbc71"/><stop offset="0.6" stop-color="#53be67"/><stop offset="0.8" stop-color="#5abe5a"/><stop offset="1" stop-color="#60be44"/></linearGradient>
<linearGradient id="g469" gradientUnits="userSpaceOnUse" x1="200.2" y1="178.0" x2="199.1" y2="162.5"><stop offset="0" stop-color="#2d46a5"/><stop offset="0.333" stop-color="#2d55a7"/><stop offset="0.667" stop-color="#325faa"/><stop offset="1" stop-color="#366eae"/></linearGradient>
<linearGradient id="g470" gradientUnits="userSpaceOnUse" x1="185.9" y1="156.2" x2="180.2" y2="143.3"><stop offset="0" stop-color="#3c82aa"/><stop offset="0.333" stop-color="#3d8ca1"/><stop offset="0.667" stop-color="#419a96"/><stop offset="1" stop-color="#44a28f"/></linearGradient>
<linearGradient id="g471" gradientUnits="userSpaceOnUse" x1="200.2" y1="178.0" x2="197.3" y2="162.9"><stop offset="0" stop-color="#2d46a5"/><stop offset="0.333" stop-color="#2d55a7"/><stop offset="0.667" stop-color="#325faa"/><stop offset="1" stop-color="#366eae"/></linearGradient>
<linearGradient id="g472" gradientUnits="userSpaceOnUse" x1="164.7" y1="132.6" x2="159.6" y2="119.1"><stop offset="0" stop-color="#4eba77"/><stop offset="0.25" stop-color="#4fbd71"/><stop offset="0.5" stop-color="#53be68"/><stop offset="0.75" stop-color="#59be5c"/><stop offset="1" stop-color="#5fbe49"/></linearGradient>
<linearGradient id="g473" gradientUnits="userSpaceOnUse" x1="127.0" y1="127.8" x2="129.1" y2="113.1"><stop offset="0" stop-color="#54be65"/><stop offset="0.333" stop-color="#5cbe53"/><stop offset="0.667" stop-color="#63be39"/><stop offset="1" stop-color="#6cbe2a"/></linearGradient>
<linearGradient id="g474" gradientUnits="userSpaceOnUse" x1="178.5" y1="157.6" x2="172.9" y2="144.5"><stop offset="0" stop-color="#3c85a7"/><stop offset="0.333" stop-color="#3f919d"/><stop offset="0.667" stop-color="#429d94"/><stop offset="1" stop-color="#46a58c"/></linearGradient>
<linearGradient id="g475" gradientUnits="userSpaceOnUse" x1="270.2" y1="138.1" x2="283.9" y2="123.1"><stop offset="0" stop-color="#51be6b"/><stop offset="0.167" stop-color="#58be5e"/><stop offset="0.333" stop-color="#5fbe49"/><stop offset="0.5" stop-color="#66be35"/><stop offset="0.667" stop-color="#6ebe24"/><stop offset="0.833" stop-color="#78be0a"/><stop offset="1" stop-color="#81be05"/></linearGradient>
<linearGradient id="g476" gradientUnits="userSpaceOnUse" x1="157.1" y1="133.6" x2="154.9" y2="120.2"><stop offset="0" stop-color="#4fbb74"/><stop offset="0.333" stop-color="#51be6c"/><stop offset="0.667" stop-color="#58be5e"/><stop offset="1" stop-color="#5fbe49"/></linearGradient>
<linearGradient id="g477" gradientUnits="userSpaceOnUse" x1="127.0" y1="127.8" x2="127.9" y2="113.0"><stop offset="0" stop-color="#54be65"/><stop offset="0.333" stop-color="#5cbe53"/><stop offset="0.667" stop-color="#63be39"/><stop offset="1" stop-color="#6cbe2a"/></linearGradient>
<linearGradient id="g478" gradientUnits="userSpaceOnUse" x1="253.2" y1="159.4" x2="262.5" y2="143.8"><stop offset="0" stop-color="#3c89a4"/><stop offset="0.2" stop-color="#40969a"/><stop offset="0.4" stop-color="#439f92"/><stop offset="0.6" stop-color="#46a68b"/><stop offset="0.8" stop-color="#47ac85"/><stop offset="1" stop-color="#4bb37e"/></linearGradient>
<linearGradient id="g479" gradientUnits="userSpaceOnUse" x1="142.1" y1="129.1" x2="141.0" y2="113.0"><stop offset="0" stop-color="#53be68"/><stop offset="0.25" stop-color="#59be5b"/><stop offset="0.5" stop-color="#60be45"/><stop offset="0.75" stop-color="#66be35"/><stop offset="1" stop-color="#6fbe23"/></linearGradient>
<linearGradient id="g480" gradientUnits="userSpaceOnUse" x1="142.1" y1="129.1" x2="142.7" y2="112.9"><stop offset="0" stop-color="#53be68"/><stop offset="0.25" stop-color="#59be5b"/><stop offset="0.5" stop-color="#60be45"/><stop offset="0.75" stop-color="#66be35"/><stop offset="1" stop-color="#6fbe23"/></linearGradient>
<linearGradient id="g481" gradientUnits="userSpaceOnUse" x1="185.5" y1="170.8" x2="181.8" y2="157.3"><stop offset="0" stop-color="#325faa"/><stop offset="0.333" stop-color="#356dad"/><stop offset="0.667" stop-color="#3978ad"/><stop offset="1" stop-color="#3c82aa"/></linearGradient>
<linearGradient id="g482" gradientUnits="userSpaceOnUse" x1="262.0" y1="158.4" x2="274.4" y2="141.2"><stop offset="0" stop-color="#419c95"/><stop offset="0.167" stop-color="#45a38e"/><stop offset="0.333" stop-color="#46a988"/><stop offset="0.5" stop-color="#49b081"/><stop offset="0.667" stop-color="#4db77a"/><stop offset="0.833" stop-color="#4fbb73"/><stop offset="1" stop-color="#51be6b"/></linearGradient>
<linearGradient id="g483" gradientUnits="userSpaceOnUse" x1="171.6" y1="145.1" x2="166.2" y2="132.0"><stop offset="0" stop-color="#46a58c"/><stop offset="0.333" stop-color="#47ac85"/><stop offset="0.667" stop-color="#4bb37e"/><stop offset="1" stop-color="#4eba77"/></linearGradient>
<linearGradient id="g484" gradientUnits="userSpaceOnUse" x1="185.5" y1="170.8" x2="179.5" y2="157.2"><stop offset="0" stop-color="#325faa"/><stop offset="0.333" stop-color="#366fae"/><stop offset="0.667" stop-color="#3a7bac"/><stop offset="1" stop-color="#3c85a7"/></linearGradient>
<linearGradient id="g485" gradientUnits="userSpaceOnUse" x1="223.1" y1="183.0" x2="225.5" y2="170.4"><stop offset="0" stop-color="#2c42a4"/><stop offset="0.333" stop-color="#2d4ca6"/><stop offset="0.667" stop-color="#2d57a8"/><stop offset="1" stop-color="#315eaa"/></linearGradient>
<linearGradient id="g486" gradientUnits="userSpaceOnUse" x1="223.1" y1="183.0" x2="226.5" y2="171.0"><stop offset="0" stop-color="#2c42a4"/><stop offset="0.333" stop-color="#2d4ca6"/><stop offset="0.667" stop-color="#2d57a8"/><stop offset="1" stop-color="#315eaa"/></linearGradient>
<linearGradient id="g487" gradientUnits="userSpaceOnUse" x1="207.8" y1="184.8" x2="210.0" y2="172.0"><stop offset="0" stop-color="#2937a1"/><stop offset="0.333" stop-color="#2c41a4"/><stop offset="0.667" stop-color="#2d4ca6"/><stop offset="1" stop-color="#2d57a7"/></linearGradient>
<linearGradient id="g488" gradientUnits="userSpaceOnUse" x1="230.5" y1="174.5" x2="235.2" y2="166.1"><stop offset="0" stop-color="#2e5ba8"/><stop offset="0.5" stop-color="#3261aa"/><stop offset="1" stop-color="#356bad"/></linearGradient>
<linearGradient id="g489" gradientUnits="userSpaceOnUse" x1="207.8" y1="184.8" x2="208.8" y2="171.7"><stop offset="0" stop-color="#2937a1"/><stop offset="0.333" stop-color="#2c41a4"/><stop offset="0.667" stop-color="#2d4ca6"/><stop offset="1" stop-color="#2d57a7"/></linearGradient>
<linearGradient id="g490" gradientUnits="userSpaceOnUse" x1="238.8" y1="177.2" x2="246.1" y2="168.3"><stop offset="0" stop-color="#305da9"/><stop offset="0.5" stop-color="#3468ac"/><stop offset="1" stop-color="#3876ae"/></linearGradient>
<linearGradient id="g491" gradientUnits="userSpaceOnUse" x1="164.0" y1="146.3" x2="158.7" y2="132.9"><stop offset="0" stop-color="#46a78a"/><stop offset="0.333" stop-color="#48af82"/><stop offset="0.667" stop-color="#4cb67b"/><stop offset="1" stop-color="#4fbb74"/></linearGradient>
<linearGradient id="g492" gradientUnits="userSpaceOnUse" x1="192.6" y1="184.1" x2="190.2" y2="167.4"><stop offset="0" stop-color="#2937a1"/><stop offset="0.25" stop-color="#2c44a4"/><stop offset="0.5" stop-color="#2d50a7"/><stop offset="0.75" stop-color="#2e5ba9"/><stop offset="1" stop-color="#3364ab"/></linearGradient>
<linearGradient id="g493" gradientUnits="userSpaceOnUse" x1="246.1" y1="168.2" x2="252.9" y2="159.2"><stop offset="0" stop-color="#3876ae"/><stop offset="0.5" stop-color="#3b80ab"/><stop offset="1" stop-color="#3c89a4"/></linearGradient>
<linearGradient id="g494" gradientUnits="userSpaceOnUse" x1="254.7" y1="169.1" x2="263.5" y2="159.8"><stop offset="0" stop-color="#3b7eab"/><stop offset="0.333" stop-color="#3c86a6"/><stop offset="0.667" stop-color="#3e909e"/><stop offset="1" stop-color="#419c95"/></linearGradient>
<linearGradient id="g495" gradientUnits="userSpaceOnUse" x1="192.6" y1="184.1" x2="188.1" y2="168.4"><stop offset="0" stop-color="#2937a1"/><stop offset="0.25" stop-color="#2c44a4"/><stop offset="0.5" stop-color="#2d50a7"/><stop offset="0.75" stop-color="#2e5ba9"/><stop offset="1" stop-color="#3364ab"/></linearGradient>
<linearGradient id="g496" gradientUnits="userSpaceOnUse" x1="149.1" y1="138.2" x2="147.0" y2="123.6"><stop offset="0" stop-color="#4eb879"/><stop offset="0.333" stop-color="#4fbc71"/><stop offset="0.667" stop-color="#54be66"/><stop offset="1" stop-color="#5cbe54"/></linearGradient>
<linearGradient id="g497" gradientUnits="userSpaceOnUse" x1="133.8" y1="135.3" x2="135.1" y2="120.2"><stop offset="0" stop-color="#4fbb74"/><stop offset="0.333" stop-color="#52be6b"/><stop offset="0.667" stop-color="#59be5c"/><stop offset="1" stop-color="#61be43"/></linearGradient>
<linearGradient id="g498" gradientUnits="userSpaceOnUse" x1="178.5" y1="157.6" x2="172.8" y2="144.5"><stop offset="0" stop-color="#3c85a7"/><stop offset="0.333" stop-color="#3f919d"/><stop offset="0.667" stop-color="#429d94"/><stop offset="1" stop-color="#46a58c"/></linearGradient>
<linearGradient id="g499" gradientUnits="userSpaceOnUse" x1="149.1" y1="138.2" x2="148.8" y2="123.2"><stop offset="0" stop-color="#4eb879"/><stop offset="0.333" stop-color="#4fbc71"/><stop offset="0.667" stop-color="#54be66"/><stop offset="1" stop-color="#5cbe54"/></linearGradient>
<linearGradient id="g500" gradientUnits="userSpaceOnUse" x1="133.8" y1="135.3" x2="133.3" y2="120.3"><stop offset="0" stop-color="#4fbb74"/><stop offset="0.333" stop-color="#52be6b"/><stop offset="0.667" stop-color="#59be5c"/><stop offset="1" stop-color="#61be43"/></linearGradient>
<linearGradient id="g501" gradientUnits="userSpaceOnUse" x1="170.9" y1="159.2" x2="165.3" y2="145.7"><stop offset="0" stop-color="#3c88a5"/><stop offset="0.333" stop-color="#40969a"/><stop offset="0.667" stop-color="#43a091"/><stop offset="1" stop-color="#46a78a"/></linearGradient>
<linearGradient id="g502" gradientUnits="userSpaceOnUse" x1="215.6" y1="191.7" x2="218.5" y2="177.9"><stop offset="0" stop-color="#282da0"/><stop offset="0.333" stop-color="#2834a0"/><stop offset="0.667" stop-color="#2c40a4"/><stop offset="1" stop-color="#2d4ca6"/></linearGradient>
<linearGradient id="g503" gradientUnits="userSpaceOnUse" x1="215.6" y1="191.7" x2="217.4" y2="177.5"><stop offset="0" stop-color="#282da0"/><stop offset="0.333" stop-color="#2834a0"/><stop offset="0.667" stop-color="#2c40a4"/><stop offset="1" stop-color="#2d4ca6"/></linearGradient>
<linearGradient id="g504" gradientUnits="userSpaceOnUse" x1="200.2" y1="192.5" x2="201.7" y2="178.2"><stop offset="0" stop-color="#2a2ba2"/><stop offset="0.333" stop-color="#2830a0"/><stop offset="0.667" stop-color="#2a3aa2"/><stop offset="1" stop-color="#2d46a5"/></linearGradient>
<linearGradient id="g505" gradientUnits="userSpaceOnUse" x1="177.9" y1="174.6" x2="173.3" y2="159.2"><stop offset="0" stop-color="#305da9"/><stop offset="0.25" stop-color="#3467ac"/><stop offset="0.5" stop-color="#3773af"/><stop offset="0.75" stop-color="#3a7dac"/><stop offset="1" stop-color="#3c85a7"/></linearGradient>
<linearGradient id="g506" gradientUnits="userSpaceOnUse" x1="223.1" y1="183.0" x2="228.9" y2="173.5"><stop offset="0" stop-color="#2c42a4"/><stop offset="0.5" stop-color="#2d4fa6"/><stop offset="1" stop-color="#2e5ba8"/></linearGradient>
<linearGradient id="g507" gradientUnits="userSpaceOnUse" x1="200.2" y1="192.5" x2="199.7" y2="178.0"><stop offset="0" stop-color="#2a2ba2"/><stop offset="0.333" stop-color="#2830a0"/><stop offset="0.667" stop-color="#2a3aa2"/><stop offset="1" stop-color="#2d46a5"/></linearGradient>
<linearGradient id="g508" gradientUnits="userSpaceOnUse" x1="231.5" y1="185.5" x2="236.6" y2="176.0"><stop offset="0" stop-color="#2d47a5"/><stop offset="0.5" stop-color="#2d53a7"/><stop offset="1" stop-color="#305da9"/></linearGradient>
<linearGradient id="g509" gradientUnits="userSpaceOnUse" x1="238.8" y1="177.2" x2="243.9" y2="167.1"><stop offset="0" stop-color="#305da9"/><stop offset="0.5" stop-color="#3468ac"/><stop offset="1" stop-color="#3876ae"/></linearGradient>
<linearGradient id="g510" gradientUnits="userSpaceOnUse" x1="156.0" y1="151.4" x2="153.0" y2="134.3"><stop offset="0" stop-color="#44a190"/><stop offset="0.25" stop-color="#46a889"/><stop offset="0.5" stop-color="#49af82"/><stop offset="0.75" stop-color="#4db67b"/><stop offset="1" stop-color="#4fbb74"/></linearGradient>
<linearGradient id="g511" gradientUnits="userSpaceOnUse" x1="177.9" y1="174.6" x2="171.3" y2="159.0"><stop offset="0" stop-color="#305da9"/><stop offset="0.25" stop-color="#3468ac"/><stop offset="0.5" stop-color="#3875ae"/><stop offset="0.75" stop-color="#3b80ab"/><stop offset="1" stop-color="#3c88a5"/></linearGradient>
<linearGradient id="g512" gradientUnits="userSpaceOnUse" x1="247.3" y1="179.9" x2="254.7" y2="169.1"><stop offset="0" stop-color="#315eaa"/><stop offset="0.333" stop-color="#356aad"/><stop offset="0.667" stop-color="#3875ae"/><stop offset="1" stop-color="#3b7eab"/></linearGradient>
<linearGradient id="g513" gradientUnits="userSpaceOnUse" x1="184.9" y1="190.3" x2="181.3" y2="171.6"><stop offset="0" stop-color="#282da0"/><stop offset="0.25" stop-color="#2938a1"/><stop offset="0.5" stop-color="#2d47a5"/><stop offset="0.75" stop-color="#2d56a7"/><stop offset="1" stop-color="#325faa"/></linearGradient>
<linearGradient id="g514" gradientUnits="userSpaceOnUse" x1="156.0" y1="151.4" x2="153.2" y2="134.2"><stop offset="0" stop-color="#44a190"/><stop offset="0.25" stop-color="#46a889"/><stop offset="0.5" stop-color="#49af82"/><stop offset="0.75" stop-color="#4db67b"/><stop offset="1" stop-color="#4fbb74"/></linearGradient>
<linearGradient id="g515" gradientUnits="userSpaceOnUse" x1="140.8" y1="142.9" x2="139.3" y2="129.5"><stop offset="0" stop-color="#4bb37e"/><stop offset="0.333" stop-color="#4eb978"/><stop offset="0.667" stop-color="#4fbc71"/><stop offset="1" stop-color="#53be68"/></linearGradient>
<linearGradient id="g516" gradientUnits="userSpaceOnUse" x1="140.8" y1="142.9" x2="141.2" y2="129.1"><stop offset="0" stop-color="#4bb37e"/><stop offset="0.333" stop-color="#4eb978"/><stop offset="0.667" stop-color="#4fbc71"/><stop offset="1" stop-color="#53be68"/></linearGradient>
<linearGradient id="g517" gradientUnits="userSpaceOnUse" x1="184.9" y1="190.3" x2="179.5" y2="172.6"><stop offset="0" stop-color="#282da0"/><stop offset="0.25" stop-color="#2938a1"/><stop offset="0.5" stop-color="#2d47a5"/><stop offset="0.75" stop-color="#2d56a7"/><stop offset="1" stop-color="#325faa"/></linearGradient>
<linearGradient id="g518" gradientUnits="userSpaceOnUse" x1="163.0" y1="164.8" x2="159.9" y2="147.0"><stop offset="0" stop-color="#3b80ab"/><stop offset="0.25" stop-color="#3c89a4"/><stop offset="0.5" stop-color="#409799"/><stop offset="0.75" stop-color="#44a091"/><stop offset="1" stop-color="#46a78a"/></linearGradient>
<linearGradient id="g519" gradientUnits="userSpaceOnUse" x1="207.9" y1="201.0" x2="210.5" y2="185.2"><stop offset="0" stop-color="#2f2aa9"/><stop offset="0.333" stop-color="#2b2aa3"/><stop offset="0.667" stop-color="#282da0"/><stop offset="1" stop-color="#2937a1"/></linearGradient>
<linearGradient id="g520" gradientUnits="userSpaceOnUse" x1="207.9" y1="201.0" x2="208.6" y2="184.8"><stop offset="0" stop-color="#2f2aa9"/><stop offset="0.333" stop-color="#2b2aa3"/><stop offset="0.667" stop-color="#282da0"/><stop offset="1" stop-color="#2937a1"/></linearGradient>
<linearGradient id="g521" gradientUnits="userSpaceOnUse" x1="215.6" y1="191.7" x2="222.2" y2="182.4"><stop offset="0" stop-color="#282da0"/><stop offset="0.5" stop-color="#2935a1"/><stop offset="1" stop-color="#2c42a4"/></linearGradient>
<linearGradient id="g522" gradientUnits="userSpaceOnUse" x1="192.4" y1="200.3" x2="192.8" y2="184.1"><stop offset="0" stop-color="#2f2aa9"/><stop offset="0.333" stop-color="#2b2aa3"/><stop offset="0.667" stop-color="#282da0"/><stop offset="1" stop-color="#2937a1"/></linearGradient>
<linearGradient id="g523" gradientUnits="userSpaceOnUse" x1="163.0" y1="164.8" x2="160.0" y2="146.9"><stop offset="0" stop-color="#3b80ab"/><stop offset="0.25" stop-color="#3c89a4"/><stop offset="0.5" stop-color="#409799"/><stop offset="0.75" stop-color="#44a091"/><stop offset="1" stop-color="#46a78a"/></linearGradient>
<linearGradient id="g524" gradientUnits="userSpaceOnUse" x1="224.0" y1="193.9" x2="230.0" y2="184.5"><stop offset="0" stop-color="#2830a0"/><stop offset="0.5" stop-color="#2a3ba2"/><stop offset="1" stop-color="#2d47a5"/></linearGradient>
<linearGradient id="g525" gradientUnits="userSpaceOnUse" x1="192.4" y1="200.3" x2="190.9" y2="184.2"><stop offset="0" stop-color="#2f2aa9"/><stop offset="0.333" stop-color="#2b2aa3"/><stop offset="0.667" stop-color="#282da0"/><stop offset="1" stop-color="#2937a1"/></linearGradient>
<linearGradient id="g526" gradientUnits="userSpaceOnUse" x1="231.5" y1="185.5" x2="237.2" y2="176.2"><stop offset="0" stop-color="#2d47a5"/><stop offset="0.5" stop-color="#2d53a7"/><stop offset="1" stop-color="#305da9"/></linearGradient>
<linearGradient id="g527" gradientUnits="userSpaceOnUse" x1="170.0" y1="179.6" x2="165.1" y2="160.7"><stop offset="0" stop-color="#2d56a7"/><stop offset="0.2" stop-color="#325faa"/><stop offset="0.4" stop-color="#356bad"/><stop offset="0.6" stop-color="#3877ae"/><stop offset="0.8" stop-color="#3b80ab"/><stop offset="1" stop-color="#3c88a5"/></linearGradient>
<linearGradient id="g528" gradientUnits="userSpaceOnUse" x1="240.0" y1="188.0" x2="245.1" y2="178.7"><stop offset="0" stop-color="#2d4ca6"/><stop offset="0.5" stop-color="#2d58a8"/><stop offset="1" stop-color="#315eaa"/></linearGradient>
<linearGradient id="g529" gradientUnits="userSpaceOnUse" x1="147.8" y1="156.6" x2="144.6" y2="139.0"><stop offset="0" stop-color="#419c95"/><stop offset="0.25" stop-color="#45a38e"/><stop offset="0.5" stop-color="#46aa87"/><stop offset="0.75" stop-color="#4ab180"/><stop offset="1" stop-color="#4eb879"/></linearGradient>
<linearGradient id="g530" gradientUnits="userSpaceOnUse" x1="147.8" y1="156.6" x2="144.7" y2="138.9"><stop offset="0" stop-color="#419c95"/><stop offset="0.25" stop-color="#45a38e"/><stop offset="0.5" stop-color="#46aa87"/><stop offset="0.75" stop-color="#4ab180"/><stop offset="1" stop-color="#4eb879"/></linearGradient>
<linearGradient id="g531" gradientUnits="userSpaceOnUse" x1="170.0" y1="179.6" x2="166.4" y2="160.0"><stop offset="0" stop-color="#2d56a7"/><stop offset="0.2" stop-color="#325faa"/><stop offset="0.4" stop-color="#356bad"/><stop offset="0.6" stop-color="#3877ae"/><stop offset="0.8" stop-color="#3b80ab"/><stop offset="1" stop-color="#3c88a5"/></linearGradient>
<linearGradient id="g532" gradientUnits="userSpaceOnUse" x1="177.1" y1="194.6" x2="171.2" y2="176.8"><stop offset="0" stop-color="#292ca1"/><stop offset="0.25" stop-color="#2832a0"/><stop offset="0.5" stop-color="#2c41a4"/><stop offset="0.75" stop-color="#2d51a7"/><stop offset="1" stop-color="#305da9"/></linearGradient>
<linearGradient id="g533" gradientUnits="userSpaceOnUse" x1="200.0" y1="210.6" x2="201.5" y2="192.6"><stop offset="0" stop-color="#3833b7"/><stop offset="0.25" stop-color="#342fb1"/><stop offset="0.5" stop-color="#302bab"/><stop offset="0.75" stop-color="#2d28a5"/><stop offset="1" stop-color="#2a2ba2"/></linearGradient>
<linearGradient id="g534" gradientUnits="userSpaceOnUse" x1="200.0" y1="210.6" x2="199.7" y2="192.5"><stop offset="0" stop-color="#3833b7"/><stop offset="0.25" stop-color="#342fb1"/><stop offset="0.5" stop-color="#302bab"/><stop offset="0.75" stop-color="#2d28a5"/><stop offset="1" stop-color="#2a2ba2"/></linearGradient>
<linearGradient id="g535" gradientUnits="userSpaceOnUse" x1="207.9" y1="201.0" x2="214.5" y2="191.0"><stop offset="0" stop-color="#2f2aa9"/><stop offset="0.5" stop-color="#2c29a4"/><stop offset="1" stop-color="#282da0"/></linearGradient>
<linearGradient id="g536" gradientUnits="userSpaceOnUse" x1="177.1" y1="194.6" x2="172.6" y2="175.9"><stop offset="0" stop-color="#292ca1"/><stop offset="0.25" stop-color="#2832a0"/><stop offset="0.5" stop-color="#2c41a4"/><stop offset="0.75" stop-color="#2d51a7"/><stop offset="1" stop-color="#305da9"/></linearGradient>
<linearGradient id="g537" gradientUnits="userSpaceOnUse" x1="154.8" y1="170.5" x2="151.4" y2="152.2"><stop offset="0" stop-color="#3876ae"/><stop offset="0.25" stop-color="#3c81aa"/><stop offset="0.5" stop-color="#3d8ba2"/><stop offset="0.75" stop-color="#419997"/><stop offset="1" stop-color="#44a190"/></linearGradient>
<linearGradient id="g538" gradientUnits="userSpaceOnUse" x1="216.2" y1="203.7" x2="223.3" y2="193.4"><stop offset="0" stop-color="#2e29a6"/><stop offset="0.5" stop-color="#2a2ba2"/><stop offset="1" stop-color="#2830a0"/></linearGradient>
<linearGradient id="g539" gradientUnits="userSpaceOnUse" x1="154.8" y1="170.5" x2="151.6" y2="152.1"><stop offset="0" stop-color="#3876ae"/><stop offset="0.25" stop-color="#3c81aa"/><stop offset="0.5" stop-color="#3d8ba2"/><stop offset="0.75" stop-color="#419997"/><stop offset="1" stop-color="#44a190"/></linearGradient>
<linearGradient id="g540" gradientUnits="userSpaceOnUse" x1="184.7" y1="203.8" x2="180.0" y2="192.3"><stop offset="0" stop-color="#2f2aa9"/><stop offset="0.5" stop-color="#2b2aa3"/><stop offset="1" stop-color="#282da0"/></linearGradient>
<linearGradient id="g541" gradientUnits="userSpaceOnUse" x1="224.0" y1="193.9" x2="230.6" y2="184.8"><stop offset="0" stop-color="#2830a0"/><stop offset="0.5" stop-color="#2a3ba2"/><stop offset="1" stop-color="#2d47a5"/></linearGradient>
<linearGradient id="g542" gradientUnits="userSpaceOnUse" x1="184.7" y1="203.8" x2="181.7" y2="191.0"><stop offset="0" stop-color="#2f2aa9"/><stop offset="0.5" stop-color="#2b2aa3"/><stop offset="1" stop-color="#282da0"/></linearGradient>
<linearGradient id="g543" gradientUnits="userSpaceOnUse" x1="232.5" y1="196.2" x2="238.5" y2="187.0"><stop offset="0" stop-color="#2935a1"/><stop offset="0.5" stop-color="#2c41a4"/><stop offset="1" stop-color="#2d4ca6"/></linearGradient>
<linearGradient id="g544" gradientUnits="userSpaceOnUse" x1="161.9" y1="184.7" x2="157.2" y2="166.3"><stop offset="0" stop-color="#2d4da6"/><stop offset="0.25" stop-color="#2e5ba8"/><stop offset="0.5" stop-color="#3466ac"/><stop offset="0.75" stop-color="#3875ae"/><stop offset="1" stop-color="#3b80ab"/></linearGradient>
<linearGradient id="g545" gradientUnits="userSpaceOnUse" x1="161.9" y1="184.7" x2="158.5" y2="165.5"><stop offset="0" stop-color="#2d4da6"/><stop offset="0.25" stop-color="#2e5ba8"/><stop offset="0.5" stop-color="#3466ac"/><stop offset="0.75" stop-color="#3875ae"/><stop offset="1" stop-color="#3b80ab"/></linearGradient>
<linearGradient id="g546" gradientUnits="userSpaceOnUse" x1="200.0" y1="210.6" x2="206.6" y2="200.2"><stop offset="0" stop-color="#3833b7"/><stop offset="0.5" stop-color="#332eb0"/><stop offset="1" stop-color="#2f2aa9"/></linearGradient>
<linearGradient id="g547" gradientUnits="userSpaceOnUse" x1="169.1" y1="199.1" x2="163.4" y2="181.7"><stop offset="0" stop-color="#2b2aa3"/><stop offset="0.25" stop-color="#282fa0"/><stop offset="0.5" stop-color="#2a3aa2"/><stop offset="0.75" stop-color="#2d48a5"/><stop offset="1" stop-color="#2d56a7"/></linearGradient>
<linearGradient id="g548" gradientUnits="userSpaceOnUse" x1="200.0" y1="210.6" x2="193.3" y2="199.8"><stop offset="0" stop-color="#3833b7"/><stop offset="0.5" stop-color="#332eb0"/><stop offset="1" stop-color="#2f2aa9"/></linearGradient>
<linearGradient id="g549" gradientUnits="userSpaceOnUse" x1="208.3" y1="213.7" x2="215.3" y2="203.1"><stop offset="0" stop-color="#3732b5"/><stop offset="0.5" stop-color="#312cae"/><stop offset="1" stop-color="#2e29a6"/></linearGradient>
<linearGradient id="g550" gradientUnits="userSpaceOnUse" x1="192.4" y1="213.1" x2="187.9" y2="202.1"><stop offset="0" stop-color="#3732b5"/><stop offset="0.5" stop-color="#322daf"/><stop offset="1" stop-color="#2f2aa9"/></linearGradient>
<linearGradient id="g551" gradientUnits="userSpaceOnUse" x1="169.1" y1="199.1" x2="164.7" y2="180.8"><stop offset="0" stop-color="#2b2aa3"/><stop offset="0.25" stop-color="#282fa0"/><stop offset="0.5" stop-color="#2a3aa2"/><stop offset="0.75" stop-color="#2d48a5"/><stop offset="1" stop-color="#2d56a7"/></linearGradient>
<linearGradient id="g552" gradientUnits="userSpaceOnUse" x1="216.2" y1="203.7" x2="223.0" y2="193.3"><stop offset="0" stop-color="#2e29a6"/><stop offset="0.5" stop-color="#2a2ba2"/><stop offset="1" stop-color="#2830a0"/></linearGradient>
<linearGradient id="g553" gradientUnits="userSpaceOnUse" x1="224.7" y1="206.5" x2="231.9" y2="195.8"><stop offset="0" stop-color="#2c29a4"/><stop offset="0.333" stop-color="#2a2ba2"/><stop offset="0.667" stop-color="#282fa0"/><stop offset="1" stop-color="#2935a1"/></linearGradient>
<linearGradient id="g554" gradientUnits="userSpaceOnUse" x1="176.8" y1="207.4" x2="172.4" y2="196.6"><stop offset="0" stop-color="#2f2aaa"/><stop offset="0.5" stop-color="#2c29a4"/><stop offset="1" stop-color="#292ca1"/></linearGradient>
<linearGradient id="g555" gradientUnits="userSpaceOnUse" x1="176.8" y1="207.4" x2="174.2" y2="195.2"><stop offset="0" stop-color="#2f2aaa"/><stop offset="0.5" stop-color="#2c29a4"/><stop offset="1" stop-color="#292ca1"/></linearGradient>
<linearGradient id="g556" gradientUnits="userSpaceOnUse" x1="200.5" y1="220.1" x2="207.3" y2="212.8"><stop offset="0" stop-color="#3a35ba"/><stop offset="1" stop-color="#3732b5"/></linearGradient>
<linearGradient id="g557" gradientUnits="userSpaceOnUse" x1="200.5" y1="220.1" x2="193.0" y2="212.6"><stop offset="0" stop-color="#3a35ba"/><stop offset="1" stop-color="#3732b5"/></linearGradient>
<linearGradient id="g558" gradientUnits="userSpaceOnUse" x1="208.3" y1="213.7" x2="215.0" y2="203.0"><stop offset="0" stop-color="#3732b5"/><stop offset="0.5" stop-color="#312cae"/><stop offset="1" stop-color="#2e29a6"/></linearGradient>
<linearGradient id="g559" gradientUnits="userSpaceOnUse" x1="216.8" y1="217.0" x2="223.9" y2="206.0"><stop offset="0" stop-color="#3631b3"/><stop offset="0.333" stop-color="#312cae"/><stop offset="0.667" stop-color="#2f2aa9"/><stop offset="1" stop-color="#2c29a4"/></linearGradient>
<linearGradient id="g560" gradientUnits="userSpaceOnUse" x1="192.4" y1="213.1" x2="185.8" y2="203.1"><stop offset="0" stop-color="#3732b5"/><stop offset="0.5" stop-color="#322daf"/><stop offset="1" stop-color="#2f2aa9"/></linearGradient>
<linearGradient id="g561" gradientUnits="userSpaceOnUse" x1="184.6" y1="215.8" x2="180.5" y2="205.5"><stop offset="0" stop-color="#3631b3"/><stop offset="0.5" stop-color="#322dae"/><stop offset="1" stop-color="#2f2aa9"/></linearGradient>
<linearGradient id="g562" gradientUnits="userSpaceOnUse" x1="208.7" y1="227.2" x2="209.3" y2="213.8"><stop offset="0" stop-color="#3d37bf"/><stop offset="0.5" stop-color="#3a35ba"/><stop offset="1" stop-color="#3732b5"/></linearGradient>
<linearGradient id="g563" gradientUnits="userSpaceOnUse" x1="208.7" y1="227.2" x2="215.7" y2="216.3"><stop offset="0" stop-color="#3d37bf"/><stop offset="0.5" stop-color="#3a35b9"/><stop offset="1" stop-color="#3631b3"/></linearGradient>
<linearGradient id="g564" gradientUnits="userSpaceOnUse" x1="192.4" y1="226.6" x2="192.8" y2="213.2"><stop offset="0" stop-color="#3d37bf"/><stop offset="0.5" stop-color="#3a35ba"/><stop offset="1" stop-color="#3732b5"/></linearGradient>
<linearGradient id="g565" gradientUnits="userSpaceOnUse" x1="192.4" y1="226.6" x2="185.3" y2="215.3"><stop offset="0" stop-color="#3d37bf"/><stop offset="0.5" stop-color="#3a35b9"/><stop offset="1" stop-color="#3631b3"/></linearGradient>
<linearGradient id="g566" gradientUnits="userSpaceOnUse" x1="200.4" y1="237.6" x2="204.1" y2="220.9"><stop offset="0" stop-color="#463cd2"/><stop offset="0.333" stop-color="#423aca"/><stop offset="0.667" stop-color="#3d38c0"/><stop offset="1" stop-color="#3a35ba"/></linearGradient>
<linearGradient id="g567" gradientUnits="userSpaceOnUse" x1="200.4" y1="237.6" x2="197.7" y2="220.5"><stop offset="0" stop-color="#463cd2"/><stop offset="0.333" stop-color="#423aca"/><stop offset="0.667" stop-color="#3d38c0"/><stop offset="1" stop-color="#3a35ba"/></linearGradient></defs>
<g id="s"><path d="M196.9 85.2 196.5 82.2 202.4 83.9Z" fill="#52be6a" stroke="#52be6a"/>
<path d="M202.4 83.9L196.5 82.2" class="m"/>
<path d="M196.9 85.2 191.0 83.4 196.5 82.2Z" fill="#52be6a" stroke="#52be6a"/>
<path d="M191.0 83.4L196.5 82.2" class="m"/>
<path d="M202.8 87.0 202.4 83.9 208.3 85.7Z" fill="#52be6a" stroke="#52be6a"/>
<path d="M202.8 87.0L208.3 85.7M208.3 85.7L202.4 83.9" class="m"/>
<path d="M202.8 87.0 196.9 85.2 202.4 83.9Z" fill="#52be6a" stroke="#52be6a"/>
<path d="M191.3 86.4 191.0 83.4 196.9 85.2Z" fill="#52be6a" stroke="#52be6a"/>
<path d="M191.3 86.4 185.4 84.6 191.0 83.4Z" fill="#52be6a" stroke="#52be6a"/>
<path d="M185.4 84.6L191.0 83.4M191.3 86.4L185.4 84.6" class="m"/>
<path d="M208.9 88.8 208.3 85.7 214.3 87.5Z" fill="#52be6a" stroke="#52be6a"/>
<path d="M214.3 87.5L208.3 85.7" class="m"/>
<path d="M208.9 88.8 202.8 87.0 208.3 85.7Z" fill="#52be6a" stroke="#52be6a"/>
<path d="M202.8 87.0L208.3 85.7" class="m"/>
<path d="M197.2 88.2 196.9 85.2 202.8 87.0Z" fill="#52be6a" stroke="#52be6a"/>
<path d="M197.2 88.2L202.8 87.0" class="m"/>
<path d="M197.2 88.2 191.3 86.4 196.9 85.2Z" fill="#52be6a" stroke="#52be6a"/>
<path d="M197.2 88.2L191.3 86.4" class="m"/>
<path d="M185.5 87.6 185.4 84.6 191.3 86.4Z" fill="#52be6a" stroke="#52be6a"/>
<path d="M191.3 86.4L185.4 84.6" class="m"/>
<path d="M185.5 87.6 179.7 85.8 185.4 84.6Z" fill="#52be6a" stroke="#52be6a"/>
<path d="M179.7 85.8L185.4 84.6" class="m"/>
<path d="M215.0 90.7 214.3 87.5 220.5 89.4Z" fill="#52be6a" stroke="#52be6a"/>
<path d="M215.0 90.7L220.5 89.4M220.5 89.4L214.3 87.5" class="m"/>
<path d="M215.0 90.7 208.9 88.8 214.3 87.5Z" fill="#52be6a" stroke="#52be6a"/>
<path d="M203.3 90.1 202.8 87.0 208.9 88.8Z" fill="#52be6a" stroke="#52be6a"/>
<path d="M203.3 90.1 197.2 88.2 202.8 87.0Z" fill="#52be6a" stroke="#52be6a"/>
<path d="M197.2 88.2L202.8 87.0M203.3 90.1L197.2 88.2" class="m"/>
<path d="M191.5 89.5 191.3 86.4 197.2 88.2Z" fill="#52be6a" stroke="#52be6a"/>
<path d="M191.5 89.5L197.2 88.2M197.2 88.2L191.3 86.4" class="m"/>
<path d="M191.5 89.5 185.5 87.6 191.3 86.4Z" fill="#52be6a" stroke="#52be6a"/>
<path d="M179.7 88.9 179.7 85.8 185.5 87.6Z" fill="#52be6a" stroke="#52be6a"/>
<path d="M179.7 88.9 173.8 87.1 179.7 85.8Z" fill="#52be6a" stroke="#52be6a"/>
<path d="M173.8 87.1L179.7 85.8M179.7 88.9L173.8 87.1" class="m"/>
<path d="M221.3 92.7 220.5 89.4 226.8 91.4Z" fill="#52be6a" stroke="#52be6a"/>
<path d="M226.8 91.4L220.5 89.4" class="m"/>
<path d="M221.3 92.7 215.0 90.7 220.5 89.4Z" fill="#52be6a" stroke="#52be6a"/>
<path d="M215.0 90.7L220.5 89.4" class="m"/>
<path d="M209.5 92.0 208.9 88.8 215.0 90.7Z" fill="#52be6a" stroke="#52be6a"/>
<path d="M209.5 92.0L215.0 90.7" class="m"/>
<path d="M209.5 92.0 203.3 90.1 208.9 88.8Z" fill="#52be6a" stroke="#52be6a"/>
<path d="M209.5 92.0L203.3 90.1" class="m"/>
<path d="M197.6 91.4 197.2 88.2 203.3 90.1Z" fill="#52be6a" stroke="#52be6a"/>
<path d="M203.3 90.1L197.2 88.2" class="m"/>
<path d="M197.6 91.4 191.5 89.5 197.2 88.2Z" fill="#52be6a" stroke="#52be6a"/>
<path d="M191.5 89.5L197.2 88.2" class="m"/>
<path d="M185.7 90.8 185.5 87.6 191.5 89.5Z" fill="#52be6a" stroke="#52be6a"/>
<path d="M185.7 90.8L191.5 89.5" class="m"/>
<path d="M185.7 90.8 179.7 88.9 185.5 87.6Z" fill="#52be6a" stroke="#52be6a"/>
<path d="M185.7 90.8L179.7 88.9" class="m"/>
<path d="M173.7 90.2 173.8 87.1 179.7 88.9Z" fill="#52be6a" stroke="#52be6a"/>
<path d="M179.7 88.9L173.8 87.1" class="m"/>
<path d="M173.7 90.2 167.8 88.3 173.8 87.1Z" fill="#52be6a" stroke="#52be6a"/>
<path d="M167.8 88.3L173.8 87.1" class="m"/>
<path d="M227.7 94.8 226.8 91.4 233.1 93.5Z" fill="#51be6b" stroke="#51be6b"/>
<path d="M227.7 94.8L233.1 93.5M233.1 93.5L226.8 91.4" class="m"/>
<path d="M227.7 94.8 221.3 92.7 226.8 91.4Z" fill="#51be6b" stroke="#51be6b"/>
<path d="M215.8 94.1 215.0 90.7 221.3 92.7Z" fill="#52be6a" stroke="#52be6a"/>
<path d="M215.8 94.1 209.5 92.0 215.0 90.7Z" fill="#52be6a" stroke="#52be6a"/>
<path d="M209.5 92.0L215.0 90.7M215.8 94.1L209.5 92.0" class="m"/>
<path d="M203.8 93.3 203.3 90.1 209.5 92.0Z" fill="#52be6a" stroke="#52be6a"/>
<path d="M203.8 93.3L209.5 92.0M209.5 92.0L203.3 90.1" class="m"/>
<path d="M203.8 93.3 197.6 91.4 203.3 90.1Z" fill="#52be6a" stroke="#52be6a"/>
<path d="M191.8 92.7 191.5 89.5 197.6 91.4Z" fill="#52be6a" stroke="#52be6a"/>
<path d="M191.8 92.7 185.7 90.8 191.5 89.5Z" fill="#52be6a" stroke="#52be6a"/>
<path d="M185.7 90.8L191.5 89.5M191.8 92.7L185.7 90.8" class="m"/>
<path d="M179.7 92.2 179.7 88.9 185.7 90.8Z" fill="#52be6a" stroke="#52be6a"/>
<path d="M179.7 92.2L185.7 90.8M185.7 90.8L179.7 88.9" class="m"/>
<path d="M179.7 92.2 173.7 90.2 179.7 88.9Z" fill="#52be6a" stroke="#52be6a"/>
<path d="M167.6 91.6 161.7 89.6 167.8 88.3Z" fill="#52be6a" stroke="#52be6a"/>
<path d="M161.7 89.6L167.8 88.3M167.6 91.6L161.7 89.6" class="m"/>
<path d="M167.6 91.6 167.8 88.3 173.7 90.2Z" fill="#52be6a" stroke="#52be6a"/>
<path d="M234.7 91.9 233.1 93.5 240.0 91.3Z" fill="url(#g0)" stroke="url(#g0)"/>
<path d="M240.0 91.3L233.1 93.5" class="m"/>
<path d="M234.7 91.9 227.7 94.8 233.1 93.5Z" fill="url(#g1)" stroke="url(#g1)"/>
<path d="M227.7 94.8L233.1 93.5" class="m"/>
<path d="M222.2 96.2 221.3 92.7 227.7 94.8Z" fill="#51be6b" stroke="#51be6b"/>
<path d="M222.2 96.2L227.7 94.8" class="m"/>
<path d="M222.2 96.2 215.8 94.1 221.3 92.7Z" fill="#51be6b" stroke="#51be6b"/>
<path d="M222.2 96.2L215.8 94.1" class="m"/>
<path d="M210.1 95.5 209.5 92.0 215.8 94.1Z" fill="#52be6a" stroke="#52be6a"/>
<path d="M215.8 94.1L209.5 92.0" class="m"/>
<path d="M210.1 95.5 203.8 93.3 209.5 92.0Z" fill="#52be6a" stroke="#52be6a"/>
<path d="M203.8 93.3L209.5 92.0" class="m"/>
<path d="M198.0 94.7 197.6 91.4 203.8 93.3Z" fill="#52be6a" stroke="#52be6a"/>
<path d="M198.0 94.7L203.8 93.3" class="m"/>
<path d="M198.0 94.7 191.8 92.7 197.6 91.4Z" fill="#52be6a" stroke="#52be6a"/>
<path d="M198.0 94.7L191.8 92.7" class="m"/>
<path d="M185.8 94.1 185.7 90.8 191.8 92.7Z" fill="#52be6a" stroke="#52be6a"/>
<path d="M191.8 92.7L185.7 90.8" class="m"/>
<path d="M185.8 94.1 179.7 92.2 185.7 90.8Z" fill="#52be6a" stroke="#52be6a"/>
<path d="M179.7 92.2L185.7 90.8" class="m"/>
<path d="M161.4 92.9 155.5 91.0 161.7 89.6Z" fill="#52be6a" stroke="#52be6a"/>
<path d="M155.5 91.0L161.7 89.6" class="m"/>
<path d="M161.4 92.9 161.7 89.6 167.6 91.6Z" fill="#52be6a" stroke="#52be6a"/>
<path d="M167.6 91.6L161.7 89.6" class="m"/>
<path d="M173.6 93.5 173.7 90.2 179.7 92.2Z" fill="#52be6a" stroke="#52be6a"/>
<path d="M173.6 93.5L179.7 92.2" class="m"/>
<path d="M173.6 93.5 167.6 91.6 173.7 90.2Z" fill="#52be6a" stroke="#52be6a"/>
<path d="M173.6 93.5L167.6 91.6" class="m"/>
<path d="M241.8 88.8 240.0 91.3 247.0 89.2Z" fill="url(#g2)" stroke="url(#g2)"/>
<path d="M241.8 88.8L247.0 89.2M247.0 89.2L240.0 91.3" class="m"/>
<path d="M241.8 88.8 234.7 91.9 240.0 91.3Z" fill="url(#g3)" stroke="url(#g3)"/>
<path d="M229.2 92.4 222.2 96.2 227.7 94.8Z" fill="url(#g4)" stroke="url(#g4)"/>
<path d="M222.2 96.2L227.7 94.8M229.2 92.4L222.2 96.2" class="m"/>
<path d="M229.2 92.4 227.7 94.8 234.7 91.9Z" fill="url(#g5)" stroke="url(#g5)"/>
<path d="M216.5 97.6 215.8 94.1 222.2 96.2Z" fill="#51be6b" stroke="#51be6b"/>
<path d="M216.5 97.6L222.2 96.2M222.2 96.2L215.8 94.1" class="m"/>
<path d="M216.5 97.6 210.1 95.5 215.8 94.1Z" fill="#51be6b" stroke="#51be6b"/>
<path d="M204.3 96.9 203.8 93.3 210.1 95.5Z" fill="#52be6a" stroke="#52be6a"/>
<path d="M204.3 96.9 198.0 94.7 203.8 93.3Z" fill="#52be6a" stroke="#52be6a"/>
<path d="M198.0 94.7L203.8 93.3M204.3 96.9L198.0 94.7" class="m"/>
<path d="M192.0 96.1 191.8 92.7 198.0 94.7Z" fill="#52be6a" stroke="#52be6a"/>
<path d="M192.0 96.1L198.0 94.7M198.0 94.7L191.8 92.7" class="m"/>
<path d="M192.0 96.1 185.8 94.1 191.8 92.7Z" fill="#52be6a" stroke="#52be6a"/>
<path d="M155.0 94.3 149.1 92.3 155.5 91.0Z" fill="#52be6a" stroke="#52be6a"/>
<path d="M149.1 92.3L155.5 91.0M155.0 94.3L149.1 92.3" class="m"/>
<path d="M155.0 94.3 155.5 91.0 161.4 92.9Z" fill="#52be6a" stroke="#52be6a"/>
<path d="M179.7 95.5 179.7 92.2 185.8 94.1Z" fill="#52be6a" stroke="#52be6a"/>
<path d="M179.7 95.5 173.6 93.5 179.7 92.2Z" fill="#52be6a" stroke="#52be6a"/>
<path d="M173.6 93.5L179.7 92.2M179.7 95.5L173.6 93.5" class="m"/>
<path d="M167.4 94.9 161.4 92.9 167.6 91.6Z" fill="#52be6a" stroke="#52be6a"/>
<path d="M167.4 94.9 167.6 91.6 173.6 93.5Z" fill="#52be6a" stroke="#52be6a"/>
<path d="M167.4 94.9L173.6 93.5M173.6 93.5L167.6 91.6" class="m"/>
<path d="M223.2 97.6 216.5 97.6 222.2 96.2Z" fill="url(#g6)" stroke="url(#g6)"/>
<path d="M216.5 97.6L222.2 96.2" class="m"/>
<path d="M223.2 97.6 222.2 96.2 229.2 92.4Z" fill="url(#g7)" stroke="url(#g7)"/>
<path d="M229.2 92.4L222.2 96.2" class="m"/>
<path d="M210.7 99.1 210.1 95.5 216.5 97.6Z" fill="#51be6b" stroke="#51be6b"/>
<path d="M210.7 99.1L216.5 97.6" class="m"/>
<path d="M249.4 81.9 241.8 88.8 247.0 89.2Z" fill="url(#g8)" stroke="url(#g8)"/>
<path d="M241.8 88.8L247.0 89.2" class="m"/>
<path d="M249.4 81.9 247.0 89.2 254.6 82.7Z" fill="url(#g9)" stroke="url(#g9)"/>
<path d="M254.6 82.7L247.0 89.2" class="m"/>
<path d="M236.4 88.5 234.7 91.9 241.8 88.8Z" fill="url(#g10)" stroke="url(#g10)"/>
<path d="M236.4 88.5L241.8 88.8" class="m"/>
<path d="M236.4 88.5 229.2 92.4 234.7 91.9Z" fill="url(#g11)" stroke="url(#g11)"/>
<path d="M236.4 88.5L229.2 92.4" class="m"/>
<path d="M210.7 99.1 204.3 96.9 210.1 95.5Z" fill="#51be6b" stroke="#51be6b"/>
<path d="M210.7 99.1L204.3 96.9" class="m"/>
<path d="M198.3 99.0 198.0 94.7 204.3 96.9Z" fill="url(#g12)" stroke="url(#g12)"/>
<path d="M204.3 96.9L198.0 94.7" class="m"/>
<path d="M198.3 99.0 192.0 96.1 198.0 94.7Z" fill="url(#g13)" stroke="url(#g13)"/>
<path d="M192.0 96.1L198.0 94.7" class="m"/>
<path d="M185.9 97.6 185.8 94.1 192.0 96.1Z" fill="#52be6a" stroke="#52be6a"/>
<path d="M185.9 97.6L192.0 96.1" class="m"/>
<path d="M185.9 97.6 179.7 95.5 185.8 94.1Z" fill="#52be6a" stroke="#52be6a"/>
<path d="M185.9 97.6L179.7 95.5" class="m"/>
<path d="M161.0 96.4 155.0 94.3 161.4 92.9Z" fill="#52be6a" stroke="#52be6a"/>
<path d="M161.0 96.4L155.0 94.3" class="m"/>
<path d="M161.0 96.4 161.4 92.9 167.4 94.9Z" fill="#52be6a" stroke="#52be6a"/>
<path d="M161.0 96.4L167.4 94.9" class="m"/>
<path d="M173.5 97.0 173.6 93.5 179.7 95.5Z" fill="#52be6a" stroke="#52be6a"/>
<path d="M179.7 95.5L173.6 93.5" class="m"/>
<path d="M173.5 97.0 167.4 94.9 173.6 93.5Z" fill="#52be6a" stroke="#52be6a"/>
<path d="M167.4 94.9L173.6 93.5" class="m"/>
<path d="M149.0 81.4 149.1 92.3 155.0 94.3Z" fill="url(#g14)" stroke="url(#g14)"/>
<path d="M155.0 94.3L149.1 92.3" class="m"/>
<path d="M149.0 81.4 143.1 79.5 149.1 92.3Z" fill="url(#g15)" stroke="url(#g15)"/>
<path d="M143.1 79.5L149.1 92.3" class="m"/>
<path d="M217.2 102.9 216.5 97.6 223.2 97.6Z" fill="url(#g16)" stroke="url(#g16)"/>
<path d="M217.2 102.9 210.7 99.1 216.5 97.6Z" fill="url(#g17)" stroke="url(#g17)"/>
<path d="M210.7 99.1L216.5 97.6M217.2 102.9L210.7 99.1" class="m"/>
<path d="M230.1 97.6 223.2 97.6 229.2 92.4Z" fill="url(#g18)" stroke="url(#g18)"/>
<path d="M204.7 101.9 204.3 96.9 210.7 99.1Z" fill="url(#g19)" stroke="url(#g19)"/>
<path d="M204.7 101.9L210.7 99.1M210.7 99.1L204.3 96.9" class="m"/>
<path d="M230.1 97.6 229.2 92.4 236.4 88.5Z" fill="url(#g20)" stroke="url(#g20)"/>
<path d="M230.1 97.6L236.4 88.5M236.4 88.5L229.2 92.4" class="m"/>
<path d="M204.7 101.9 198.3 99.0 204.3 96.9Z" fill="url(#g21)" stroke="url(#g21)"/>
<path d="M192.2 101.1 192.0 96.1 198.3 99.0Z" fill="url(#g22)" stroke="url(#g22)"/>
<path d="M192.2 101.1 185.9 97.6 192.0 96.1Z" fill="url(#g23)" stroke="url(#g23)"/>
<path d="M185.9 97.6L192.0 96.1M192.2 101.1L185.9 97.6" class="m"/>
<path d="M244.1 81.1 236.4 88.5 241.8 88.8Z" fill="url(#g24)" stroke="url(#g24)"/>
<path d="M236.4 88.5L241.8 88.8M244.1 81.1L236.4 88.5" class="m"/>
<path d="M257.2 74.8 254.6 82.7 262.4 76.1Z" fill="url(#g25)" stroke="url(#g25)"/>
<path d="M257.2 74.8L262.4 76.1M262.4 76.1L254.6 82.7" class="m"/>
<path d="M244.1 81.1 241.8 88.8 249.4 81.9Z" fill="url(#g26)" stroke="url(#g26)"/>
<path d="M257.2 74.8 249.4 81.9 254.6 82.7Z" fill="url(#g27)" stroke="url(#g27)"/>
<path d="M179.7 99.0 179.7 95.5 185.9 97.6Z" fill="#52be6a" stroke="#52be6a"/>
<path d="M179.7 99.0L185.9 97.6M185.9 97.6L179.7 95.5" class="m"/>
<path d="M179.7 99.0 173.5 97.0 179.7 95.5Z" fill="#52be6a" stroke="#52be6a"/>
<path d="M167.1 98.4 161.0 96.4 167.4 94.9Z" fill="#52be6a" stroke="#52be6a"/>
<path d="M161.0 96.4L167.4 94.9M167.1 98.4L161.0 96.4" class="m"/>
<path d="M167.1 98.4 167.4 94.9 173.5 97.0Z" fill="#52be6a" stroke="#52be6a"/>
<path d="M155.0 83.3 155.0 94.3 161.0 96.4Z" fill="url(#g28)" stroke="url(#g28)"/>
<path d="M155.0 83.3L161.0 96.4M161.0 96.4L155.0 94.3" class="m"/>
<path d="M155.0 83.3 149.0 81.4 155.0 94.3Z" fill="url(#g29)" stroke="url(#g29)"/>
<path d="M223.8 106.8 217.2 102.9 223.2 97.6Z" fill="url(#g30)" stroke="url(#g30)"/>
<path d="M223.8 106.8L217.2 102.9" class="m"/>
<path d="M223.8 106.8 223.2 97.6 230.1 97.6Z" fill="url(#g31)" stroke="url(#g31)"/>
<path d="M223.8 106.8L230.1 97.6" class="m"/>
<path d="M211.2 106.4 210.7 99.1 217.2 102.9Z" fill="url(#g32)" stroke="url(#g32)"/>
<path d="M217.2 102.9L210.7 99.1" class="m"/>
<path d="M211.2 106.4 204.7 101.9 210.7 99.1Z" fill="url(#g33)" stroke="url(#g33)"/>
<path d="M204.7 101.9L210.7 99.1" class="m"/>
<path d="M142.8 68.0 143.1 79.5 149.0 81.4Z" fill="url(#g34)" stroke="url(#g34)"/>
<path d="M198.6 104.7 198.3 99.0 204.7 101.9Z" fill="url(#g35)" stroke="url(#g35)"/>
<path d="M198.6 104.7L204.7 101.9" class="m"/>
<path d="M198.6 104.7 192.2 101.1 198.3 99.0Z" fill="url(#g36)" stroke="url(#g36)"/>
<path d="M198.6 104.7L192.2 101.1" class="m"/>
<path d="M237.6 91.9 230.1 97.6 236.4 88.5Z" fill="url(#g37)" stroke="url(#g37)"/>
<path d="M230.1 97.6L236.4 88.5" class="m"/>
<path d="M186.0 102.8 185.9 97.6 192.2 101.1Z" fill="url(#g38)" stroke="url(#g38)"/>
<path d="M192.2 101.1L185.9 97.6" class="m"/>
<path d="M142.8 68.0 136.8 66.2 143.1 79.5Z" fill="url(#g39)" stroke="url(#g39)"/>
<path d="M136.8 66.2L143.1 79.5M142.8 68.0L136.8 66.2" class="m"/>
<path d="M186.0 102.8 179.7 99.0 185.9 97.6Z" fill="url(#g40)" stroke="url(#g40)"/>
<path d="M179.7 99.0L185.9 97.6" class="m"/>
<path d="M173.3 100.6 173.5 97.0 179.7 99.0Z" fill="#52be6a" stroke="#52be6a"/>
<path d="M173.3 100.6L179.7 99.0" class="m"/>
<path d="M173.3 100.6 167.1 98.4 173.5 97.0Z" fill="#52be6a" stroke="#52be6a"/>
<path d="M173.3 100.6L167.1 98.4" class="m"/>
<path d="M237.6 91.9 236.4 88.5 244.1 81.1Z" fill="url(#g41)" stroke="url(#g41)"/>
<path d="M244.1 81.1L236.4 88.5" class="m"/>
<path d="M265.3 67.9 262.4 76.1 270.4 69.3Z" fill="url(#g42)" stroke="url(#g42)"/>
<path d="M270.4 69.3L262.4 76.1" class="m"/>
<path d="M265.3 67.9 257.2 74.8 262.4 76.1Z" fill="url(#g43)" stroke="url(#g43)"/>
<path d="M257.2 74.8L262.4 76.1" class="m"/>
<path d="M161.2 86.2 161.0 96.4 167.1 98.4Z" fill="url(#g44)" stroke="url(#g44)"/>
<path d="M167.1 98.4L161.0 96.4" class="m"/>
<path d="M252.0 73.5 249.4 81.9 257.2 74.8Z" fill="url(#g45)" stroke="url(#g45)"/>
<path d="M252.0 73.5L257.2 74.8" class="m"/>
<path d="M252.0 73.5 244.1 81.1 249.4 81.9Z" fill="url(#g46)" stroke="url(#g46)"/>
<path d="M252.0 73.5L244.1 81.1" class="m"/>
<path d="M161.2 86.2 155.0 83.3 161.0 96.4Z" fill="url(#g47)" stroke="url(#g47)"/>
<path d="M155.0 83.3L161.0 96.4" class="m"/>
<path d="M217.7 110.9 217.2 102.9 223.8 106.8Z" fill="url(#g48)" stroke="url(#g48)"/>
<path d="M217.7 110.9L223.8 106.8M223.8 106.8L217.2 102.9" class="m"/>
<path d="M217.7 110.9 211.2 106.4 217.2 102.9Z" fill="url(#g49)" stroke="url(#g49)"/>
<path d="M231.1 102.9 223.8 106.8 230.1 97.6Z" fill="url(#g50)" stroke="url(#g50)"/>
<path d="M223.8 106.8L230.1 97.6M231.1 102.9L223.8 106.8" class="m"/>
<path d="M205.0 109.9 204.7 101.9 211.2 106.4Z" fill="url(#g51)" stroke="url(#g51)"/>
<path d="M205.0 109.9 198.6 104.7 204.7 101.9Z" fill="url(#g52)" stroke="url(#g52)"/>
<path d="M198.6 104.7L204.7 101.9M205.0 109.9L198.6 104.7" class="m"/>
<path d="M231.1 102.9 230.1 97.6 237.6 91.9Z" fill="url(#g53)" stroke="url(#g53)"/>
<path d="M192.4 106.7 192.2 101.1 198.6 104.7Z" fill="url(#g54)" stroke="url(#g54)"/>
<path d="M192.4 106.7L198.6 104.7M198.6 104.7L192.2 101.1" class="m"/>
<path d="M148.9 69.8 149.0 81.4 155.0 83.3Z" fill="url(#g55)" stroke="url(#g55)"/>
<path d="M148.9 69.8L155.0 83.3" class="m"/>
<path d="M192.4 106.7 186.0 102.8 192.2 101.1Z" fill="url(#g56)" stroke="url(#g56)"/>
<path d="M179.6 104.6 179.7 99.0 186.0 102.8Z" fill="url(#g57)" stroke="url(#g57)"/>
<path d="M179.6 104.6 173.3 100.6 179.7 99.0Z" fill="url(#g58)" stroke="url(#g58)"/>
<path d="M173.3 100.6L179.7 99.0M179.6 104.6L173.3 100.6" class="m"/>
<path d="M148.9 69.8 142.8 68.0 149.0 81.4Z" fill="url(#g59)" stroke="url(#g59)"/>
<path d="M148.9 69.8L142.8 68.0" class="m"/>
<path d="M245.3 86.2 237.6 91.9 244.1 81.1Z" fill="url(#g60)" stroke="url(#g60)"/>
<path d="M167.4 89.1 167.1 98.4 173.3 100.6Z" fill="url(#g61)" stroke="url(#g61)"/>
<path d="M167.4 89.1L173.3 100.6M173.3 100.6L167.1 98.4" class="m"/>
<path d="M245.3 86.2 244.1 81.1 252.0 73.5Z" fill="url(#g62)" stroke="url(#g62)"/>
<path d="M245.3 86.2L252.0 73.5M252.0 73.5L244.1 81.1" class="m"/>
<path d="M273.6 60.7 270.4 69.3 278.7 62.3Z" fill="url(#g63)" stroke="url(#g63)"/>
<path d="M273.6 60.7L278.7 62.3M278.7 62.3L270.4 69.3" class="m"/>
<path d="M136.3 54.1 136.8 66.2 142.8 68.0Z" fill="url(#g64)" stroke="url(#g64)"/>
<path d="M142.8 68.0L136.8 66.2" class="m"/>
<path d="M273.6 60.7 265.3 67.9 270.4 69.3Z" fill="url(#g65)" stroke="url(#g65)"/>
<path d="M211.5 115.2 211.2 106.4 217.7 110.9Z" fill="url(#g66)" stroke="url(#g66)"/>
<path d="M211.5 115.2L217.7 110.9" class="m"/>
<path d="M224.9 109.0 217.7 110.9 223.8 106.8Z" fill="url(#g67)" stroke="url(#g67)"/>
<path d="M217.7 110.9L223.8 106.8" class="m"/>
<path d="M260.0 66.4 257.2 74.8 265.3 67.9Z" fill="url(#g68)" stroke="url(#g68)"/>
<path d="M167.4 89.1 161.2 86.2 167.1 98.4Z" fill="url(#g69)" stroke="url(#g69)"/>
<path d="M260.0 66.4 252.0 73.5 257.2 74.8Z" fill="url(#g70)" stroke="url(#g70)"/>
<path d="M252.0 73.5L257.2 74.8M260.0 66.4L252.0 73.5" class="m"/>
<path d="M136.3 54.1 130.3 52.5 136.8 66.2Z" fill="url(#g71)" stroke="url(#g71)"/>
<path d="M130.3 52.5L136.8 66.2" class="m"/>
<path d="M211.5 115.2 205.0 109.9 211.2 106.4Z" fill="url(#g72)" stroke="url(#g72)"/>
<path d="M211.5 115.2L205.0 109.9" class="m"/>
<path d="M224.9 109.0 223.8 106.8 231.1 102.9Z" fill="url(#g73)" stroke="url(#g73)"/>
<path d="M231.1 102.9L223.8 106.8" class="m"/>
<path d="M198.8 112.2 198.6 104.7 205.0 109.9Z" fill="url(#g74)" stroke="url(#g74)"/>
<path d="M205.0 109.9L198.6 104.7" class="m"/>
<path d="M198.8 112.2 192.4 106.7 198.6 104.7Z" fill="url(#g75)" stroke="url(#g75)"/>
<path d="M192.4 106.7L198.6 104.7" class="m"/>
<path d="M238.6 99.0 231.1 102.9 237.6 91.9Z" fill="url(#g76)" stroke="url(#g76)"/>
<path d="M238.6 99.0L231.1 102.9" class="m"/>
<path d="M186.0 108.8 186.0 102.8 192.4 106.7Z" fill="url(#g77)" stroke="url(#g77)"/>
<path d="M186.0 108.8L192.4 106.7" class="m"/>
<path d="M155.0 73.5 155.0 83.3 161.2 86.2Z" fill="url(#g78)" stroke="url(#g78)"/>
<path d="M186.0 108.8 179.6 104.6 186.0 102.8Z" fill="url(#g79)" stroke="url(#g79)"/>
<path d="M186.0 108.8L179.6 104.6" class="m"/>
<path d="M238.6 99.0 237.6 91.9 245.3 86.2Z" fill="url(#g80)" stroke="url(#g80)"/>
<path d="M238.6 99.0L245.3 86.2" class="m"/>
<path d="M155.0 73.5 148.9 69.8 155.0 83.3Z" fill="url(#g81)" stroke="url(#g81)"/>
<path d="M148.9 69.8L155.0 83.3M155.0 73.5L148.9 69.8" class="m"/>
<path d="M173.7 93.7 173.3 100.6 179.6 104.6Z" fill="url(#g82)" stroke="url(#g82)"/>
<path d="M179.6 104.6L173.3 100.6" class="m"/>
<path d="M253.3 79.7 245.3 86.2 252.0 73.5Z" fill="url(#g83)" stroke="url(#g83)"/>
<path d="M245.3 86.2L252.0 73.5" class="m"/>
<path d="M218.5 115.2 211.5 115.2 217.7 110.9Z" fill="url(#g84)" stroke="url(#g84)"/>
<path d="M211.5 115.2L217.7 110.9M218.5 115.2L211.5 115.2" class="m"/>
<path d="M173.7 93.7 167.4 89.1 173.3 100.6Z" fill="url(#g85)" stroke="url(#g85)"/>
<path d="M167.4 89.1L173.3 100.6" class="m"/>
<path d="M205.3 117.8 205.0 109.9 211.5 115.2Z" fill="url(#g86)" stroke="url(#g86)"/>
<path d="M205.3 117.8L211.5 115.2M211.5 115.2L205.0 109.9" class="m"/>
<path d="M218.5 115.2 217.7 110.9 224.9 109.0Z" fill="url(#g87)" stroke="url(#g87)"/>
<path d="M142.5 55.7 142.8 68.0 148.9 69.8Z" fill="url(#g88)" stroke="url(#g88)"/>
<path d="M142.5 55.7L148.9 69.8M148.9 69.8L142.8 68.0" class="m"/>
<path d="M282.4 51.2 278.7 62.3 287.4 53.2Z" fill="url(#g89)" stroke="url(#g89)"/>
<path d="M287.4 53.2L278.7 62.3" class="m"/>
<path d="M205.3 117.8 198.8 112.2 205.0 109.9Z" fill="url(#g90)" stroke="url(#g90)"/>
<path d="M253.3 79.7 252.0 73.5 260.0 66.4Z" fill="url(#g91)" stroke="url(#g91)"/>
<path d="M260.0 66.4L252.0 73.5" class="m"/>
<path d="M282.4 51.2 273.6 60.7 278.7 62.3Z" fill="url(#g92)" stroke="url(#g92)"/>
<path d="M273.6 60.7L278.7 62.3" class="m"/>
<path d="M142.5 55.7 136.3 54.1 142.8 68.0Z" fill="url(#g93)" stroke="url(#g93)"/>
<path d="M232.2 107.0 224.9 109.0 231.1 102.9Z" fill="url(#g94)" stroke="url(#g94)"/>
<path d="M268.4 59.1 265.3 67.9 273.6 60.7Z" fill="url(#g95)" stroke="url(#g95)"/>
<path d="M268.4 59.1L273.6 60.7" class="m"/>
<path d="M268.4 59.1 260.0 66.4 265.3 67.9Z" fill="url(#g96)" stroke="url(#g96)"/>
<path d="M268.4 59.1L260.0 66.4" class="m"/>
<path d="M192.4 114.6 192.4 106.7 198.8 112.2Z" fill="url(#g97)" stroke="url(#g97)"/>
<path d="M232.2 107.0 231.1 102.9 238.6 99.0Z" fill="url(#g98)" stroke="url(#g98)"/>
<path d="M232.2 107.0L238.6 99.0M238.6 99.0L231.1 102.9" class="m"/>
<path d="M192.4 114.6 186.0 108.8 192.4 106.7Z" fill="url(#g99)" stroke="url(#g99)"/>
<path d="M186.0 108.8L192.4 106.7M192.4 114.6L186.0 108.8" class="m"/>
<path d="M129.6 39.7 130.3 52.5 136.3 54.1Z" fill="url(#g100)" stroke="url(#g100)"/>
<path d="M161.3 77.3 161.2 86.2 167.4 89.1Z" fill="url(#g101)" stroke="url(#g101)"/>
<path d="M161.3 77.3L167.4 89.1" class="m"/>
<path d="M129.6 39.7 123.5 38.4 130.3 52.5Z" fill="url(#g102)" stroke="url(#g102)"/>
<path d="M123.5 38.4L130.3 52.5M129.6 39.7L123.5 38.4" class="m"/>
<path d="M246.5 93.1 238.6 99.0 245.3 86.2Z" fill="url(#g103)" stroke="url(#g103)"/>
<path d="M238.6 99.0L245.3 86.2M246.5 93.1L238.6 99.0" class="m"/>
<path d="M161.3 77.3 155.0 73.5 161.2 86.2Z" fill="url(#g104)" stroke="url(#g104)"/>
<path d="M161.3 77.3L155.0 73.5" class="m"/>
<path d="M180.2 98.4 179.6 104.6 186.0 108.8Z" fill="url(#g105)" stroke="url(#g105)"/>
<path d="M180.2 98.4L186.0 108.8M186.0 108.8L179.6 104.6" class="m"/>
<path d="M246.5 93.1 245.3 86.2 253.3 79.7Z" fill="url(#g106)" stroke="url(#g106)"/>
<path d="M180.2 98.4 173.7 93.7 179.6 104.6Z" fill="url(#g107)" stroke="url(#g107)"/>
<path d="M212.2 119.8 205.3 117.8 211.5 115.2Z" fill="url(#g108)" stroke="url(#g108)"/>
<path d="M205.3 117.8L211.5 115.2" class="m"/>
<path d="M212.2 119.8 211.5 115.2 218.5 115.2Z" fill="url(#g109)" stroke="url(#g109)"/>
<path d="M218.5 115.2L211.5 115.2" class="m"/>
<path d="M225.7 115.2 218.5 115.2 224.9 109.0Z" fill="url(#g110)" stroke="url(#g110)"/>
<path d="M225.7 115.2L218.5 115.2" class="m"/>
<path d="M148.6 61.2 148.9 69.8 155.0 73.5Z" fill="url(#g111)" stroke="url(#g111)"/>
<path d="M155.0 73.5L148.9 69.8" class="m"/>
<path d="M199.0 120.5 198.8 112.2 205.3 117.8Z" fill="url(#g112)" stroke="url(#g112)"/>
<path d="M199.0 120.5L205.3 117.8" class="m"/>
<path d="M225.7 115.2 224.9 109.0 232.2 107.0Z" fill="url(#g113)" stroke="url(#g113)"/>
<path d="M225.7 115.2L232.2 107.0" class="m"/>
<path d="M199.0 120.5 192.4 114.6 198.8 112.2Z" fill="url(#g114)" stroke="url(#g114)"/>
<path d="M199.0 120.5L192.4 114.6" class="m"/>
<path d="M261.5 73.0 253.3 79.7 260.0 66.4Z" fill="url(#g115)" stroke="url(#g115)"/>
<path d="M148.6 61.2 142.5 55.7 148.9 69.8Z" fill="url(#g116)" stroke="url(#g116)"/>
<path d="M142.5 55.7L148.9 69.8" class="m"/>
<path d="M291.4 41.3 287.4 53.2 296.3 43.9Z" fill="url(#g117)" stroke="url(#g117)"/>
<path d="M291.4 41.3L296.3 43.9M296.3 43.9L287.4 53.2" class="m"/>
<path d="M239.6 106.9 232.2 107.0 238.6 99.0Z" fill="url(#g118)" stroke="url(#g118)"/>
<path d="M232.2 107.0L238.6 99.0" class="m"/>
<path d="M291.4 41.3 282.4 51.2 287.4 53.2Z" fill="url(#g119)" stroke="url(#g119)"/>
<path d="M261.5 73.0 260.0 66.4 268.4 59.1Z" fill="url(#g120)" stroke="url(#g120)"/>
<path d="M261.5 73.0L268.4 59.1M268.4 59.1L260.0 66.4" class="m"/>
<path d="M167.6 82.4 167.4 89.1 173.7 93.7Z" fill="url(#g121)" stroke="url(#g121)"/>
<path d="M277.2 49.1 273.6 60.7 282.4 51.2Z" fill="url(#g122)" stroke="url(#g122)"/>
<path d="M186.3 109.9 186.0 108.8 192.4 114.6Z" fill="url(#g123)" stroke="url(#g123)"/>
<path d="M192.4 114.6L186.0 108.8" class="m"/>
<path d="M239.6 106.9 238.6 99.0 246.5 93.1Z" fill="url(#g124)" stroke="url(#g124)"/>
<path d="M246.5 93.1L238.6 99.0" class="m"/>
<path d="M277.2 49.1 268.4 59.1 273.6 60.7Z" fill="url(#g125)" stroke="url(#g125)"/>
<path d="M268.4 59.1L273.6 60.7M277.2 49.1L268.4 59.1" class="m"/>
<path d="M122.1 45.7 116.0 44.0 123.5 38.4Z" fill="url(#g126)" stroke="url(#g126)"/>
<path d="M116.0 44.0L123.5 38.4" class="m"/>
<path d="M135.8 41.0 136.3 54.1 142.5 55.7Z" fill="url(#g127)" stroke="url(#g127)"/>
<path d="M135.8 41.0L142.5 55.7" class="m"/>
<path d="M167.6 82.4 161.3 77.3 167.4 89.1Z" fill="url(#g128)" stroke="url(#g128)"/>
<path d="M161.3 77.3L167.4 89.1M167.6 82.4L161.3 77.3" class="m"/>
<path d="M122.1 45.7 123.5 38.4 129.6 39.7Z" fill="url(#g129)" stroke="url(#g129)"/>
<path d="M129.6 39.7L123.5 38.4" class="m"/>
<path d="M135.8 41.0 129.6 39.7 136.3 54.1Z" fill="url(#g130)" stroke="url(#g130)"/>
<path d="M135.8 41.0L129.6 39.7" class="m"/>
<path d="M186.3 109.9 180.2 98.4 186.0 108.8Z" fill="url(#g131)" stroke="url(#g131)"/>
<path d="M180.2 98.4L186.0 108.8" class="m"/>
<path d="M254.6 87.1 246.5 93.1 253.3 79.7Z" fill="url(#g132)" stroke="url(#g132)"/>
<path d="M254.6 87.1L246.5 93.1" class="m"/>
<path d="M205.7 124.6 205.3 117.8 212.2 119.8Z" fill="url(#g133)" stroke="url(#g133)"/>
<path d="M219.3 121.9 212.2 119.8 218.5 115.2Z" fill="url(#g134)" stroke="url(#g134)"/>
<path d="M205.7 124.6 199.0 120.5 205.3 117.8Z" fill="url(#g135)" stroke="url(#g135)"/>
<path d="M199.0 120.5L205.3 117.8M205.7 124.6L199.0 120.5" class="m"/>
<path d="M219.3 121.9 218.5 115.2 225.7 115.2Z" fill="url(#g136)" stroke="url(#g136)"/>
<path d="M219.3 121.9L225.7 115.2M225.7 115.2L218.5 115.2" class="m"/>
<path d="M232.7 120.7 225.7 115.2 232.2 107.0Z" fill="url(#g137)" stroke="url(#g137)"/>
<path d="M225.7 115.2L232.2 107.0M232.7 120.7L225.7 115.2" class="m"/>
<path d="M154.9 66.8 155.0 73.5 161.3 77.3Z" fill="url(#g138)" stroke="url(#g138)"/>
<path d="M154.9 66.8L161.3 77.3M161.3 77.3L155.0 73.5" class="m"/>
<path d="M254.6 87.1 253.3 79.7 261.5 73.0Z" fill="url(#g139)" stroke="url(#g139)"/>
<path d="M254.6 87.1L261.5 73.0" class="m"/>
<path d="M232.7 120.7 232.2 107.0 239.6 106.9Z" fill="url(#g140)" stroke="url(#g140)"/>
<path d="M192.6 121.5 192.4 114.6 199.0 120.5Z" fill="url(#g141)" stroke="url(#g141)"/>
<path d="M192.6 121.5L199.0 120.5M199.0 120.5L192.4 114.6" class="m"/>
<path d="M154.9 66.8 148.6 61.2 155.0 73.5Z" fill="url(#g142)" stroke="url(#g142)"/>
<path d="M300.3 35.6 296.3 43.9 305.2 38.0Z" fill="url(#g143)" stroke="url(#g143)"/>
<path d="M305.2 38.0L296.3 43.9" class="m"/>
<path d="M174.1 87.7 173.7 93.7 180.2 98.4Z" fill="url(#g144)" stroke="url(#g144)"/>
<path d="M174.1 87.7L180.2 98.4" class="m"/>
<path d="M192.6 121.5 186.3 109.9 192.4 114.6Z" fill="url(#g145)" stroke="url(#g145)"/>
<path d="M114.5 51.9 108.4 49.8 116.0 44.0Z" fill="url(#g146)" stroke="url(#g146)"/>
<path d="M108.4 49.8L116.0 44.0M114.5 51.9L108.4 49.8" class="m"/>
<path d="M270.2 64.8 261.5 73.0 268.4 59.1Z" fill="url(#g147)" stroke="url(#g147)"/>
<path d="M261.5 73.0L268.4 59.1" class="m"/>
<path d="M247.2 106.7 239.6 106.9 246.5 93.1Z" fill="url(#g148)" stroke="url(#g148)"/>
<path d="M300.3 35.6 291.4 41.3 296.3 43.9Z" fill="url(#g149)" stroke="url(#g149)"/>
<path d="M291.4 41.3L296.3 43.9" class="m"/>
<path d="M114.5 51.9 116.0 44.0 122.1 45.7Z" fill="url(#g150)" stroke="url(#g150)"/>
<path d="M174.1 87.7 167.6 82.4 173.7 93.7Z" fill="url(#g151)" stroke="url(#g151)"/>
<path d="M174.1 87.7L167.6 82.4" class="m"/>
<path d="M270.2 64.8 268.4 59.1 277.2 49.1Z" fill="url(#g152)" stroke="url(#g152)"/>
<path d="M277.2 49.1L268.4 59.1" class="m"/>
<path d="M141.9 48.4 142.5 55.7 148.6 61.2Z" fill="url(#g153)" stroke="url(#g153)"/>
<path d="M286.3 38.7 282.4 51.2 291.4 41.3Z" fill="url(#g154)" stroke="url(#g154)"/>
<path d="M286.3 38.7L291.4 41.3" class="m"/>
<path d="M247.2 106.7 246.5 93.1 254.6 87.1Z" fill="url(#g155)" stroke="url(#g155)"/>
<path d="M247.2 106.7L254.6 87.1M254.6 87.1L246.5 93.1" class="m"/>
<path d="M286.3 38.7 277.2 49.1 282.4 51.2Z" fill="url(#g156)" stroke="url(#g156)"/>
<path d="M286.3 38.7L277.2 49.1" class="m"/>
<path d="M128.3 47.5 122.1 45.7 129.6 39.7Z" fill="url(#g157)" stroke="url(#g157)"/>
<path d="M141.9 48.4 135.8 41.0 142.5 55.7Z" fill="url(#g158)" stroke="url(#g158)"/>
<path d="M135.8 41.0L142.5 55.7M141.9 48.4L135.8 41.0" class="m"/>
<path d="M128.3 47.5 129.6 39.7 135.8 41.0Z" fill="url(#g159)" stroke="url(#g159)"/>
<path d="M128.3 47.5L135.8 41.0M135.8 41.0L129.6 39.7" class="m"/>
<path d="M226.3 126.6 225.7 115.2 232.7 120.7Z" fill="url(#g160)" stroke="url(#g160)"/>
<path d="M232.7 120.7L225.7 115.2" class="m"/>
<path d="M212.6 128.7 205.7 124.6 212.2 119.8Z" fill="url(#g161)" stroke="url(#g161)"/>
<path d="M212.6 128.7L205.7 124.6" class="m"/>
<path d="M239.7 126.3 232.7 120.7 239.6 106.9Z" fill="url(#g162)" stroke="url(#g162)"/>
<path d="M239.7 126.3L232.7 120.7" class="m"/>
<path d="M212.6 128.7 212.2 119.8 219.3 121.9Z" fill="url(#g163)" stroke="url(#g163)"/>
<path d="M212.6 128.7L219.3 121.9" class="m"/>
<path d="M226.3 126.6 219.3 121.9 225.7 115.2Z" fill="url(#g164)" stroke="url(#g164)"/>
<path d="M219.3 121.9L225.7 115.2" class="m"/>
<path d="M180.0 105.0 180.2 98.4 186.3 109.9Z" fill="url(#g165)" stroke="url(#g165)"/>
<path d="M199.3 126.1 199.0 120.5 205.7 124.6Z" fill="url(#g166)" stroke="url(#g166)"/>
<path d="M205.7 124.6L199.0 120.5" class="m"/>
<path d="M161.2 74.0 161.3 77.3 167.6 82.4Z" fill="url(#g167)" stroke="url(#g167)"/>
<path d="M167.6 82.4L161.3 77.3" class="m"/>
<path d="M106.6 63.8 100.6 61.8 108.4 49.8Z" fill="url(#g168)" stroke="url(#g168)"/>
<path d="M100.6 61.8L108.4 49.8" class="m"/>
<path d="M239.7 126.3 239.6 106.9 247.2 106.7Z" fill="url(#g169)" stroke="url(#g169)"/>
<path d="M239.7 126.3L247.2 106.7" class="m"/>
<path d="M199.3 126.1 192.6 121.5 199.0 120.5Z" fill="url(#g170)" stroke="url(#g170)"/>
<path d="M192.6 121.5L199.0 120.5" class="m"/>
<path d="M263.0 80.7 254.6 87.1 261.5 73.0Z" fill="url(#g171)" stroke="url(#g171)"/>
<path d="M254.6 87.1L261.5 73.0M263.0 80.7L254.6 87.1" class="m"/>
<path d="M161.2 74.0 154.9 66.8 161.3 77.3Z" fill="url(#g172)" stroke="url(#g172)"/>
<path d="M154.9 66.8L161.3 77.3" class="m"/>
<path d="M106.6 63.8 108.4 49.8 114.5 51.9Z" fill="url(#g173)" stroke="url(#g173)"/>
<path d="M114.5 51.9L108.4 49.8" class="m"/>
<path d="M180.0 105.0 174.1 87.7 180.2 98.4Z" fill="url(#g174)" stroke="url(#g174)"/>
<path d="M174.1 87.7L180.2 98.4M180.0 105.0L174.1 87.7" class="m"/>
<path d="M263.0 80.7 261.5 73.0 270.2 64.8Z" fill="url(#g175)" stroke="url(#g175)"/>
<path d="M309.4 29.8 305.2 38.0 314.3 32.0Z" fill="url(#g176)" stroke="url(#g176)"/>
<path d="M309.4 29.8L314.3 32.0M314.3 32.0L305.2 38.0" class="m"/>
<path d="M186.0 122.4 186.3 109.9 192.6 121.5Z" fill="url(#g177)" stroke="url(#g177)"/>
<path d="M186.0 122.4L192.6 121.5" class="m"/>
<path d="M309.4 29.8 300.3 35.6 305.2 38.0Z" fill="url(#g178)" stroke="url(#g178)"/>
<path d="M98.6 75.8 92.7 73.8 100.6 61.8Z" fill="url(#g179)" stroke="url(#g179)"/>
<path d="M92.7 73.8L100.6 61.8M98.6 75.8L92.7 73.8" class="m"/>
<path d="M120.6 54.1 114.5 51.9 122.1 45.7Z" fill="url(#g180)" stroke="url(#g180)"/>
<path d="M120.6 54.1L114.5 51.9" class="m"/>
<path d="M148.2 55.9 148.6 61.2 154.9 66.8Z" fill="url(#g181)" stroke="url(#g181)"/>
<path d="M148.2 55.9L154.9 66.8" class="m"/>
<path d="M255.5 101.1 247.2 106.7 254.6 87.1Z" fill="url(#g182)" stroke="url(#g182)"/>
<path d="M247.2 106.7L254.6 87.1" class="m"/>
<path d="M233.4 131.5 232.7 120.7 239.7 126.3Z" fill="url(#g183)" stroke="url(#g183)"/>
<path d="M233.4 131.5L239.7 126.3M239.7 126.3L232.7 120.7" class="m"/>
<path d="M279.1 56.3 270.2 64.8 277.2 49.1Z" fill="url(#g184)" stroke="url(#g184)"/>
<path d="M120.6 54.1 122.1 45.7 128.3 47.5Z" fill="url(#g185)" stroke="url(#g185)"/>
<path d="M120.6 54.1L128.3 47.5" class="m"/>
<path d="M186.0 122.4 180.0 105.0 186.3 109.9Z" fill="url(#g186)" stroke="url(#g186)"/>
<path d="M186.0 122.4L180.0 105.0" class="m"/>
<path d="M233.4 131.5 226.3 126.6 232.7 120.7Z" fill="url(#g187)" stroke="url(#g187)"/>
<path d="M295.2 33.2 291.4 41.3 300.3 35.6Z" fill="url(#g188)" stroke="url(#g188)"/>
<path d="M148.2 55.9 141.9 48.4 148.6 61.2Z" fill="url(#g189)" stroke="url(#g189)"/>
<path d="M148.2 55.9L141.9 48.4" class="m"/>
<path d="M98.6 75.8 100.6 61.8 106.6 63.8Z" fill="url(#g190)" stroke="url(#g190)"/>
<path d="M219.7 132.7 219.3 121.9 226.3 126.6Z" fill="url(#g191)" stroke="url(#g191)"/>
<path d="M219.7 132.7 212.6 128.7 219.3 121.9Z" fill="url(#g192)" stroke="url(#g192)"/>
<path d="M212.6 128.7L219.3 121.9M219.7 132.7L212.6 128.7" class="m"/>
<path d="M279.1 56.3 277.2 49.1 286.3 38.7Z" fill="url(#g193)" stroke="url(#g193)"/>
<path d="M279.1 56.3L286.3 38.7M286.3 38.7L277.2 49.1" class="m"/>
<path d="M295.2 33.2 286.3 38.7 291.4 41.3Z" fill="url(#g194)" stroke="url(#g194)"/>
<path d="M286.3 38.7L291.4 41.3M295.2 33.2L286.3 38.7" class="m"/>
<path d="M206.2 130.8 205.7 124.6 212.6 128.7Z" fill="url(#g195)" stroke="url(#g195)"/>
<path d="M206.2 130.8L212.6 128.7M212.6 128.7L205.7 124.6" class="m"/>
<path d="M134.5 53.0 128.3 47.5 135.8 41.0Z" fill="url(#g196)" stroke="url(#g196)"/>
<path d="M128.3 47.5L135.8 41.0" class="m"/>
<path d="M247.8 121.6 239.7 126.3 247.2 106.7Z" fill="url(#g197)" stroke="url(#g197)"/>
<path d="M239.7 126.3L247.2 106.7M247.8 121.6L239.7 126.3" class="m"/>
<path d="M167.6 81.4 167.6 82.4 174.1 87.7Z" fill="url(#g198)" stroke="url(#g198)"/>
<path d="M167.6 81.4L174.1 87.7M174.1 87.7L167.6 82.4" class="m"/>
<path d="M255.5 101.1 254.6 87.1 263.0 80.7Z" fill="url(#g199)" stroke="url(#g199)"/>
<path d="M263.0 80.7L254.6 87.1" class="m"/>
<path d="M134.5 53.0 135.8 41.0 141.9 48.4Z" fill="url(#g200)" stroke="url(#g200)"/>
<path d="M141.9 48.4L135.8 41.0" class="m"/>
<path d="M206.2 130.8 199.3 126.1 205.7 124.6Z" fill="url(#g201)" stroke="url(#g201)"/>
<path d="M90.5 89.0 84.7 86.8 92.7 73.8Z" fill="url(#g202)" stroke="url(#g202)"/>
<path d="M84.7 86.8L92.7 73.8" class="m"/>
<path d="M167.6 81.4 161.2 74.0 167.6 82.4Z" fill="url(#g203)" stroke="url(#g203)"/>
<path d="M192.8 127.6 192.6 121.5 199.3 126.1Z" fill="url(#g204)" stroke="url(#g204)"/>
<path d="M112.7 65.8 106.6 63.8 114.5 51.9Z" fill="url(#g205)" stroke="url(#g205)"/>
<path d="M192.8 127.6 186.0 122.4 192.6 121.5Z" fill="url(#g206)" stroke="url(#g206)"/>
<path d="M186.0 122.4L192.6 121.5M192.8 127.6L186.0 122.4" class="m"/>
<path d="M90.5 89.0 92.7 73.8 98.6 75.8Z" fill="url(#g207)" stroke="url(#g207)"/>
<path d="M98.6 75.8L92.7 73.8" class="m"/>
<path d="M247.8 121.6 247.2 106.7 255.5 101.1Z" fill="url(#g208)" stroke="url(#g208)"/>
<path d="M82.4 102.3 76.5 100.0 84.7 86.8Z" fill="url(#g209)" stroke="url(#g209)"/>
<path d="M76.5 100.0L84.7 86.8M82.4 102.3L76.5 100.0" class="m"/>
<path d="M318.9 23.4 314.3 32.0 323.9 24.1Z" fill="url(#g210)" stroke="url(#g210)"/>
<path d="M323.9 24.1L314.3 32.0" class="m"/>
<path d="M271.7 74.0 263.0 80.7 270.2 64.8Z" fill="url(#g211)" stroke="url(#g211)"/>
<path d="M271.7 74.0L263.0 80.7" class="m"/>
<path d="M112.7 65.8 114.5 51.9 120.6 54.1Z" fill="url(#g212)" stroke="url(#g212)"/>
<path d="M112.7 65.8L120.6 54.1M120.6 54.1L114.5 51.9" class="m"/>
<path d="M318.9 23.4 309.4 29.8 314.3 32.0Z" fill="url(#g213)" stroke="url(#g213)"/>
<path d="M309.4 29.8L314.3 32.0" class="m"/>
<path d="M173.6 98.5 174.1 87.7 180.0 105.0Z" fill="url(#g214)" stroke="url(#g214)"/>
<path d="M180.0 105.0L174.1 87.7" class="m"/>
<path d="M154.5 65.3 154.9 66.8 161.2 74.0Z" fill="url(#g215)" stroke="url(#g215)"/>
<path d="M271.7 74.0 270.2 64.8 279.1 56.3Z" fill="url(#g216)" stroke="url(#g216)"/>
<path d="M271.7 74.0L279.1 56.3" class="m"/>
<path d="M241.2 130.6 233.4 131.5 239.7 126.3Z" fill="url(#g217)" stroke="url(#g217)"/>
<path d="M233.4 131.5L239.7 126.3" class="m"/>
<path d="M226.9 136.7 226.3 126.6 233.4 131.5Z" fill="url(#g218)" stroke="url(#g218)"/>
<path d="M226.9 136.7L233.4 131.5" class="m"/>
<path d="M82.4 102.3 84.7 86.8 90.5 89.0Z" fill="url(#g219)" stroke="url(#g219)"/>
<path d="M226.9 136.7 219.7 132.7 226.3 126.6Z" fill="url(#g220)" stroke="url(#g220)"/>
<path d="M226.9 136.7L219.7 132.7" class="m"/>
<path d="M241.2 130.6 239.7 126.3 247.8 121.6Z" fill="url(#g221)" stroke="url(#g221)"/>
<path d="M247.8 121.6L239.7 126.3" class="m"/>
<path d="M154.5 65.3 148.2 55.9 154.9 66.8Z" fill="url(#g222)" stroke="url(#g222)"/>
<path d="M148.2 55.9L154.9 66.8M154.5 65.3L148.2 55.9" class="m"/>
<path d="M126.9 57.7 120.6 54.1 128.3 47.5Z" fill="url(#g223)" stroke="url(#g223)"/>
<path d="M120.6 54.1L128.3 47.5M126.9 57.7L120.6 54.1" class="m"/>
<path d="M213.2 135.9 212.6 128.7 219.7 132.7Z" fill="url(#g224)" stroke="url(#g224)"/>
<path d="M219.7 132.7L212.6 128.7" class="m"/>
<path d="M104.7 77.7 98.6 75.8 106.6 63.8Z" fill="url(#g225)" stroke="url(#g225)"/>
<path d="M104.7 77.7L98.6 75.8" class="m"/>
<path d="M304.4 27.5 300.3 35.6 309.4 29.8Z" fill="url(#g226)" stroke="url(#g226)"/>
<path d="M304.4 27.5L309.4 29.8" class="m"/>
<path d="M179.7 115.8 180.0 105.0 186.0 122.4Z" fill="url(#g227)" stroke="url(#g227)"/>
<path d="M179.7 115.8L186.0 122.4M186.0 122.4L180.0 105.0" class="m"/>
<path d="M126.9 57.7 128.3 47.5 134.5 53.0Z" fill="url(#g228)" stroke="url(#g228)"/>
<path d="M213.2 135.9 206.2 130.8 212.6 128.7Z" fill="url(#g229)" stroke="url(#g229)"/>
<path d="M206.2 130.8L212.6 128.7" class="m"/>
<path d="M173.6 98.5 167.6 81.4 174.1 87.7Z" fill="url(#g230)" stroke="url(#g230)"/>
<path d="M167.6 81.4L174.1 87.7" class="m"/>
<path d="M287.9 50.5 279.1 56.3 286.3 38.7Z" fill="url(#g231)" stroke="url(#g231)"/>
<path d="M279.1 56.3L286.3 38.7" class="m"/>
<path d="M304.4 27.5 295.2 33.2 300.3 35.6Z" fill="url(#g232)" stroke="url(#g232)"/>
<path d="M304.4 27.5L295.2 33.2" class="m"/>
<path d="M140.8 58.6 134.5 53.0 141.9 48.4Z" fill="url(#g233)" stroke="url(#g233)"/>
<path d="M264.0 95.3 255.5 101.1 263.0 80.7Z" fill="url(#g234)" stroke="url(#g234)"/>
<path d="M140.8 58.6 141.9 48.4 148.2 55.9Z" fill="url(#g235)" stroke="url(#g235)"/>
<path d="M140.8 58.6L148.2 55.9M148.2 55.9L141.9 48.4" class="m"/>
<path d="M287.9 50.5 286.3 38.7 295.2 33.2Z" fill="url(#g236)" stroke="url(#g236)"/>
<path d="M295.2 33.2L286.3 38.7" class="m"/>
<path d="M104.7 77.7 106.6 63.8 112.7 65.8Z" fill="url(#g237)" stroke="url(#g237)"/>
<path d="M104.7 77.7L112.7 65.8" class="m"/>
<path d="M199.7 132.9 199.3 126.1 206.2 130.8Z" fill="url(#g238)" stroke="url(#g238)"/>
<path d="M199.7 132.9L206.2 130.8" class="m"/>
<path d="M199.7 132.9 192.8 127.6 199.3 126.1Z" fill="url(#g239)" stroke="url(#g239)"/>
<path d="M199.7 132.9L192.8 127.6" class="m"/>
<path d="M179.7 115.8 173.6 98.5 180.0 105.0Z" fill="url(#g240)" stroke="url(#g240)"/>
<path d="M264.0 95.3 263.0 80.7 271.7 74.0Z" fill="url(#g241)" stroke="url(#g241)"/>
<path d="M264.0 95.3L271.7 74.0M271.7 74.0L263.0 80.7" class="m"/>
<path d="M96.6 91.1 90.5 89.0 98.6 75.8Z" fill="url(#g242)" stroke="url(#g242)"/>
<path d="M256.2 116.8 247.8 121.6 255.5 101.1Z" fill="url(#g243)" stroke="url(#g243)"/>
<path d="M256.2 116.8L247.8 121.6" class="m"/>
<path d="M328.6 16.8 323.9 24.1 333.8 16.0Z" fill="url(#g244)" stroke="url(#g244)"/>
<path d="M328.6 16.8L333.8 16.0M333.8 16.0L323.9 24.1" class="m"/>
<path d="M160.9 74.8 161.2 74.0 167.6 81.4Z" fill="url(#g245)" stroke="url(#g245)"/>
<path d="M160.9 74.8L167.6 81.4" class="m"/>
<path d="M186.3 124.1 186.0 122.4 192.8 127.6Z" fill="url(#g246)" stroke="url(#g246)"/>
<path d="M192.8 127.6L186.0 122.4" class="m"/>
<path d="M118.9 68.9 112.7 65.8 120.6 54.1Z" fill="url(#g247)" stroke="url(#g247)"/>
<path d="M112.7 65.8L120.6 54.1" class="m"/>
<path d="M328.6 16.8 318.9 23.4 323.9 24.1Z" fill="url(#g248)" stroke="url(#g248)"/>
<path d="M96.6 91.1 98.6 75.8 104.7 77.7Z" fill="url(#g249)" stroke="url(#g249)"/>
<path d="M96.6 91.1L104.7 77.7M104.7 77.7L98.6 75.8" class="m"/>
<path d="M234.4 139.8 226.9 136.7 233.4 131.5Z" fill="url(#g250)" stroke="url(#g250)"/>
<path d="M226.9 136.7L233.4 131.5M234.4 139.8L226.9 136.7" class="m"/>
<path d="M88.3 104.7 82.4 102.3 90.5 89.0Z" fill="url(#g251)" stroke="url(#g251)"/>
<path d="M88.3 104.7L82.4 102.3" class="m"/>
<path d="M256.2 116.8 255.5 101.1 264.0 95.3Z" fill="url(#g252)" stroke="url(#g252)"/>
<path d="M256.2 116.8L264.0 95.3" class="m"/>
<path d="M234.4 139.8 233.4 131.5 241.2 130.6Z" fill="url(#g253)" stroke="url(#g253)"/>
<path d="M160.9 74.8 154.5 65.3 161.2 74.0Z" fill="url(#g254)" stroke="url(#g254)"/>
<path d="M160.9 74.8L154.5 65.3" class="m"/>
<path d="M118.9 68.9 120.6 54.1 126.9 57.7Z" fill="url(#g255)" stroke="url(#g255)"/>
<path d="M126.9 57.7L120.6 54.1" class="m"/>
<path d="M220.4 141.0 219.7 132.7 226.9 136.7Z" fill="url(#g256)" stroke="url(#g256)"/>
<path d="M220.4 141.0L226.9 136.7M226.9 136.7L219.7 132.7" class="m"/>
<path d="M186.3 124.1 179.7 115.8 186.0 122.4Z" fill="url(#g257)" stroke="url(#g257)"/>
<path d="M179.7 115.8L186.0 122.4" class="m"/>
<path d="M280.5 68.0 271.7 74.0 279.1 56.3Z" fill="url(#g258)" stroke="url(#g258)"/>
<path d="M271.7 74.0L279.1 56.3M280.5 68.0L271.7 74.0" class="m"/>
<path d="M220.4 141.0 213.2 135.9 219.7 132.7Z" fill="url(#g259)" stroke="url(#g259)"/>
<path d="M313.7 22.6 309.4 29.8 318.9 23.4Z" fill="url(#g260)" stroke="url(#g260)"/>
<path d="M280.5 68.0 279.1 56.3 287.9 50.5Z" fill="url(#g261)" stroke="url(#g261)"/>
<path d="M249.1 129.8 241.2 130.6 247.8 121.6Z" fill="url(#g262)" stroke="url(#g262)"/>
<path d="M133.2 61.3 126.9 57.7 134.5 53.0Z" fill="url(#g263)" stroke="url(#g263)"/>
<path d="M133.2 61.3L126.9 57.7" class="m"/>
<path d="M206.6 139.1 206.2 130.8 213.2 135.9Z" fill="url(#g264)" stroke="url(#g264)"/>
<path d="M147.2 65.5 148.2 55.9 154.5 65.3Z" fill="url(#g265)" stroke="url(#g265)"/>
<path d="M154.5 65.3L148.2 55.9" class="m"/>
<path d="M88.3 104.7 90.5 89.0 96.6 91.1Z" fill="url(#g266)" stroke="url(#g266)"/>
<path d="M88.3 104.7L96.6 91.1" class="m"/>
<path d="M133.2 61.3 134.5 53.0 140.8 58.6Z" fill="url(#g267)" stroke="url(#g267)"/>
<path d="M133.2 61.3L140.8 58.6" class="m"/>
<path d="M313.7 22.6 304.4 27.5 309.4 29.8Z" fill="url(#g268)" stroke="url(#g268)"/>
<path d="M304.4 27.5L309.4 29.8M313.7 22.6L304.4 27.5" class="m"/>
<path d="M147.2 65.5 140.8 58.6 148.2 55.9Z" fill="url(#g269)" stroke="url(#g269)"/>
<path d="M140.8 58.6L148.2 55.9" class="m"/>
<path d="M206.6 139.1 199.7 132.9 206.2 130.8Z" fill="url(#g270)" stroke="url(#g270)"/>
<path d="M199.7 132.9L206.2 130.8M206.6 139.1L199.7 132.9" class="m"/>
<path d="M249.1 129.8 247.8 121.6 256.2 116.8Z" fill="url(#g271)" stroke="url(#g271)"/>
<path d="M249.1 129.8L256.2 116.8M256.2 116.8L247.8 121.6" class="m"/>
<path d="M167.0 91.8 167.6 81.4 173.6 98.5Z" fill="url(#g272)" stroke="url(#g272)"/>
<path d="M297.1 44.6 287.9 50.5 295.2 33.2Z" fill="url(#g273)" stroke="url(#g273)"/>
<path d="M110.9 80.2 104.7 77.7 112.7 65.8Z" fill="url(#g274)" stroke="url(#g274)"/>
<path d="M104.7 77.7L112.7 65.8M110.9 80.2L104.7 77.7" class="m"/>
<path d="M297.1 44.6 295.2 33.2 304.4 27.5Z" fill="url(#g275)" stroke="url(#g275)"/>
<path d="M297.1 44.6L304.4 27.5M304.4 27.5L295.2 33.2" class="m"/>
<path d="M110.9 80.2 112.7 65.8 118.9 68.9Z" fill="url(#g276)" stroke="url(#g276)"/>
<path d="M193.1 132.5 192.8 127.6 199.7 132.9Z" fill="url(#g277)" stroke="url(#g277)"/>
<path d="M193.1 132.5L199.7 132.9M199.7 132.9L192.8 127.6" class="m"/>
<path d="M272.9 87.8 264.0 95.3 271.7 74.0Z" fill="url(#g278)" stroke="url(#g278)"/>
<path d="M264.0 95.3L271.7 74.0" class="m"/>
<path d="M167.0 91.8 160.9 74.8 167.6 81.4Z" fill="url(#g279)" stroke="url(#g279)"/>
<path d="M160.9 74.8L167.6 81.4M167.0 91.8L160.9 74.8" class="m"/>
<path d="M173.2 108.9 173.6 98.5 179.7 115.8Z" fill="url(#g280)" stroke="url(#g280)"/>
<path d="M173.2 108.9L179.7 115.8" class="m"/>
<path d="M193.1 132.5 186.3 124.1 192.8 127.6Z" fill="url(#g281)" stroke="url(#g281)"/>
<path d="M102.7 93.8 96.6 91.1 104.7 77.7Z" fill="url(#g282)" stroke="url(#g282)"/>
<path d="M96.6 91.1L104.7 77.7" class="m"/>
<path d="M272.9 87.8 271.7 74.0 280.5 68.0Z" fill="url(#g283)" stroke="url(#g283)"/>
<path d="M280.5 68.0L271.7 74.0" class="m"/>
<path d="M227.8 144.7 226.9 136.7 234.4 139.8Z" fill="url(#g284)" stroke="url(#g284)"/>
<path d="M234.4 139.8L226.9 136.7" class="m"/>
<path d="M242.0 143.0 234.4 139.8 241.2 130.6Z" fill="url(#g285)" stroke="url(#g285)"/>
<path d="M242.0 143.0L234.4 139.8" class="m"/>
<path d="M227.8 144.7 220.4 141.0 226.9 136.7Z" fill="url(#g286)" stroke="url(#g286)"/>
<path d="M220.4 141.0L226.9 136.7" class="m"/>
<path d="M125.3 71.9 118.9 68.9 126.9 57.7Z" fill="url(#g287)" stroke="url(#g287)"/>
<path d="M265.2 107.8 256.2 116.8 264.0 95.3Z" fill="url(#g288)" stroke="url(#g288)"/>
<path d="M256.2 116.8L264.0 95.3M265.2 107.8L256.2 116.8" class="m"/>
<path d="M242.0 143.0 241.2 130.6 249.1 129.8Z" fill="url(#g289)" stroke="url(#g289)"/>
<path d="M242.0 143.0L249.1 129.8" class="m"/>
<path d="M213.7 145.5 213.2 135.9 220.4 141.0Z" fill="url(#g290)" stroke="url(#g290)"/>
<path d="M213.7 145.5L220.4 141.0" class="m"/>
<path d="M102.7 93.8 104.7 77.7 110.9 80.2Z" fill="url(#g291)" stroke="url(#g291)"/>
<path d="M110.9 80.2L104.7 77.7" class="m"/>
<path d="M173.2 108.9 167.0 91.8 173.6 98.5Z" fill="url(#g292)" stroke="url(#g292)"/>
<path d="M173.2 108.9L167.0 91.8" class="m"/>
<path d="M323.3 17.6 318.9 23.4 328.6 16.8Z" fill="url(#g293)" stroke="url(#g293)"/>
<path d="M323.3 17.6L328.6 16.8" class="m"/>
<path d="M125.3 71.9 126.9 57.7 133.2 61.3Z" fill="url(#g294)" stroke="url(#g294)"/>
<path d="M125.3 71.9L133.2 61.3M133.2 61.3L126.9 57.7" class="m"/>
<path d="M213.7 145.5 206.6 139.1 213.2 135.9Z" fill="url(#g295)" stroke="url(#g295)"/>
<path d="M213.7 145.5L206.6 139.1" class="m"/>
<path d="M153.7 72.5 154.5 65.3 160.9 74.8Z" fill="url(#g296)" stroke="url(#g296)"/>
<path d="M153.7 72.5L160.9 74.8M160.9 74.8L154.5 65.3" class="m"/>
<path d="M289.7 61.8 280.5 68.0 287.9 50.5Z" fill="url(#g297)" stroke="url(#g297)"/>
<path d="M289.7 61.8L280.5 68.0" class="m"/>
<path d="M94.4 107.5 88.3 104.7 96.6 91.1Z" fill="url(#g298)" stroke="url(#g298)"/>
<path d="M88.3 104.7L96.6 91.1M94.4 107.5L88.3 104.7" class="m"/>
<path d="M153.7 72.5 147.2 65.5 154.5 65.3Z" fill="url(#g299)" stroke="url(#g299)"/>
<path d="M179.7 120.4 179.7 115.8 186.3 124.1Z" fill="url(#g300)" stroke="url(#g300)"/>
<path d="M323.3 17.6 313.7 22.6 318.9 23.4Z" fill="url(#g301)" stroke="url(#g301)"/>
<path d="M323.3 17.6L313.7 22.6" class="m"/>
<path d="M289.7 61.8 287.9 50.5 297.1 44.6Z" fill="url(#g302)" stroke="url(#g302)"/>
<path d="M289.7 61.8L297.1 44.6" class="m"/>
<path d="M265.2 107.8 264.0 95.3 272.9 87.8Z" fill="url(#g303)" stroke="url(#g303)"/>
<path d="M139.7 65.7 133.2 61.3 140.8 58.6Z" fill="url(#g304)" stroke="url(#g304)"/>
<path d="M133.2 61.3L140.8 58.6M139.7 65.7L133.2 61.3" class="m"/>
<path d="M139.7 65.7 140.8 58.6 147.2 65.5Z" fill="url(#g305)" stroke="url(#g305)"/>
<path d="M200.0 140.2 199.7 132.9 206.6 139.1Z" fill="url(#g306)" stroke="url(#g306)"/>
<path d="M206.6 139.1L199.7 132.9" class="m"/>
<path d="M306.5 38.5 297.1 44.6 304.4 27.5Z" fill="url(#g307)" stroke="url(#g307)"/>
<path d="M297.1 44.6L304.4 27.5" class="m"/>
<path d="M306.5 38.5 304.4 27.5 313.7 22.6Z" fill="url(#g308)" stroke="url(#g308)"/>
<path d="M313.7 22.6L304.4 27.5" class="m"/>
<path d="M257.9 123.2 249.1 129.8 256.2 116.8Z" fill="url(#g309)" stroke="url(#g309)"/>
<path d="M249.1 129.8L256.2 116.8" class="m"/>
<path d="M94.4 107.5 96.6 91.1 102.7 93.8Z" fill="url(#g310)" stroke="url(#g310)"/>
<path d="M179.7 120.4 173.2 108.9 179.7 115.8Z" fill="url(#g311)" stroke="url(#g311)"/>
<path d="M173.2 108.9L179.7 115.8M179.7 120.4L173.2 108.9" class="m"/>
<path d="M200.0 140.2 193.1 132.5 199.7 132.9Z" fill="url(#g312)" stroke="url(#g312)"/>
<path d="M193.1 132.5L199.7 132.9" class="m"/>
<path d="M117.3 82.8 110.9 80.2 118.9 68.9Z" fill="url(#g313)" stroke="url(#g313)"/>
<path d="M117.3 82.8L110.9 80.2" class="m"/>
<path d="M257.9 123.2 256.2 116.8 265.2 107.8Z" fill="url(#g314)" stroke="url(#g314)"/>
<path d="M265.2 107.8L256.2 116.8" class="m"/>
<path d="M117.3 82.8 118.9 68.9 125.3 71.9Z" fill="url(#g315)" stroke="url(#g315)"/>
<path d="M117.3 82.8L125.3 71.9" class="m"/>
<path d="M160.0 88.7 160.9 74.8 167.0 91.8Z" fill="url(#g316)" stroke="url(#g316)"/>
<path d="M167.0 91.8L160.9 74.8" class="m"/>
<path d="M235.4 148.3 234.4 139.8 242.0 143.0Z" fill="url(#g317)" stroke="url(#g317)"/>
<path d="M235.4 148.3L242.0 143.0M242.0 143.0L234.4 139.8" class="m"/>
<path d="M235.4 148.3 227.8 144.7 234.4 139.8Z" fill="url(#g318)" stroke="url(#g318)"/>
<path d="M282.1 80.1 272.9 87.8 280.5 68.0Z" fill="url(#g319)" stroke="url(#g319)"/>
<path d="M186.3 132.1 186.3 124.1 193.1 132.5Z" fill="url(#g320)" stroke="url(#g320)"/>
<path d="M186.3 132.1L193.1 132.5" class="m"/>
<path d="M221.1 149.6 220.4 141.0 227.8 144.7Z" fill="url(#g321)" stroke="url(#g321)"/>
<path d="M221.1 149.6 213.7 145.5 220.4 141.0Z" fill="url(#g322)" stroke="url(#g322)"/>
<path d="M213.7 145.5L220.4 141.0M221.1 149.6L213.7 145.5" class="m"/>
<path d="M250.4 138.9 242.0 143.0 249.1 129.8Z" fill="url(#g323)" stroke="url(#g323)"/>
<path d="M242.0 143.0L249.1 129.8M250.4 138.9L242.0 143.0" class="m"/>
<path d="M160.0 88.7 153.7 72.5 160.9 74.8Z" fill="url(#g324)" stroke="url(#g324)"/>
<path d="M153.7 72.5L160.9 74.8" class="m"/>
<path d="M109.0 96.4 102.7 93.8 110.9 80.2Z" fill="url(#g325)" stroke="url(#g325)"/>
<path d="M282.1 80.1 280.5 68.0 289.7 61.8Z" fill="url(#g326)" stroke="url(#g326)"/>
<path d="M282.1 80.1L289.7 61.8M289.7 61.8L280.5 68.0" class="m"/>
<path d="M131.7 77.6 125.3 71.9 133.2 61.3Z" fill="url(#g327)" stroke="url(#g327)"/>
<path d="M125.3 71.9L133.2 61.3" class="m"/>
<path d="M207.0 148.0 206.6 139.1 213.7 145.5Z" fill="url(#g328)" stroke="url(#g328)"/>
<path d="M207.0 148.0L213.7 145.5M213.7 145.5L206.6 139.1" class="m"/>
<path d="M186.3 132.1 179.7 120.4 186.3 124.1Z" fill="url(#g329)" stroke="url(#g329)"/>
<path d="M186.3 132.1L179.7 120.4" class="m"/>
<path d="M166.3 105.0 167.0 91.8 173.2 108.9Z" fill="url(#g330)" stroke="url(#g330)"/>
<path d="M166.3 105.0L173.2 108.9M173.2 108.9L167.0 91.8" class="m"/>
<path d="M131.7 77.6 133.2 61.3 139.7 65.7Z" fill="url(#g331)" stroke="url(#g331)"/>
<path d="M139.7 65.7L133.2 61.3" class="m"/>
<path d="M207.0 148.0 200.0 140.2 206.6 139.1Z" fill="url(#g332)" stroke="url(#g332)"/>
<path d="M109.0 96.4 110.9 80.2 117.3 82.8Z" fill="url(#g333)" stroke="url(#g333)"/>
<path d="M109.0 96.4L117.3 82.8M117.3 82.8L110.9 80.2" class="m"/>
<path d="M250.4 138.9 249.1 129.8 257.9 123.2Z" fill="url(#g334)" stroke="url(#g334)"/>
<path d="M299.2 54.5 289.7 61.8 297.1 44.6Z" fill="url(#g335)" stroke="url(#g335)"/>
<path d="M289.7 61.8L297.1 44.6M299.2 54.5L289.7 61.8" class="m"/>
<path d="M146.4 70.1 147.2 65.5 153.7 72.5Z" fill="url(#g336)" stroke="url(#g336)"/>
<path d="M146.4 70.1L153.7 72.5" class="m"/>
<path d="M146.4 70.1 139.7 65.7 147.2 65.5Z" fill="url(#g337)" stroke="url(#g337)"/>
<path d="M146.4 70.1L139.7 65.7" class="m"/>
<path d="M274.5 98.5 265.2 107.8 272.9 87.8Z" fill="url(#g338)" stroke="url(#g338)"/>
<path d="M274.5 98.5L265.2 107.8" class="m"/>
<path d="M299.2 54.5 297.1 44.6 306.5 38.5Z" fill="url(#g339)" stroke="url(#g339)"/>
<path d="M100.7 110.3 94.4 107.5 102.7 93.8Z" fill="url(#g340)" stroke="url(#g340)"/>
<path d="M100.7 110.3L94.4 107.5" class="m"/>
<path d="M316.2 32.2 313.7 22.6 323.3 17.6Z" fill="url(#g341)" stroke="url(#g341)"/>
<path d="M316.2 32.2L323.3 17.6M323.3 17.6L313.7 22.6" class="m"/>
<path d="M316.2 32.2 306.5 38.5 313.7 22.6Z" fill="url(#g342)" stroke="url(#g342)"/>
<path d="M166.3 105.0 160.0 88.7 167.0 91.8Z" fill="url(#g343)" stroke="url(#g343)"/>
<path d="M193.2 141.2 193.1 132.5 200.0 140.2Z" fill="url(#g344)" stroke="url(#g344)"/>
<path d="M274.5 98.5 272.9 87.8 282.1 80.1Z" fill="url(#g345)" stroke="url(#g345)"/>
<path d="M274.5 98.5L282.1 80.1" class="m"/>
<path d="M123.6 89.8 117.3 82.8 125.3 71.9Z" fill="url(#g346)" stroke="url(#g346)"/>
<path d="M117.3 82.8L125.3 71.9M123.6 89.8L117.3 82.8" class="m"/>
<path d="M172.8 118.4 173.2 108.9 179.7 120.4Z" fill="url(#g347)" stroke="url(#g347)"/>
<path d="M179.7 120.4L173.2 108.9" class="m"/>
<path d="M100.7 110.3 102.7 93.8 109.0 96.4Z" fill="url(#g348)" stroke="url(#g348)"/>
<path d="M100.7 110.3L109.0 96.4" class="m"/>
<path d="M193.2 141.2 186.3 132.1 193.1 132.5Z" fill="url(#g349)" stroke="url(#g349)"/>
<path d="M186.3 132.1L193.1 132.5M193.2 141.2L186.3 132.1" class="m"/>
<path d="M228.7 153.8 227.8 144.7 235.4 148.3Z" fill="url(#g350)" stroke="url(#g350)"/>
<path d="M228.7 153.8L235.4 148.3" class="m"/>
<path d="M243.6 147.9 235.4 148.3 242.0 143.0Z" fill="url(#g351)" stroke="url(#g351)"/>
<path d="M235.4 148.3L242.0 143.0" class="m"/>
<path d="M123.6 89.8 125.3 71.9 131.7 77.6Z" fill="url(#g352)" stroke="url(#g352)"/>
<path d="M228.7 153.8 221.1 149.6 227.8 144.7Z" fill="url(#g353)" stroke="url(#g353)"/>
<path d="M228.7 153.8L221.1 149.6" class="m"/>
<path d="M266.9 116.5 257.9 123.2 265.2 107.8Z" fill="url(#g354)" stroke="url(#g354)"/>
<path d="M243.6 147.9 242.0 143.0 250.4 138.9Z" fill="url(#g355)" stroke="url(#g355)"/>
<path d="M250.4 138.9L242.0 143.0" class="m"/>
<path d="M214.4 153.7 213.7 145.5 221.1 149.6Z" fill="url(#g356)" stroke="url(#g356)"/>
<path d="M221.1 149.6L213.7 145.5" class="m"/>
<path d="M172.8 118.4 166.3 105.0 173.2 108.9Z" fill="url(#g357)" stroke="url(#g357)"/>
<path d="M166.3 105.0L173.2 108.9" class="m"/>
<path d="M214.4 153.7 207.0 148.0 213.7 145.5Z" fill="url(#g358)" stroke="url(#g358)"/>
<path d="M207.0 148.0L213.7 145.5" class="m"/>
<path d="M152.7 85.5 153.7 72.5 160.0 88.7Z" fill="url(#g359)" stroke="url(#g359)"/>
<path d="M291.7 71.4 282.1 80.1 289.7 61.8Z" fill="url(#g360)" stroke="url(#g360)"/>
<path d="M282.1 80.1L289.7 61.8" class="m"/>
<path d="M138.3 83.5 131.7 77.6 139.7 65.7Z" fill="url(#g361)" stroke="url(#g361)"/>
<path d="M266.9 116.5 265.2 107.8 274.5 98.5Z" fill="url(#g362)" stroke="url(#g362)"/>
<path d="M266.9 116.5L274.5 98.5M274.5 98.5L265.2 107.8" class="m"/>
<path d="M115.4 101.1 109.0 96.4 117.3 82.8Z" fill="url(#g363)" stroke="url(#g363)"/>
<path d="M109.0 96.4L117.3 82.8" class="m"/>
<path d="M179.3 131.9 179.7 120.4 186.3 132.1Z" fill="url(#g364)" stroke="url(#g364)"/>
<path d="M179.3 131.9L186.3 132.1M186.3 132.1L179.7 120.4" class="m"/>
<path d="M291.7 71.4 289.7 61.8 299.2 54.5Z" fill="url(#g365)" stroke="url(#g365)"/>
<path d="M299.2 54.5L289.7 61.8" class="m"/>
<path d="M152.7 85.5 146.4 70.1 153.7 72.5Z" fill="url(#g366)" stroke="url(#g366)"/>
<path d="M146.4 70.1L153.7 72.5M152.7 85.5L146.4 70.1" class="m"/>
<path d="M200.2 150.5 200.0 140.2 207.0 148.0Z" fill="url(#g367)" stroke="url(#g367)"/>
<path d="M200.2 150.5L207.0 148.0" class="m"/>
<path d="M138.3 83.5 139.7 65.7 146.4 70.1Z" fill="url(#g368)" stroke="url(#g368)"/>
<path d="M138.3 83.5L146.4 70.1M146.4 70.1L139.7 65.7" class="m"/>
<path d="M259.2 134.7 250.4 138.9 257.9 123.2Z" fill="url(#g369)" stroke="url(#g369)"/>
<path d="M259.2 134.7L250.4 138.9" class="m"/>
<path d="M115.4 101.1 117.3 82.8 123.6 89.8Z" fill="url(#g370)" stroke="url(#g370)"/>
<path d="M123.6 89.8L117.3 82.8" class="m"/>
<path d="M309.0 46.9 299.2 54.5 306.5 38.5Z" fill="url(#g371)" stroke="url(#g371)"/>
<path d="M309.0 46.9L299.2 54.5" class="m"/>
<path d="M309.0 46.9 306.5 38.5 316.2 32.2Z" fill="url(#g372)" stroke="url(#g372)"/>
<path d="M309.0 46.9L316.2 32.2" class="m"/>
<path d="M200.2 150.5 193.2 141.2 200.0 140.2Z" fill="url(#g373)" stroke="url(#g373)"/>
<path d="M200.2 150.5L193.2 141.2" class="m"/>
<path d="M179.3 131.9 172.8 118.4 179.7 120.4Z" fill="url(#g374)" stroke="url(#g374)"/>
<path d="M159.1 100.9 160.0 88.7 166.3 105.0Z" fill="url(#g375)" stroke="url(#g375)"/>
<path d="M159.1 100.9L166.3 105.0" class="m"/>
<path d="M107.1 112.6 100.7 110.3 109.0 96.4Z" fill="url(#g376)" stroke="url(#g376)"/>
<path d="M100.7 110.3L109.0 96.4M107.1 112.6L100.7 110.3" class="m"/>
<path d="M259.2 134.7 257.9 123.2 266.9 116.5Z" fill="url(#g377)" stroke="url(#g377)"/>
<path d="M259.2 134.7L266.9 116.5" class="m"/>
<path d="M130.1 97.0 123.6 89.8 131.7 77.6Z" fill="url(#g378)" stroke="url(#g378)"/>
<path d="M130.1 97.0L123.6 89.8" class="m"/>
<path d="M236.5 157.1 228.7 153.8 235.4 148.3Z" fill="url(#g379)" stroke="url(#g379)"/>
<path d="M228.7 153.8L235.4 148.3M236.5 157.1L228.7 153.8" class="m"/>
<path d="M284.2 88.4 274.5 98.5 282.1 80.1Z" fill="url(#g380)" stroke="url(#g380)"/>
<path d="M274.5 98.5L282.1 80.1M284.2 88.4L274.5 98.5" class="m"/>
<path d="M236.5 157.1 235.4 148.3 243.6 147.9Z" fill="url(#g381)" stroke="url(#g381)"/>
<path d="M221.8 159.5 221.1 149.6 228.7 153.8Z" fill="url(#g382)" stroke="url(#g382)"/>
<path d="M221.8 159.5L228.7 153.8M228.7 153.8L221.1 149.6" class="m"/>
<path d="M159.1 100.9 152.7 85.5 160.0 88.7Z" fill="url(#g383)" stroke="url(#g383)"/>
<path d="M159.1 100.9L152.7 85.5" class="m"/>
<path d="M186.2 142.5 186.3 132.1 193.2 141.2Z" fill="url(#g384)" stroke="url(#g384)"/>
<path d="M193.2 141.2L186.3 132.1" class="m"/>
<path d="M130.1 97.0 131.7 77.6 138.3 83.5Z" fill="url(#g385)" stroke="url(#g385)"/>
<path d="M130.1 97.0L138.3 83.5" class="m"/>
<path d="M221.8 159.5 214.4 153.7 221.1 149.6Z" fill="url(#g386)" stroke="url(#g386)"/>
<path d="M107.1 112.6 109.0 96.4 115.4 101.1Z" fill="url(#g387)" stroke="url(#g387)"/>
<path d="M284.2 88.4 282.1 80.1 291.7 71.4Z" fill="url(#g388)" stroke="url(#g388)"/>
<path d="M251.9 147.4 243.6 147.9 250.4 138.9Z" fill="url(#g389)" stroke="url(#g389)"/>
<path d="M186.2 142.5 179.3 131.9 186.3 132.1Z" fill="url(#g390)" stroke="url(#g390)"/>
<path d="M179.3 131.9L186.3 132.1" class="m"/>
<path d="M165.6 116.2 166.3 105.0 172.8 118.4Z" fill="url(#g391)" stroke="url(#g391)"/>
<path d="M207.4 157.9 207.0 148.0 214.4 153.7Z" fill="url(#g392)" stroke="url(#g392)"/>
<path d="M144.8 95.1 138.3 83.5 146.4 70.1Z" fill="url(#g393)" stroke="url(#g393)"/>
<path d="M138.3 83.5L146.4 70.1" class="m"/>
<path d="M144.8 95.1 146.4 70.1 152.7 85.5Z" fill="url(#g394)" stroke="url(#g394)"/>
<path d="M152.7 85.5L146.4 70.1" class="m"/>
<path d="M207.4 157.9 200.2 150.5 207.0 148.0Z" fill="url(#g395)" stroke="url(#g395)"/>
<path d="M200.2 150.5L207.0 148.0M207.4 157.9L200.2 150.5" class="m"/>
<path d="M251.9 147.4 250.4 138.9 259.2 134.7Z" fill="url(#g396)" stroke="url(#g396)"/>
<path d="M251.9 147.4L259.2 134.7M259.2 134.7L250.4 138.9" class="m"/>
<path d="M121.9 105.9 115.4 101.1 123.6 89.8Z" fill="url(#g397)" stroke="url(#g397)"/>
<path d="M165.6 116.2 159.1 100.9 166.3 105.0Z" fill="url(#g398)" stroke="url(#g398)"/>
<path d="M159.1 100.9L166.3 105.0M165.6 116.2L159.1 100.9" class="m"/>
<path d="M276.4 107.4 266.9 116.5 274.5 98.5Z" fill="url(#g399)" stroke="url(#g399)"/>
<path d="M266.9 116.5L274.5 98.5" class="m"/>
<path d="M301.7 62.4 291.7 71.4 299.2 54.5Z" fill="url(#g400)" stroke="url(#g400)"/>
<path d="M121.9 105.9 123.6 89.8 130.1 97.0Z" fill="url(#g401)" stroke="url(#g401)"/>
<path d="M121.9 105.9L130.1 97.0M130.1 97.0L123.6 89.8" class="m"/>
<path d="M301.7 62.4 299.2 54.5 309.0 46.9Z" fill="url(#g402)" stroke="url(#g402)"/>
<path d="M301.7 62.4L309.0 46.9M309.0 46.9L299.2 54.5" class="m"/>
<path d="M193.1 153.3 193.2 141.2 200.2 150.5Z" fill="url(#g403)" stroke="url(#g403)"/>
<path d="M193.1 153.3L200.2 150.5M200.2 150.5L193.2 141.2" class="m"/>
<path d="M172.2 131.7 172.8 118.4 179.3 131.9Z" fill="url(#g404)" stroke="url(#g404)"/>
<path d="M172.2 131.7L179.3 131.9" class="m"/>
<path d="M276.4 107.4 274.5 98.5 284.2 88.4Z" fill="url(#g405)" stroke="url(#g405)"/>
<path d="M284.2 88.4L274.5 98.5" class="m"/>
<path d="M193.1 153.3 186.2 142.5 193.2 141.2Z" fill="url(#g406)" stroke="url(#g406)"/>
<path d="M136.7 104.9 130.1 97.0 138.3 83.5Z" fill="url(#g407)" stroke="url(#g407)"/>
<path d="M130.1 97.0L138.3 83.5M136.7 104.9L130.1 97.0" class="m"/>
<path d="M229.6 163.4 228.7 153.8 236.5 157.1Z" fill="url(#g408)" stroke="url(#g408)"/>
<path d="M236.5 157.1L228.7 153.8" class="m"/>
<path d="M229.6 163.4 221.8 159.5 228.7 153.8Z" fill="url(#g409)" stroke="url(#g409)"/>
<path d="M221.8 159.5L228.7 153.8" class="m"/>
<path d="M244.5 160.4 236.5 157.1 243.6 147.9Z" fill="url(#g410)" stroke="url(#g410)"/>
<path d="M244.5 160.4L236.5 157.1" class="m"/>
<path d="M151.4 106.8 152.7 85.5 159.1 100.9Z" fill="url(#g411)" stroke="url(#g411)"/>
<path d="M151.4 106.8L159.1 100.9M159.1 100.9L152.7 85.5" class="m"/>
<path d="M136.7 104.9 138.3 83.5 144.8 95.1Z" fill="url(#g412)" stroke="url(#g412)"/>
<path d="M268.5 126.5 259.2 134.7 266.9 116.5Z" fill="url(#g413)" stroke="url(#g413)"/>
<path d="M259.2 134.7L266.9 116.5M268.5 126.5L259.2 134.7" class="m"/>
<path d="M172.2 131.7 165.6 116.2 172.8 118.4Z" fill="url(#g414)" stroke="url(#g414)"/>
<path d="M172.2 131.7L165.6 116.2" class="m"/>
<path d="M151.4 106.8 144.8 95.1 152.7 85.5Z" fill="url(#g415)" stroke="url(#g415)"/>
<path d="M214.8 165.3 214.4 153.7 221.8 159.5Z" fill="url(#g416)" stroke="url(#g416)"/>
<path d="M214.8 165.3L221.8 159.5" class="m"/>
<path d="M113.6 115.1 107.1 112.6 115.4 101.1Z" fill="url(#g417)" stroke="url(#g417)"/>
<path d="M113.6 115.1L107.1 112.6" class="m"/>
<path d="M244.5 160.4 243.6 147.9 251.9 147.4Z" fill="url(#g418)" stroke="url(#g418)"/>
<path d="M244.5 160.4L251.9 147.4" class="m"/>
<path d="M214.8 165.3 207.4 157.9 214.4 153.7Z" fill="url(#g419)" stroke="url(#g419)"/>
<path d="M214.8 165.3L207.4 157.9" class="m"/>
<path d="M113.6 115.1 115.4 101.1 121.9 105.9Z" fill="url(#g420)" stroke="url(#g420)"/>
<path d="M113.6 115.1L121.9 105.9" class="m"/>
<path d="M179.0 143.9 179.3 131.9 186.2 142.5Z" fill="url(#g421)" stroke="url(#g421)"/>
<path d="M200.3 162.4 200.2 150.5 207.4 157.9Z" fill="url(#g422)" stroke="url(#g422)"/>
<path d="M207.4 157.9L200.2 150.5" class="m"/>
<path d="M268.5 126.5 266.9 116.5 276.4 107.4Z" fill="url(#g423)" stroke="url(#g423)"/>
<path d="M294.2 78.0 284.2 88.4 291.7 71.4Z" fill="url(#g424)" stroke="url(#g424)"/>
<path d="M294.2 78.0L284.2 88.4" class="m"/>
<path d="M200.3 162.4 193.1 153.3 200.2 150.5Z" fill="url(#g425)" stroke="url(#g425)"/>
<path d="M193.1 153.3L200.2 150.5" class="m"/>
<path d="M179.0 143.9 172.2 131.7 179.3 131.9Z" fill="url(#g426)" stroke="url(#g426)"/>
<path d="M172.2 131.7L179.3 131.9M179.0 143.9L172.2 131.7" class="m"/>
<path d="M260.9 142.9 251.9 147.4 259.2 134.7Z" fill="url(#g427)" stroke="url(#g427)"/>
<path d="M251.9 147.4L259.2 134.7" class="m"/>
<path d="M158.0 119.7 159.1 100.9 165.6 116.2Z" fill="url(#g428)" stroke="url(#g428)"/>
<path d="M165.6 116.2L159.1 100.9" class="m"/>
<path d="M128.6 113.0 121.9 105.9 130.1 97.0Z" fill="url(#g429)" stroke="url(#g429)"/>
<path d="M121.9 105.9L130.1 97.0" class="m"/>
<path d="M294.2 78.0 291.7 71.4 301.7 62.4Z" fill="url(#g430)" stroke="url(#g430)"/>
<path d="M294.2 78.0L301.7 62.4" class="m"/>
<path d="M128.6 113.0 130.1 97.0 136.7 104.9Z" fill="url(#g431)" stroke="url(#g431)"/>
<path d="M136.7 104.9L130.1 97.0" class="m"/>
<path d="M158.0 119.7 151.4 106.8 159.1 100.9Z" fill="url(#g432)" stroke="url(#g432)"/>
<path d="M151.4 106.8L159.1 100.9" class="m"/>
<path d="M143.4 112.9 136.7 104.9 144.8 95.1Z" fill="url(#g433)" stroke="url(#g433)"/>
<path d="M143.4 112.9L136.7 104.9" class="m"/>
<path d="M143.4 112.9 144.8 95.1 151.4 106.8Z" fill="url(#g434)" stroke="url(#g434)"/>
<path d="M143.4 112.9L151.4 106.8" class="m"/>
<path d="M260.9 142.9 259.2 134.7 268.5 126.5Z" fill="url(#g435)" stroke="url(#g435)"/>
<path d="M268.5 126.5L259.2 134.7" class="m"/>
<path d="M185.9 156.2 186.2 142.5 193.1 153.3Z" fill="url(#g436)" stroke="url(#g436)"/>
<path d="M185.9 156.2L193.1 153.3" class="m"/>
<path d="M237.6 167.4 236.5 157.1 244.5 160.4Z" fill="url(#g437)" stroke="url(#g437)"/>
<path d="M237.6 167.4L244.5 160.4M244.5 160.4L236.5 157.1" class="m"/>
<path d="M237.6 167.4 229.6 163.4 236.5 157.1Z" fill="url(#g438)" stroke="url(#g438)"/>
<path d="M222.6 169.9 221.8 159.5 229.6 163.4Z" fill="url(#g439)" stroke="url(#g439)"/>
<path d="M222.6 169.9 214.8 165.3 221.8 159.5Z" fill="url(#g440)" stroke="url(#g440)"/>
<path d="M214.8 165.3L221.8 159.5M222.6 169.9L214.8 165.3" class="m"/>
<path d="M164.7 132.6 165.6 116.2 172.2 131.7Z" fill="url(#g441)" stroke="url(#g441)"/>
<path d="M164.7 132.6L172.2 131.7M172.2 131.7L165.6 116.2" class="m"/>
<path d="M286.3 97.9 276.4 107.4 284.2 88.4Z" fill="url(#g442)" stroke="url(#g442)"/>
<path d="M207.6 171.6 207.4 157.9 214.8 165.3Z" fill="url(#g443)" stroke="url(#g443)"/>
<path d="M207.6 171.6L214.8 165.3M214.8 165.3L207.4 157.9" class="m"/>
<path d="M185.9 156.2 179.0 143.9 186.2 142.5Z" fill="url(#g444)" stroke="url(#g444)"/>
<path d="M185.9 156.2L179.0 143.9" class="m"/>
<path d="M253.2 159.4 244.5 160.4 251.9 147.4Z" fill="url(#g445)" stroke="url(#g445)"/>
<path d="M244.5 160.4L251.9 147.4M253.2 159.4L244.5 160.4" class="m"/>
<path d="M207.6 171.6 200.3 162.4 207.4 157.9Z" fill="url(#g446)" stroke="url(#g446)"/>
<path d="M120.2 121.4 113.6 115.1 121.9 105.9Z" fill="url(#g447)" stroke="url(#g447)"/>
<path d="M113.6 115.1L121.9 105.9M120.2 121.4L113.6 115.1" class="m"/>
<path d="M164.7 132.6 158.0 119.7 165.6 116.2Z" fill="url(#g448)" stroke="url(#g448)"/>
<path d="M286.3 97.9 284.2 88.4 294.2 78.0Z" fill="url(#g449)" stroke="url(#g449)"/>
<path d="M286.3 97.9L294.2 78.0M294.2 78.0L284.2 88.4" class="m"/>
<path d="M120.2 121.4 121.9 105.9 128.6 113.0Z" fill="url(#g450)" stroke="url(#g450)"/>
<path d="M253.2 159.4 251.9 147.4 260.9 142.9Z" fill="url(#g451)" stroke="url(#g451)"/>
<path d="M193.0 167.0 193.1 153.3 200.3 162.4Z" fill="url(#g452)" stroke="url(#g452)"/>
<path d="M171.6 145.1 172.2 131.7 179.0 143.9Z" fill="url(#g453)" stroke="url(#g453)"/>
<path d="M179.0 143.9L172.2 131.7" class="m"/>
<path d="M150.2 123.1 151.4 106.8 158.0 119.7Z" fill="url(#g454)" stroke="url(#g454)"/>
<path d="M135.3 120.3 128.6 113.0 136.7 104.9Z" fill="url(#g455)" stroke="url(#g455)"/>
<path d="M278.3 118.0 268.5 126.5 276.4 107.4Z" fill="url(#g456)" stroke="url(#g456)"/>
<path d="M278.3 118.0L268.5 126.5" class="m"/>
<path d="M135.3 120.3 136.7 104.9 143.4 112.9Z" fill="url(#g457)" stroke="url(#g457)"/>
<path d="M135.3 120.3L143.4 112.9M143.4 112.9L136.7 104.9" class="m"/>
<path d="M193.0 167.0 185.9 156.2 193.1 153.3Z" fill="url(#g458)" stroke="url(#g458)"/>
<path d="M185.9 156.2L193.1 153.3M193.0 167.0L185.9 156.2" class="m"/>
<path d="M150.2 123.1 143.4 112.9 151.4 106.8Z" fill="url(#g459)" stroke="url(#g459)"/>
<path d="M143.4 112.9L151.4 106.8M150.2 123.1L143.4 112.9" class="m"/>
<path d="M171.6 145.1 164.7 132.6 172.2 131.7Z" fill="url(#g460)" stroke="url(#g460)"/>
<path d="M164.7 132.6L172.2 131.7" class="m"/>
<path d="M230.5 174.5 229.6 163.4 237.6 167.4Z" fill="url(#g461)" stroke="url(#g461)"/>
<path d="M230.5 174.5L237.6 167.4" class="m"/>
<path d="M230.5 174.5 222.6 169.9 229.6 163.4Z" fill="url(#g462)" stroke="url(#g462)"/>
<path d="M230.5 174.5L222.6 169.9" class="m"/>
<path d="M278.3 118.0 276.4 107.4 286.3 97.9Z" fill="url(#g463)" stroke="url(#g463)"/>
<path d="M278.3 118.0L286.3 97.9" class="m"/>
<path d="M215.3 177.2 214.8 165.3 222.6 169.9Z" fill="url(#g464)" stroke="url(#g464)"/>
<path d="M222.6 169.9L214.8 165.3" class="m"/>
<path d="M246.1 168.2 237.6 167.4 244.5 160.4Z" fill="url(#g465)" stroke="url(#g465)"/>
<path d="M237.6 167.4L244.5 160.4" class="m"/>
<path d="M215.3 177.2 207.6 171.6 214.8 165.3Z" fill="url(#g466)" stroke="url(#g466)"/>
<path d="M207.6 171.6L214.8 165.3" class="m"/>
<path d="M246.1 168.2 244.5 160.4 253.2 159.4Z" fill="url(#g467)" stroke="url(#g467)"/>
<path d="M253.2 159.4L244.5 160.4" class="m"/>
<path d="M270.2 138.1 260.9 142.9 268.5 126.5Z" fill="url(#g468)" stroke="url(#g468)"/>
<path d="M200.2 178.0 200.3 162.4 207.6 171.6Z" fill="url(#g469)" stroke="url(#g469)"/>
<path d="M200.2 178.0L207.6 171.6" class="m"/>
<path d="M178.5 157.6 179.0 143.9 185.9 156.2Z" fill="url(#g470)" stroke="url(#g470)"/>
<path d="M178.5 157.6L185.9 156.2M185.9 156.2L179.0 143.9" class="m"/>
<path d="M200.2 178.0 193.0 167.0 200.3 162.4Z" fill="url(#g471)" stroke="url(#g471)"/>
<path d="M200.2 178.0L193.0 167.0" class="m"/>
<path d="M157.1 133.6 158.0 119.7 164.7 132.6Z" fill="url(#g472)" stroke="url(#g472)"/>
<path d="M157.1 133.6L164.7 132.6" class="m"/>
<path d="M127.0 127.8 120.2 121.4 128.6 113.0Z" fill="url(#g473)" stroke="url(#g473)"/>
<path d="M127.0 127.8L120.2 121.4" class="m"/>
<path d="M178.5 157.6 171.6 145.1 179.0 143.9Z" fill="url(#g474)" stroke="url(#g474)"/>
<path d="M270.2 138.1 268.5 126.5 278.3 118.0Z" fill="url(#g475)" stroke="url(#g475)"/>
<path d="M270.2 138.1L278.3 118.0M278.3 118.0L268.5 126.5" class="m"/>
<path d="M157.1 133.6 150.2 123.1 158.0 119.7Z" fill="url(#g476)" stroke="url(#g476)"/>
<path d="M157.1 133.6L150.2 123.1" class="m"/>
<path d="M127.0 127.8 128.6 113.0 135.3 120.3Z" fill="url(#g477)" stroke="url(#g477)"/>
<path d="M127.0 127.8L135.3 120.3" class="m"/>
<path d="M262.0 158.4 253.2 159.4 260.9 142.9Z" fill="url(#g478)" stroke="url(#g478)"/>
<path d="M262.0 158.4L253.2 159.4" class="m"/>
<path d="M142.1 129.1 143.4 112.9 150.2 123.1Z" fill="url(#g479)" stroke="url(#g479)"/>
<path d="M150.2 123.1L143.4 112.9" class="m"/>
<path d="M142.1 129.1 135.3 120.3 143.4 112.9Z" fill="url(#g480)" stroke="url(#g480)"/>
<path d="M135.3 120.3L143.4 112.9" class="m"/>
<path d="M185.5 170.8 185.9 156.2 193.0 167.0Z" fill="url(#g481)" stroke="url(#g481)"/>
<path d="M193.0 167.0L185.9 156.2" class="m"/>
<path d="M262.0 158.4 260.9 142.9 270.2 138.1Z" fill="url(#g482)" stroke="url(#g482)"/>
<path d="M262.0 158.4L270.2 138.1" class="m"/>
<path d="M164.0 146.3 164.7 132.6 171.6 145.1Z" fill="url(#g483)" stroke="url(#g483)"/>
<path d="M185.5 170.8 178.5 157.6 185.9 156.2Z" fill="url(#g484)" stroke="url(#g484)"/>
<path d="M178.5 157.6L185.9 156.2" class="m"/>
<path d="M223.1 183.0 215.3 177.2 222.6 169.9Z" fill="url(#g485)" stroke="url(#g485)"/>
<path d="M223.1 183.0 222.6 169.9 230.5 174.5Z" fill="url(#g486)" stroke="url(#g486)"/>
<path d="M223.1 183.0L230.5 174.5M230.5 174.5L222.6 169.9" class="m"/>
<path d="M207.8 184.8 207.6 171.6 215.3 177.2Z" fill="url(#g487)" stroke="url(#g487)"/>
<path d="M238.8 177.2 230.5 174.5 237.6 167.4Z" fill="url(#g488)" stroke="url(#g488)"/>
<path d="M230.5 174.5L237.6 167.4M238.8 177.2L230.5 174.5" class="m"/>
<path d="M207.8 184.8 200.2 178.0 207.6 171.6Z" fill="url(#g489)" stroke="url(#g489)"/>
<path d="M200.2 178.0L207.6 171.6M207.8 184.8L200.2 178.0" class="m"/>
<path d="M238.8 177.2 237.6 167.4 246.1 168.2Z" fill="url(#g490)" stroke="url(#g490)"/>
<path d="M164.0 146.3 157.1 133.6 164.7 132.6Z" fill="url(#g491)" stroke="url(#g491)"/>
<path d="M157.1 133.6L164.7 132.6M164.0 146.3L157.1 133.6" class="m"/>
<path d="M192.6 184.1 193.0 167.0 200.2 178.0Z" fill="url(#g492)" stroke="url(#g492)"/>
<path d="M192.6 184.1L200.2 178.0M200.2 178.0L193.0 167.0" class="m"/>
<path d="M254.7 169.1 246.1 168.2 253.2 159.4Z" fill="url(#g493)" stroke="url(#g493)"/>
<path d="M254.7 169.1 253.2 159.4 262.0 158.4Z" fill="url(#g494)" stroke="url(#g494)"/>
<path d="M254.7 169.1L262.0 158.4M262.0 158.4L253.2 159.4" class="m"/>
<path d="M192.6 184.1 185.5 170.8 193.0 167.0Z" fill="url(#g495)" stroke="url(#g495)"/>
<path d="M149.1 138.2 150.2 123.1 157.1 133.6Z" fill="url(#g496)" stroke="url(#g496)"/>
<path d="M149.1 138.2L157.1 133.6M157.1 133.6L150.2 123.1" class="m"/>
<path d="M133.8 135.3 127.0 127.8 135.3 120.3Z" fill="url(#g497)" stroke="url(#g497)"/>
<path d="M127.0 127.8L135.3 120.3M133.8 135.3L127.0 127.8" class="m"/>
<path d="M170.9 159.2 171.6 145.1 178.5 157.6Z" fill="url(#g498)" stroke="url(#g498)"/>
<path d="M170.9 159.2L178.5 157.6" class="m"/>
<path d="M149.1 138.2 142.1 129.1 150.2 123.1Z" fill="url(#g499)" stroke="url(#g499)"/>
<path d="M133.8 135.3 135.3 120.3 142.1 129.1Z" fill="url(#g500)" stroke="url(#g500)"/>
<path d="M170.9 159.2 164.0 146.3 171.6 145.1Z" fill="url(#g501)" stroke="url(#g501)"/>
<path d="M170.9 159.2L164.0 146.3" class="m"/>
<path d="M215.6 191.7 215.3 177.2 223.1 183.0Z" fill="url(#g502)" stroke="url(#g502)"/>
<path d="M215.6 191.7L223.1 183.0" class="m"/>
<path d="M215.6 191.7 207.8 184.8 215.3 177.2Z" fill="url(#g503)" stroke="url(#g503)"/>
<path d="M215.6 191.7L207.8 184.8" class="m"/>
<path d="M200.2 192.5 200.2 178.0 207.8 184.8Z" fill="url(#g504)" stroke="url(#g504)"/>
<path d="M207.8 184.8L200.2 178.0" class="m"/>
<path d="M177.9 174.6 178.5 157.6 185.5 170.8Z" fill="url(#g505)" stroke="url(#g505)"/>
<path d="M231.5 185.5 223.1 183.0 230.5 174.5Z" fill="url(#g506)" stroke="url(#g506)"/>
<path d="M223.1 183.0L230.5 174.5" class="m"/>
<path d="M200.2 192.5 192.6 184.1 200.2 178.0Z" fill="url(#g507)" stroke="url(#g507)"/>
<path d="M192.6 184.1L200.2 178.0" class="m"/>
<path d="M231.5 185.5 230.5 174.5 238.8 177.2Z" fill="url(#g508)" stroke="url(#g508)"/>
<path d="M238.8 177.2L230.5 174.5" class="m"/>
<path d="M247.3 179.9 238.8 177.2 246.1 168.2Z" fill="url(#g509)" stroke="url(#g509)"/>
<path d="M247.3 179.9L238.8 177.2" class="m"/>
<path d="M156.0 151.4 157.1 133.6 164.0 146.3Z" fill="url(#g510)" stroke="url(#g510)"/>
<path d="M164.0 146.3L157.1 133.6" class="m"/>
<path d="M177.9 174.6 170.9 159.2 178.5 157.6Z" fill="url(#g511)" stroke="url(#g511)"/>
<path d="M170.9 159.2L178.5 157.6M177.9 174.6L170.9 159.2" class="m"/>
<path d="M247.3 179.9 246.1 168.2 254.7 169.1Z" fill="url(#g512)" stroke="url(#g512)"/>
<path d="M247.3 179.9L254.7 169.1" class="m"/>
<path d="M184.9 190.3 185.5 170.8 192.6 184.1Z" fill="url(#g513)" stroke="url(#g513)"/>
<path d="M184.9 190.3L192.6 184.1" class="m"/>
<path d="M156.0 151.4 149.1 138.2 157.1 133.6Z" fill="url(#g514)" stroke="url(#g514)"/>
<path d="M149.1 138.2L157.1 133.6" class="m"/>
<path d="M140.8 142.9 142.1 129.1 149.1 138.2Z" fill="url(#g515)" stroke="url(#g515)"/>
<path d="M140.8 142.9L149.1 138.2" class="m"/>
<path d="M140.8 142.9 133.8 135.3 142.1 129.1Z" fill="url(#g516)" stroke="url(#g516)"/>
<path d="M140.8 142.9L133.8 135.3" class="m"/>
<path d="M184.9 190.3 177.9 174.6 185.5 170.8Z" fill="url(#g517)" stroke="url(#g517)"/>
<path d="M184.9 190.3L177.9 174.6" class="m"/>
<path d="M163.0 164.8 164.0 146.3 170.9 159.2Z" fill="url(#g518)" stroke="url(#g518)"/>
<path d="M163.0 164.8L170.9 159.2M170.9 159.2L164.0 146.3" class="m"/>
<path d="M207.9 201.0 207.8 184.8 215.6 191.7Z" fill="url(#g519)" stroke="url(#g519)"/>
<path d="M207.9 201.0L215.6 191.7M215.6 191.7L207.8 184.8" class="m"/>
<path d="M207.9 201.0 200.2 192.5 207.8 184.8Z" fill="url(#g520)" stroke="url(#g520)"/>
<path d="M224.0 193.9 215.6 191.7 223.1 183.0Z" fill="url(#g521)" stroke="url(#g521)"/>
<path d="M215.6 191.7L223.1 183.0M224.0 193.9L215.6 191.7" class="m"/>
<path d="M192.4 200.3 192.6 184.1 200.2 192.5Z" fill="url(#g522)" stroke="url(#g522)"/>
<path d="M163.0 164.8 156.0 151.4 164.0 146.3Z" fill="url(#g523)" stroke="url(#g523)"/>
<path d="M224.0 193.9 223.1 183.0 231.5 185.5Z" fill="url(#g524)" stroke="url(#g524)"/>
<path d="M192.4 200.3 184.9 190.3 192.6 184.1Z" fill="url(#g525)" stroke="url(#g525)"/>
<path d="M184.9 190.3L192.6 184.1M192.4 200.3L184.9 190.3" class="m"/>
<path d="M240.0 188.0 231.5 185.5 238.8 177.2Z" fill="url(#g526)" stroke="url(#g526)"/>
<path d="M170.0 179.6 170.9 159.2 177.9 174.6Z" fill="url(#g527)" stroke="url(#g527)"/>
<path d="M177.9 174.6L170.9 159.2" class="m"/>
<path d="M240.0 188.0 238.8 177.2 247.3 179.9Z" fill="url(#g528)" stroke="url(#g528)"/>
<path d="M240.0 188.0L247.3 179.9M247.3 179.9L238.8 177.2" class="m"/>
<path d="M147.8 156.6 149.1 138.2 156.0 151.4Z" fill="url(#g529)" stroke="url(#g529)"/>
<path d="M147.8 156.6 140.8 142.9 149.1 138.2Z" fill="url(#g530)" stroke="url(#g530)"/>
<path d="M140.8 142.9L149.1 138.2M147.8 156.6L140.8 142.9" class="m"/>
<path d="M170.0 179.6 163.0 164.8 170.9 159.2Z" fill="url(#g531)" stroke="url(#g531)"/>
<path d="M163.0 164.8L170.9 159.2" class="m"/>
<path d="M177.1 194.6 177.9 174.6 184.9 190.3Z" fill="url(#g532)" stroke="url(#g532)"/>
<path d="M177.1 194.6L184.9 190.3M184.9 190.3L177.9 174.6" class="m"/>
<path d="M200.0 210.6 200.2 192.5 207.9 201.0Z" fill="url(#g533)" stroke="url(#g533)"/>
<path d="M200.0 210.6L207.9 201.0" class="m"/>
<path d="M200.0 210.6 192.4 200.3 200.2 192.5Z" fill="url(#g534)" stroke="url(#g534)"/>
<path d="M200.0 210.6L192.4 200.3" class="m"/>
<path d="M216.2 203.7 207.9 201.0 215.6 191.7Z" fill="url(#g535)" stroke="url(#g535)"/>
<path d="M207.9 201.0L215.6 191.7" class="m"/>
<path d="M177.1 194.6 170.0 179.6 177.9 174.6Z" fill="url(#g536)" stroke="url(#g536)"/>
<path d="M154.8 170.5 156.0 151.4 163.0 164.8Z" fill="url(#g537)" stroke="url(#g537)"/>
<path d="M154.8 170.5L163.0 164.8" class="m"/>
<path d="M216.2 203.7 215.6 191.7 224.0 193.9Z" fill="url(#g538)" stroke="url(#g538)"/>
<path d="M224.0 193.9L215.6 191.7" class="m"/>
<path d="M154.8 170.5 147.8 156.6 156.0 151.4Z" fill="url(#g539)" stroke="url(#g539)"/>
<path d="M154.8 170.5L147.8 156.6" class="m"/>
<path d="M184.7 203.8 184.9 190.3 192.4 200.3Z" fill="url(#g540)" stroke="url(#g540)"/>
<path d="M192.4 200.3L184.9 190.3" class="m"/>
<path d="M232.5 196.2 224.0 193.9 231.5 185.5Z" fill="url(#g541)" stroke="url(#g541)"/>
<path d="M232.5 196.2L224.0 193.9" class="m"/>
<path d="M184.7 203.8 177.1 194.6 184.9 190.3Z" fill="url(#g542)" stroke="url(#g542)"/>
<path d="M177.1 194.6L184.9 190.3" class="m"/>
<path d="M232.5 196.2 231.5 185.5 240.0 188.0Z" fill="url(#g543)" stroke="url(#g543)"/>
<path d="M232.5 196.2L240.0 188.0" class="m"/>
<path d="M161.9 184.7 163.0 164.8 170.0 179.6Z" fill="url(#g544)" stroke="url(#g544)"/>
<path d="M161.9 184.7 154.8 170.5 163.0 164.8Z" fill="url(#g545)" stroke="url(#g545)"/>
<path d="M154.8 170.5L163.0 164.8M161.9 184.7L154.8 170.5" class="m"/>
<path d="M208.3 213.7 200.0 210.6 207.9 201.0Z" fill="url(#g546)" stroke="url(#g546)"/>
<path d="M200.0 210.6L207.9 201.0M208.3 213.7L200.0 210.6" class="m"/>
<path d="M169.1 199.1 170.0 179.6 177.1 194.6Z" fill="url(#g547)" stroke="url(#g547)"/>
<path d="M169.1 199.1L177.1 194.6" class="m"/>
<path d="M192.4 213.1 192.4 200.3 200.0 210.6Z" fill="url(#g548)" stroke="url(#g548)"/>
<path d="M192.4 213.1L200.0 210.6M200.0 210.6L192.4 200.3" class="m"/>
<path d="M208.3 213.7 207.9 201.0 216.2 203.7Z" fill="url(#g549)" stroke="url(#g549)"/>
<path d="M192.4 213.1 184.7 203.8 192.4 200.3Z" fill="url(#g550)" stroke="url(#g550)"/>
<path d="M169.1 199.1 161.9 184.7 170.0 179.6Z" fill="url(#g551)" stroke="url(#g551)"/>
<path d="M169.1 199.1L161.9 184.7" class="m"/>
<path d="M224.7 206.5 216.2 203.7 224.0 193.9Z" fill="url(#g552)" stroke="url(#g552)"/>
<path d="M224.7 206.5 224.0 193.9 232.5 196.2Z" fill="url(#g553)" stroke="url(#g553)"/>
<path d="M224.7 206.5L232.5 196.2M232.5 196.2L224.0 193.9" class="m"/>
<path d="M176.8 207.4 177.1 194.6 184.7 203.8Z" fill="url(#g554)" stroke="url(#g554)"/>
<path d="M176.8 207.4 169.1 199.1 177.1 194.6Z" fill="url(#g555)" stroke="url(#g555)"/>
<path d="M169.1 199.1L177.1 194.6M176.8 207.4L169.1 199.1" class="m"/>
<path d="M200.5 220.1 200.0 210.6 208.3 213.7Z" fill="url(#g556)" stroke="url(#g556)"/>
<path d="M208.3 213.7L200.0 210.6" class="m"/>
<path d="M200.5 220.1 192.4 213.1 200.0 210.6Z" fill="url(#g557)" stroke="url(#g557)"/>
<path d="M192.4 213.1L200.0 210.6" class="m"/>
<path d="M216.8 217.0 208.3 213.7 216.2 203.7Z" fill="url(#g558)" stroke="url(#g558)"/>
<path d="M216.8 217.0L208.3 213.7" class="m"/>
<path d="M216.8 217.0 216.2 203.7 224.7 206.5Z" fill="url(#g559)" stroke="url(#g559)"/>
<path d="M216.8 217.0L224.7 206.5" class="m"/>
<path d="M184.6 215.8 184.7 203.8 192.4 213.1Z" fill="url(#g560)" stroke="url(#g560)"/>
<path d="M184.6 215.8L192.4 213.1" class="m"/>
<path d="M184.6 215.8 176.8 207.4 184.7 203.8Z" fill="url(#g561)" stroke="url(#g561)"/>
<path d="M184.6 215.8L176.8 207.4" class="m"/>
<path d="M208.7 227.2 200.5 220.1 208.3 213.7Z" fill="url(#g562)" stroke="url(#g562)"/>
<path d="M208.7 227.2 208.3 213.7 216.8 217.0Z" fill="url(#g563)" stroke="url(#g563)"/>
<path d="M208.7 227.2L216.8 217.0M216.8 217.0L208.3 213.7" class="m"/>
<path d="M192.4 226.6 192.4 213.1 200.5 220.1Z" fill="url(#g564)" stroke="url(#g564)"/>
<path d="M192.4 226.6 184.6 215.8 192.4 213.1Z" fill="url(#g565)" stroke="url(#g565)"/>
<path d="M184.6 215.8L192.4 213.1M192.4 226.6L184.6 215.8" class="m"/>
<path d="M200.4 237.6 200.5 220.1 208.7 227.2Z" fill="url(#g566)" stroke="url(#g566)"/>
<path d="M200.4 237.6L208.7 227.2" class="m"/>
<path d="M200.4 237.6 192.4 226.6 200.5 220.1Z" fill="url(#g567)" stroke="url(#g567)"/>
<path d="M200.4 237.6L192.4 226.6" class="m"/></g>
<line x1="76.5" y1="0" x2="76.5" y2="171" class="zax"/>
<path d="M76.5 170.98h3.4M76.5 169.24h1.6M76.5 167.50h1.6M76.5 165.76h1.6M76.5 164.01h1.6M76.5 162.26h1.6M76.5 160.51h1.6M76.5 158.75h1.6M76.5 156.99h1.6M76.5 155.22h1.6M76.5 153.46h3.4M76.5 151.69h1.6M76.5 149.91h1.6M76.5 148.14h1.6M76.5 146.36h1.6M76.5 144.57h1.6M76.5 142.79h1.6M76.5 141.00h1.6M76.5 139.20h1.6M76.5 137.40h1.6M76.5 135.60h3.4M76.5 133.80h1.6M76.5 131.99h1.6M76.5 130.18h1.6M76.5 128.37h1.6M76.5 126.55h1.6M76.5 124.73h1.6M76.5 122.90h1.6M76.5 121.08h1.6M76.5 119.24h1.6M76.5 117.41h3.4M76.5 115.57h1.6M76.5 113.73h1.6M76.5 111.88h1.6M76.5 110.03h1.6M76.5 108.18h1.6M76.5 106.32h1.6M76.5 104.46h1.6M76.5 102.60h1.6M76.5 100.73h1.6M76.5 98.86h3.4M76.5 96.99h1.6M76.5 95.11h1.6M76.5 93.23h1.6M76.5 91.34h1.6M76.5 89.45h1.6M76.5 87.56h1.6M76.5 85.66h1.6M76.5 83.76h1.6M76.5 81.86h1.6M76.5 79.95h3.4M76.5 78.04h1.6M76.5 76.13h1.6M76.5 74.21h1.6M76.5 72.28h1.6M76.5 70.36h1.6M76.5 68.43h1.6M76.5 66.49h1.6M76.5 64.56h1.6M76.5 62.61h1.6M76.5 60.67h3.4M76.5 58.72h1.6M76.5 56.77h1.6M76.5 54.81h1.6M76.5 52.85h1.6M76.5 50.88h1.6M76.5 48.92h1.6M76.5 46.94h1.6M76.5 44.97h1.6M76.5 42.99h1.6M76.5 41.00h3.4M76.5 39.01h1.6M76.5 37.02h1.6M76.5 35.03h1.6M76.5 33.02h1.6M76.5 31.02h1.6M76.5 29.01h1.6M76.5 27.00h1.6M76.5 24.98h1.6M76.5 22.96h1.6M76.5 20.94h3.4M76.5 18.91h1.6M76.5 16.88h1.6M76.5 14.84h1.6M76.5 12.80h1.6M76.5 10.76h1.6M76.5 8.71h1.6M76.5 6.65h1.6M76.5 4.60h1.6M76.5 2.53h1.6M76.5 0.47h3.4" class="tk"/>
<line x1="76.53" y1="170.98" x2="200.41" y2="237.62" class="ax"/>
<line x1="200.41" y1="237.62" x2="312.85" y2="180.53" class="ax"/>
<path d="M183.80 228.69v-2.6M215.80 229.80v-2.6M168.04 220.20v-2.6M230.32 222.43v-2.6M153.04 212.14v-2.6M244.05 215.46v-2.6M138.76 204.46v-2.6M257.05 208.86v-2.6M125.15 197.14v-2.6M269.37 202.60v-2.6M112.16 190.15v-2.6M281.06 196.66v-2.6M99.76 183.47v-2.6M292.18 191.02v-2.6M87.89 177.09v-2.6M302.76 185.64v-2.6M76.53 170.98v-2.6M312.85 180.53v-2.6" class="tk"/>
<path d="M197.02 235.79v-1.5M203.56 236.02v-1.5M193.66 233.99v-1.5M206.67 234.43v-1.5M190.34 232.20v-1.5M209.75 232.87v-1.5M187.06 230.43v-1.5M212.79 231.33v-1.5M180.59 226.95v-1.5M218.77 228.29v-1.5M177.40 225.24v-1.5M221.71 226.80v-1.5M174.25 223.54v-1.5M224.61 225.33v-1.5M171.13 221.87v-1.5M227.48 223.87v-1.5M164.98 218.56v-1.5M233.13 221.00v-1.5M161.95 216.93v-1.5M235.91 219.59v-1.5M158.95 215.32v-1.5M238.65 218.20v-1.5M155.98 213.72v-1.5M241.37 216.82v-1.5M150.13 210.57v-1.5M246.71 214.11v-1.5M147.25 209.02v-1.5M249.33 212.77v-1.5M144.39 207.48v-1.5M251.93 211.45v-1.5M141.56 205.96v-1.5M254.50 210.15v-1.5M135.99 202.96v-1.5M259.56 207.58v-1.5M133.24 201.49v-1.5M262.05 206.31v-1.5M130.52 200.02v-1.5M264.52 205.06v-1.5M127.82 198.57v-1.5M266.96 203.83v-1.5M122.51 195.71v-1.5M271.76 201.39v-1.5M119.89 194.30v-1.5M274.12 200.19v-1.5M117.29 192.90v-1.5M276.46 199.00v-1.5M114.71 191.52v-1.5M278.77 197.83v-1.5M109.64 188.79v-1.5M283.33 195.51v-1.5M107.13 187.44v-1.5M285.58 194.37v-1.5M104.65 186.11v-1.5M287.80 193.24v-1.5M102.19 184.78v-1.5M290.00 192.12v-1.5M97.34 182.17v-1.5M294.34 189.92v-1.5M94.95 180.89v-1.5M296.48 188.84v-1.5M92.57 179.61v-1.5M298.59 187.76v-1.5M90.22 178.34v-1.5M300.69 186.70v-1.5M85.58 175.85v-1.5M304.82 184.60v-1.5M83.29 174.61v-1.5M306.85 183.57v-1.5M81.01 173.39v-1.5M308.87 182.54v-1.5M78.76 172.18v-1.5M310.87 181.53v-1.5" class="tk2"/>
<g class="tx">
<rect x="44.2" y="5.1" width="24" height="164.2" fill="url(#cb)" stroke="#000" stroke-width="1"/>
<line x1="38.8" y1="5.1" x2="44" y2="5.1" stroke="#000" stroke-width="0.9"/>
<text x="37.4" y="8.4" class="cl">1.4</text>
<line x1="38.8" y1="25.4" x2="44" y2="25.4" stroke="#000" stroke-width="0.9"/>
<text x="37.4" y="28.7" class="cl">1.2</text>
<line x1="38.8" y1="49.0" x2="44" y2="49.0" stroke="#000" stroke-width="0.9"/>
<text x="37.4" y="52.3" class="cl">1.0</text>
<line x1="38.8" y1="71.7" x2="44" y2="71.7" stroke="#000" stroke-width="0.9"/>
<text x="37.4" y="75.0" class="cl">0.8</text>
<line x1="38.8" y1="95.4" x2="44" y2="95.4" stroke="#000" stroke-width="0.9"/>
<text x="37.4" y="98.7" class="cl">0.6</text>
<line x1="38.8" y1="120.6" x2="44" y2="120.6" stroke="#000" stroke-width="0.9"/>
<text x="37.4" y="123.9" class="cl">0.4</text>
<line x1="38.8" y1="142.9" x2="44" y2="142.9" stroke="#000" stroke-width="0.9"/>
<text x="37.4" y="146.2" class="cl">0.2</text>
<line x1="38.8" y1="169.1" x2="44" y2="169.1" stroke="#000" stroke-width="0.9"/>
<text x="37.4" y="172.4" class="cl">0.0</text>
<text transform="translate(12,107.5) rotate(-90)" class="yl" textLength="43.5" lengthAdjust="spacing"><tspan class="it">γ</tspan>[<tspan class="it">c</tspan><tspan class="it" font-size="10" dy="2.8">s</tspan><tspan dy="-2.8">/</tspan><tspan class="it">a</tspan>]</text>
<text x="76.3" y="185.6" class="tl">9</text>
<text x="86.7" y="192.5" class="tl">8</text>
<text x="98.2" y="198.8" class="tl">7</text>
<text x="111.1" y="206.1" class="tl">6</text>
<text x="123.9" y="213.0" class="tl">5</text>
<text x="137.3" y="220.8" class="tl">4</text>
<text x="151.2" y="228.2" class="tl">3</text>
<text x="166.2" y="236.6" class="tl">2</text>
<text x="182.2" y="244.2" class="tl">1</text>
<text x="216.7" y="245.1" class="tl">1</text>
<text x="232.0" y="238.2" class="tl">2</text>
<text x="245.5" y="230.8" class="tl">3</text>
<text x="258.2" y="225.0" class="tl">4</text>
<text x="270.4" y="219.5" class="tl">5</text>
<text x="282.4" y="212.3" class="tl">6</text>
<text x="293.7" y="206.7" class="tl">7</text>
<text x="304.0" y="201.0" class="tl">8</text>
<text x="313.4" y="196.1" class="tl">9</text>
<text x="200.2" y="250.8" class="tl">0</text>
<text y="234.7" class="it ax1"><tspan x="105.9">a</tspan><tspan x="117.4">L</tspan><tspan x="124.9" font-size="8.6" dy="2.4">T</tspan><tspan x="131.2" font-size="6" dy="1.6">i</tspan></text>
<text y="236.7" class="it ax1"><tspan x="265.9">a</tspan><tspan x="277.6">L</tspan><tspan x="284.6" font-size="8.6" dy="2.4">n</tspan></text>
<path d="M116.3 226.3L112.3 237.5M276.1 228.6L272 239.4" stroke="#111" stroke-width="0.85" fill="none"/>
</g>
</svg></body></html>
